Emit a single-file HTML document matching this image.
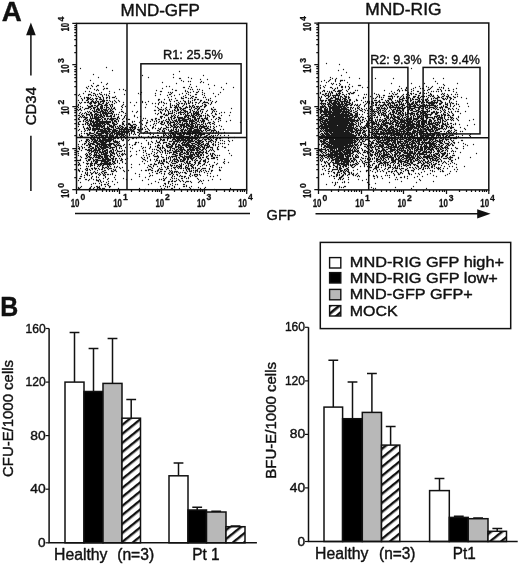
<!DOCTYPE html>
<html><head><meta charset="utf-8"><title>Figure</title>
<style>html,body{margin:0;padding:0;background:#fff}svg{display:block;filter:grayscale(1)}body{font-family:"Liberation Sans",sans-serif}</style></head>
<body>
<svg width="520" height="565" viewBox="0 0 520 565" font-family='"Liberation Sans", sans-serif' fill="#111">
<defs><pattern id="hatch" width="10" height="7" patternUnits="userSpaceOnUse" patternTransform="rotate(-39)"><rect width="10" height="7" fill="#fff"/><rect width="10" height="2.4" fill="#111"/></pattern><pattern id="hatch2" width="10" height="6" patternUnits="userSpaceOnUse" patternTransform="rotate(-40) translate(0 1)"><rect width="10" height="6" fill="#fff"/><rect width="10" height="2.6" fill="#111"/></pattern></defs>
<style>text{stroke:#111;stroke-width:.4px;stroke-linejoin:round}.tk text{stroke-width:.3px}</style>
<rect width="520" height="565" fill="#fff"/>
<text x="1.7" y="20.7" font-size="27.4" text-anchor="start" font-weight="bold" textLength="20" lengthAdjust="spacingAndGlyphs" >A</text>
<text x="0.3" y="315.8" font-size="27.2" text-anchor="start" font-weight="bold" textLength="18" lengthAdjust="spacingAndGlyphs" >B</text>
<text x="120.5" y="16.1" font-size="16" text-anchor="start" textLength="79.3" lengthAdjust="spacingAndGlyphs" stroke-width=".55">MND-GFP</text>
<text x="365.3" y="15.4" font-size="16" text-anchor="start" textLength="76.2" lengthAdjust="spacingAndGlyphs" stroke-width=".55">MND-RIG</text>
<path d="M84.5 109.5h0M109.5 121.5h0M83.5 115.5h0M103.5 99.5h0M84.5 131.5h0M106.5 108.5h0M115.5 101.5h0M97.5 118.5h0M126.5 118.5h0M89.5 129.5h0M99.5 112.5h0M94.5 115.5h0M101.5 105.5h0M110.5 111.5h0M78.5 105.5h0M82.5 116.5h0M81.5 114.5h0M89.5 111.5h0M134.5 115.5h0M107.5 132.5h0M95.5 105.5h0M97.5 109.5h0M99.5 127.5h0M104.5 125.5h0M118.5 121.5h0M105.5 114.5h0M108.5 122.5h0M109.5 116.5h0M112.5 106.5h0M99.5 124.5h0M116.5 119.5h0M104.5 107.5h0M101.5 111.5h0M100.5 122.5h0M87.5 119.5h0M104.5 94.5h0M109.5 100.5h0M106.5 105.5h0M100.5 104.5h0M117.5 118.5h0M90.5 88.5h0M100.5 101.5h0M107.5 129.5h0M125.5 90.5h0M99.5 126.5h0M110.5 105.5h0M98.5 96.5h0M89.5 103.5h0M110.5 118.5h0M78.5 126.5h0M100.5 107.5h0M115.5 127.5h0M98.5 105.5h0M96.5 146.5h0M107.5 83.5h0M109.5 126.5h0M93.5 111.5h0M125.5 106.5h0M99.5 93.5h0M97.5 89.5h0M90.5 120.5h0M106.5 95.5h0M105.5 110.5h0M78.5 124.5h0M91.5 121.5h0M104.5 118.5h0M106.5 113.5h0M94.5 112.5h0M103.5 103.5h0M92.5 117.5h0M83.5 93.5h0M114.5 116.5h0M92.5 130.5h0M100.5 111.5h0M122.5 111.5h0M89.5 147.5h0M113.5 112.5h0M80.5 112.5h0M80.5 68.5h0M110.5 106.5h0M96.5 143.5h0M96.5 135.5h0M104.5 142.5h0M88.5 98.5h0M116.5 130.5h0M81.5 102.5h0M107.5 127.5h0M90.5 123.5h0M85.5 123.5h0M112.5 105.5h0M121.5 115.5h0M96.5 127.5h0M96.5 132.5h0M114.5 103.5h0M113.5 111.5h0M90.5 113.5h0M94.5 129.5h0M79.5 134.5h0M98.5 112.5h0M93.5 95.5h0M100.5 106.5h0M111.5 125.5h0M78.5 104.5h0M90.5 97.5h0M102.5 101.5h0M106.5 142.5h0M106.5 123.5h0M89.5 120.5h0M106.5 102.5h0M109.5 136.5h0M91.5 146.5h0M97.5 106.5h0M89.5 125.5h0M89.5 91.5h0M110.5 116.5h0M100.5 113.5h0M100.5 117.5h0M94.5 131.5h0M91.5 92.5h0M104.5 113.5h0M95.5 113.5h0M102.5 123.5h0M87.5 128.5h0M108.5 145.5h0M95.5 122.5h0M91.5 113.5h0M110.5 113.5h0M96.5 122.5h0M96.5 102.5h0M93.5 129.5h0M84.5 129.5h0M82.5 99.5h0M102.5 117.5h0M114.5 123.5h0M106.5 103.5h0M81.5 135.5h0M88.5 102.5h0M112.5 130.5h0M109.5 119.5h0M93.5 121.5h0M94.5 138.5h0M87.5 130.5h0M103.5 86.5h0M128.5 119.5h0M79.5 119.5h0M87.5 88.5h0M104.5 124.5h0M108.5 107.5h0M80.5 121.5h0M95.5 114.5h0M99.5 119.5h0M88.5 94.5h0M102.5 108.5h0M80.5 116.5h0M107.5 131.5h0M110.5 119.5h0M102.5 116.5h0M100.5 98.5h0M93.5 93.5h0M89.5 126.5h0M106.5 128.5h0M94.5 102.5h0M111.5 138.5h0M103.5 89.5h0M111.5 117.5h0M91.5 118.5h0M85.5 118.5h0M96.5 116.5h0M82.5 100.5h0M86.5 120.5h0M96.5 119.5h0M87.5 117.5h0M122.5 122.5h0M96.5 99.5h0M106.5 104.5h0M107.5 140.5h0M88.5 112.5h0M103.5 97.5h0M103.5 117.5h0M98.5 117.5h0M94.5 125.5h0M88.5 99.5h0M112.5 101.5h0M107.5 103.5h0M86.5 117.5h0M90.5 104.5h0M91.5 115.5h0M102.5 96.5h0M89.5 127.5h0M103.5 122.5h0M97.5 138.5h0M106.5 121.5h0M88.5 86.5h0M106.5 67.5h0M102.5 119.5h0M97.5 108.5h0M103.5 126.5h0M99.5 121.5h0M84.5 102.5h0M105.5 113.5h0M88.5 141.5h0M103.5 115.5h0M79.5 115.5h0M99.5 109.5h0M100.5 112.5h0M85.5 119.5h0M101.5 106.5h0M116.5 148.5h0M123.5 102.5h0M79.5 109.5h0M92.5 101.5h0M86.5 115.5h0M96.5 115.5h0M91.5 138.5h0M103.5 101.5h0M97.5 128.5h0M96.5 114.5h0M113.5 129.5h0M92.5 139.5h0M90.5 124.5h0M87.5 123.5h0M118.5 117.5h0M97.5 85.5h0M97.5 137.5h0M102.5 127.5h0M116.5 131.5h0M91.5 135.5h0M99.5 128.5h0M97.5 119.5h0M91.5 101.5h0M108.5 113.5h0M88.5 128.5h0M101.5 82.5h0M93.5 124.5h0M90.5 129.5h0M114.5 114.5h0M92.5 136.5h0M100.5 114.5h0M84.5 128.5h0M97.5 101.5h0M105.5 111.5h0M94.5 110.5h0M98.5 85.5h0M112.5 118.5h0M114.5 115.5h0M83.5 127.5h0M122.5 105.5h0M104.5 101.5h0M104.5 100.5h0M95.5 117.5h0M83.5 117.5h0M92.5 106.5h0M90.5 128.5h0M94.5 93.5h0M97.5 112.5h0M98.5 110.5h0M108.5 95.5h0M80.5 96.5h0M98.5 118.5h0M124.5 116.5h0M119.5 101.5h0M86.5 108.5h0M106.5 116.5h0M78.5 119.5h0M96.5 129.5h0M93.5 118.5h0M89.5 124.5h0M99.5 110.5h0M92.5 115.5h0M82.5 107.5h0M88.5 121.5h0M100.5 130.5h0M125.5 115.5h0M97.5 124.5h0M115.5 96.5h0M101.5 132.5h0M85.5 124.5h0M98.5 123.5h0M98.5 77.5h0M117.5 128.5h0M102.5 113.5h0M96.5 100.5h0M94.5 118.5h0M112.5 104.5h0M83.5 120.5h0M100.5 102.5h0M97.5 139.5h0M103.5 111.5h0M103.5 131.5h0M99.5 123.5h0M90.5 109.5h0M102.5 126.5h0M79.5 147.5h0M91.5 99.5h0M97.5 144.5h0M88.5 108.5h0M116.5 98.5h0M102.5 111.5h0M94.5 124.5h0M98.5 119.5h0M102.5 95.5h0M95.5 134.5h0M97.5 107.5h0M87.5 97.5h0M94.5 109.5h0M121.5 129.5h0M108.5 121.5h0M101.5 125.5h0M93.5 102.5h0M119.5 125.5h0M98.5 101.5h0M91.5 105.5h0M89.5 106.5h0M103.5 98.5h0M102.5 130.5h0M105.5 129.5h0M106.5 94.5h0M104.5 121.5h0M111.5 112.5h0M84.5 119.5h0M113.5 118.5h0M79.5 121.5h0M96.5 142.5h0M111.5 104.5h0M109.5 97.5h0M93.5 122.5h0M101.5 92.5h0M79.5 117.5h0M90.5 107.5h0M114.5 118.5h0M84.5 113.5h0M95.5 135.5h0M105.5 132.5h0M110.5 133.5h0M109.5 138.5h0M113.5 119.5h0M81.5 117.5h0M92.5 110.5h0M96.5 155.5h0M93.5 108.5h0M101.5 101.5h0M90.5 80.5h0M107.5 110.5h0M110.5 101.5h0M99.5 122.5h0M109.5 108.5h0M79.5 129.5h0M103.5 113.5h0M91.5 119.5h0M101.5 104.5h0M93.5 99.5h0M103.5 128.5h0M96.5 86.5h0M106.5 120.5h0M123.5 104.5h0M101.5 126.5h0M85.5 117.5h0M93.5 74.5h0M84.5 97.5h0M94.5 132.5h0M101.5 108.5h0M94.5 105.5h0M107.5 126.5h0M78.5 146.5h0M96.5 98.5h0M109.5 96.5h0M118.5 114.5h0M109.5 134.5h0M105.5 109.5h0M97.5 120.5h0M85.5 112.5h0M112.5 119.5h0M104.5 123.5h0M101.5 127.5h0M101.5 122.5h0M109.5 93.5h0M94.5 103.5h0M106.5 109.5h0M81.5 110.5h0M87.5 98.5h0M106.5 106.5h0M77.5 106.5h0M106.5 131.5h0M109.5 113.5h0M96.5 124.5h0M87.5 120.5h0M132.5 111.5h0M100.5 123.5h0M95.5 103.5h0M85.5 102.5h0M97.5 105.5h0M97.5 126.5h0M111.5 120.5h0M96.5 126.5h0M100.5 119.5h0M101.5 109.5h0M90.5 133.5h0M103.5 102.5h0M104.5 109.5h0M94.5 111.5h0M82.5 115.5h0M100.5 139.5h0M90.5 106.5h0M96.5 113.5h0M117.5 117.5h0M89.5 98.5h0M78.5 115.5h0M105.5 130.5h0M109.5 124.5h0M90.5 102.5h0M109.5 98.5h0M111.5 115.5h0M93.5 139.5h0M106.5 84.5h0M93.5 120.5h0M83.5 124.5h0M86.5 87.5h0M90.5 103.5h0M119.5 89.5h0M114.5 92.5h0M90.5 118.5h0M127.5 136.5h0M104.5 130.5h0M113.5 97.5h0M92.5 86.5h0M99.5 97.5h0M101.5 121.5h0M94.5 116.5h0M105.5 112.5h0M124.5 117.5h0M89.5 133.5h0M87.5 102.5h0M98.5 116.5h0M102.5 100.5h0M105.5 104.5h0M92.5 118.5h0M89.5 115.5h0M89.5 119.5h0M96.5 117.5h0M95.5 121.5h0M87.5 111.5h0M86.5 128.5h0M99.5 136.5h0M78.5 110.5h0M88.5 106.5h0M84.5 117.5h0M79.5 102.5h0M96.5 110.5h0M94.5 142.5h0M98.5 125.5h0M94.5 117.5h0M87.5 114.5h0M114.5 107.5h0M90.5 116.5h0M98.5 109.5h0M122.5 132.5h0M87.5 137.5h0M80.5 103.5h0M114.5 100.5h0M108.5 102.5h0M98.5 114.5h0M98.5 103.5h0M114.5 129.5h0M89.5 107.5h0M95.5 116.5h0M121.5 109.5h0M126.5 129.5h0M90.5 112.5h0M91.5 85.5h0M104.5 119.5h0M103.5 125.5h0M124.5 144.5h0M106.5 88.5h0M103.5 112.5h0M96.5 125.5h0M96.5 121.5h0M89.5 144.5h0M99.5 103.5h0M96.5 123.5h0M88.5 134.5h0M86.5 100.5h0M112.5 123.5h0M95.5 95.5h0M124.5 94.5h0M85.5 108.5h0M98.5 90.5h0M98.5 124.5h0M95.5 98.5h0M107.5 88.5h0M101.5 114.5h0M80.5 109.5h0M79.5 94.5h0M91.5 114.5h0M83.5 121.5h0M87.5 99.5h0M101.5 130.5h0M92.5 129.5h0M104.5 116.5h0M91.5 120.5h0M80.5 106.5h0M102.5 137.5h0M99.5 99.5h0M100.5 97.5h0M83.5 126.5h0M87.5 108.5h0M96.5 90.5h0M85.5 121.5h0M100.5 124.5h0M104.5 105.5h0M107.5 111.5h0M88.5 125.5h0M96.5 96.5h0M102.5 105.5h0M107.5 97.5h0M107.5 134.5h0M108.5 109.5h0M93.5 107.5h0M101.5 115.5h0M79.5 113.5h0M104.5 115.5h0M80.5 108.5h0M106.5 112.5h0M134.5 105.5h0M99.5 104.5h0M90.5 117.5h0M78.5 107.5h0M113.5 116.5h0M109.5 111.5h0M96.5 118.5h0M88.5 97.5h0M108.5 127.5h0M107.5 124.5h0M81.5 98.5h0M84.5 98.5h0M102.5 106.5h0M101.5 99.5h0M93.5 101.5h0M103.5 121.5h0M95.5 111.5h0M94.5 126.5h0M97.5 111.5h0M78.5 95.5h0M94.5 108.5h0M107.5 119.5h0M100.5 135.5h0M100.5 116.5h0M118.5 100.5h0M89.5 94.5h0M91.5 108.5h0M104.5 112.5h0M92.5 116.5h0M95.5 124.5h0M102.5 107.5h0M95.5 102.5h0M79.5 124.5h0M107.5 116.5h0M86.5 140.5h0M101.5 94.5h0M84.5 143.5h0M95.5 118.5h0M92.5 100.5h0M87.5 105.5h0M106.5 97.5h0M98.5 108.5h0M91.5 102.5h0M106.5 100.5h0M94.5 130.5h0M97.5 117.5h0M110.5 109.5h0M87.5 122.5h0M108.5 112.5h0M109.5 125.5h0M97.5 94.5h0M103.5 100.5h0M81.5 136.5h0M88.5 101.5h0M116.5 122.5h0M87.5 127.5h0M88.5 107.5h0M94.5 89.5h0M94.5 123.5h0M112.5 114.5h0M82.5 113.5h0M78.5 123.5h0M108.5 116.5h0M85.5 91.5h0M91.5 95.5h0M92.5 133.5h0M118.5 120.5h0M106.5 98.5h0M98.5 130.5h0M98.5 104.5h0M95.5 107.5h0M102.5 112.5h0M112.5 102.5h0M107.5 105.5h0M100.5 129.5h0M109.5 91.5h0M97.5 98.5h0M88.5 95.5h0M109.5 135.5h0M107.5 135.5h0M105.5 105.5h0M94.5 122.5h0M78.5 130.5h0M93.5 127.5h0M128.5 130.5h0M114.5 108.5h0M103.5 114.5h0M86.5 118.5h0M91.5 106.5h0M104.5 138.5h0M95.5 101.5h0M93.5 130.5h0M100.5 121.5h0M100.5 108.5h0M105.5 118.5h0M92.5 114.5h0M92.5 122.5h0M100.5 99.5h0M105.5 121.5h0M104.5 110.5h0M77.5 109.5h0M104.5 88.5h0M86.5 113.5h0M111.5 108.5h0M89.5 130.5h0M93.5 83.5h0M121.5 146.5h0M97.5 122.5h0M101.5 110.5h0M86.5 97.5h0M99.5 115.5h0M78.5 118.5h0M103.5 135.5h0M108.5 118.5h0M87.5 134.5h0M87.5 100.5h0M92.5 105.5h0M106.5 107.5h0M97.5 123.5h0M97.5 131.5h0M103.5 109.5h0M91.5 103.5h0M111.5 113.5h0M78.5 122.5h0M90.5 94.5h0M123.5 89.5h0M78.5 100.5h0M95.5 94.5h0M107.5 118.5h0M102.5 103.5h0M91.5 124.5h0M81.5 133.5h0M114.5 97.5h0M93.5 128.5h0M92.5 126.5h0M79.5 170.5h0M113.5 108.5h0M122.5 155.5h0M103.5 130.5h0M96.5 137.5h0M93.5 137.5h0M93.5 143.5h0M119.5 163.5h0M106.5 136.5h0M98.5 148.5h0M115.5 124.5h0M108.5 139.5h0M93.5 142.5h0M119.5 126.5h0M91.5 178.5h0M97.5 140.5h0M105.5 122.5h0M90.5 135.5h0M107.5 168.5h0M114.5 170.5h0M90.5 99.5h0M114.5 137.5h0M93.5 135.5h0M115.5 146.5h0M104.5 151.5h0M109.5 152.5h0M98.5 164.5h0M95.5 139.5h0M107.5 150.5h0M106.5 122.5h0M98.5 150.5h0M102.5 144.5h0M94.5 149.5h0M111.5 129.5h0M113.5 171.5h0M110.5 159.5h0M108.5 183.5h0M102.5 158.5h0M114.5 141.5h0M115.5 150.5h0M121.5 151.5h0M120.5 151.5h0M94.5 128.5h0M99.5 144.5h0M91.5 149.5h0M104.5 155.5h0M106.5 182.5h0M111.5 150.5h0M116.5 149.5h0M97.5 151.5h0M105.5 133.5h0M99.5 156.5h0M87.5 161.5h0M97.5 114.5h0M114.5 130.5h0M107.5 162.5h0M113.5 151.5h0M96.5 111.5h0M105.5 159.5h0M105.5 157.5h0M105.5 154.5h0M92.5 98.5h0M98.5 126.5h0M102.5 132.5h0M91.5 161.5h0M107.5 163.5h0M129.5 139.5h0M111.5 133.5h0M110.5 143.5h0M99.5 131.5h0M114.5 163.5h0M93.5 144.5h0M119.5 147.5h0M88.5 129.5h0M110.5 110.5h0M96.5 128.5h0M104.5 163.5h0M113.5 149.5h0M113.5 128.5h0M106.5 157.5h0M102.5 141.5h0M96.5 148.5h0M104.5 139.5h0M112.5 160.5h0M99.5 139.5h0M99.5 137.5h0M101.5 162.5h0M110.5 115.5h0M86.5 145.5h0M104.5 126.5h0M116.5 146.5h0M89.5 132.5h0M112.5 135.5h0M104.5 157.5h0M125.5 163.5h0M106.5 132.5h0M106.5 115.5h0M116.5 152.5h0M112.5 163.5h0M88.5 123.5h0M99.5 179.5h0M103.5 154.5h0M108.5 144.5h0M104.5 160.5h0M107.5 113.5h0M108.5 124.5h0M107.5 159.5h0M100.5 142.5h0M107.5 153.5h0M108.5 155.5h0M104.5 143.5h0M93.5 126.5h0M103.5 141.5h0M103.5 178.5h0M90.5 158.5h0M112.5 153.5h0M108.5 160.5h0M95.5 151.5h0M101.5 136.5h0M110.5 138.5h0M96.5 149.5h0M116.5 102.5h0M116.5 136.5h0M96.5 156.5h0M118.5 137.5h0M107.5 179.5h0M96.5 145.5h0M101.5 118.5h0M97.5 145.5h0M102.5 145.5h0M94.5 164.5h0M80.5 137.5h0M101.5 140.5h0M94.5 160.5h0M99.5 120.5h0M114.5 154.5h0M106.5 158.5h0M123.5 178.5h0M112.5 174.5h0M116.5 147.5h0M103.5 158.5h0M106.5 161.5h0M85.5 169.5h0M103.5 165.5h0M113.5 122.5h0M112.5 132.5h0M113.5 139.5h0M111.5 135.5h0M110.5 160.5h0M97.5 160.5h0M110.5 135.5h0M96.5 160.5h0M98.5 128.5h0M102.5 147.5h0M117.5 155.5h0M100.5 115.5h0M109.5 162.5h0M113.5 164.5h0M108.5 185.5h0M98.5 155.5h0M103.5 143.5h0M99.5 154.5h0M119.5 118.5h0M106.5 162.5h0M98.5 141.5h0M99.5 141.5h0M113.5 150.5h0M100.5 141.5h0M99.5 151.5h0M120.5 145.5h0M105.5 156.5h0M101.5 147.5h0M109.5 130.5h0M110.5 145.5h0M110.5 147.5h0M113.5 136.5h0M89.5 159.5h0M92.5 163.5h0M86.5 141.5h0M96.5 106.5h0M110.5 162.5h0M115.5 141.5h0M113.5 162.5h0M113.5 125.5h0M99.5 157.5h0M125.5 113.5h0M100.5 137.5h0M100.5 151.5h0M101.5 129.5h0M102.5 139.5h0M101.5 146.5h0M91.5 150.5h0M102.5 154.5h0M101.5 154.5h0M103.5 148.5h0M94.5 150.5h0M103.5 164.5h0M104.5 122.5h0M101.5 134.5h0M109.5 156.5h0M94.5 107.5h0M87.5 124.5h0M104.5 164.5h0M96.5 161.5h0M95.5 137.5h0M101.5 185.5h0M86.5 139.5h0M91.5 165.5h0M101.5 142.5h0M79.5 135.5h0M104.5 145.5h0M115.5 158.5h0M102.5 151.5h0M94.5 140.5h0M121.5 139.5h0M107.5 144.5h0M113.5 140.5h0M95.5 141.5h0M116.5 144.5h0M114.5 144.5h0M121.5 138.5h0M109.5 148.5h0M90.5 138.5h0M109.5 186.5h0M117.5 154.5h0M88.5 150.5h0M88.5 159.5h0M116.5 153.5h0M108.5 166.5h0M95.5 173.5h0M105.5 124.5h0M104.5 148.5h0M105.5 135.5h0M100.5 134.5h0M121.5 106.5h0M120.5 127.5h0M114.5 133.5h0M113.5 123.5h0M100.5 149.5h0M106.5 149.5h0M124.5 134.5h0M105.5 146.5h0M105.5 147.5h0M108.5 129.5h0M111.5 164.5h0M92.5 137.5h0M102.5 142.5h0M106.5 153.5h0M117.5 126.5h0M98.5 135.5h0M110.5 156.5h0M100.5 131.5h0M80.5 165.5h0M106.5 133.5h0M95.5 129.5h0M123.5 139.5h0M103.5 142.5h0M94.5 134.5h0M105.5 131.5h0M116.5 142.5h0M105.5 138.5h0M119.5 167.5h0M103.5 153.5h0M104.5 129.5h0M104.5 131.5h0M105.5 155.5h0M97.5 166.5h0M105.5 150.5h0M111.5 127.5h0M95.5 161.5h0M108.5 158.5h0M96.5 136.5h0M99.5 188.5h0M96.5 152.5h0M111.5 155.5h0M112.5 181.5h0M103.5 159.5h0M102.5 124.5h0M103.5 146.5h0M114.5 156.5h0M108.5 167.5h0M102.5 150.5h0M97.5 129.5h0M122.5 161.5h0M103.5 181.5h0M96.5 162.5h0M119.5 158.5h0M103.5 139.5h0M109.5 128.5h0M100.5 155.5h0M87.5 140.5h0M98.5 138.5h0M123.5 123.5h0M104.5 159.5h0M116.5 171.5h0M90.5 121.5h0M98.5 120.5h0M119.5 133.5h0M97.5 133.5h0M116.5 141.5h0M79.5 149.5h0M100.5 144.5h0M85.5 179.5h0M94.5 156.5h0M95.5 155.5h0M108.5 133.5h0M104.5 140.5h0M97.5 159.5h0M90.5 150.5h0M93.5 148.5h0M115.5 159.5h0M83.5 162.5h0M121.5 131.5h0M99.5 150.5h0M107.5 161.5h0M101.5 144.5h0M114.5 142.5h0M104.5 156.5h0M112.5 121.5h0M99.5 158.5h0M108.5 141.5h0M113.5 135.5h0M102.5 166.5h0M92.5 168.5h0M87.5 133.5h0M99.5 187.5h0M95.5 154.5h0M102.5 143.5h0M112.5 147.5h0M117.5 145.5h0M90.5 148.5h0M93.5 150.5h0M105.5 184.5h0M106.5 139.5h0M101.5 131.5h0M110.5 168.5h0M96.5 163.5h0M110.5 153.5h0M107.5 139.5h0M107.5 151.5h0M98.5 165.5h0M104.5 162.5h0M126.5 133.5h0M108.5 137.5h0M120.5 160.5h0M102.5 171.5h0M114.5 145.5h0M119.5 148.5h0M93.5 155.5h0M110.5 157.5h0M96.5 153.5h0M117.5 161.5h0M106.5 130.5h0M96.5 168.5h0M116.5 114.5h0M101.5 163.5h0M111.5 144.5h0M95.5 150.5h0M81.5 157.5h0M92.5 165.5h0M118.5 188.5h0M97.5 157.5h0M115.5 126.5h0M99.5 186.5h0M120.5 131.5h0M122.5 123.5h0M88.5 160.5h0M110.5 150.5h0M88.5 144.5h0M91.5 143.5h0M117.5 162.5h0M99.5 134.5h0M102.5 140.5h0M95.5 149.5h0M81.5 146.5h0M114.5 162.5h0M114.5 124.5h0M119.5 151.5h0M105.5 158.5h0M97.5 188.5h0M98.5 180.5h0M115.5 131.5h0M106.5 152.5h0M95.5 145.5h0M111.5 147.5h0M102.5 160.5h0M88.5 143.5h0M108.5 138.5h0M105.5 136.5h0M89.5 145.5h0M113.5 144.5h0M104.5 172.5h0M109.5 164.5h0M98.5 131.5h0M115.5 118.5h0M122.5 153.5h0M111.5 171.5h0M110.5 122.5h0M110.5 146.5h0M91.5 141.5h0M111.5 140.5h0M117.5 119.5h0M107.5 114.5h0M123.5 170.5h0M105.5 137.5h0M91.5 151.5h0M112.5 148.5h0M114.5 153.5h0M107.5 133.5h0M95.5 157.5h0M102.5 122.5h0M93.5 161.5h0M93.5 157.5h0M103.5 163.5h0M101.5 135.5h0M85.5 143.5h0M105.5 144.5h0M109.5 122.5h0M90.5 153.5h0M90.5 144.5h0M93.5 160.5h0M84.5 116.5h0M101.5 157.5h0M103.5 140.5h0M103.5 133.5h0M110.5 148.5h0M100.5 180.5h0M95.5 169.5h0M112.5 158.5h0M101.5 164.5h0M104.5 150.5h0M110.5 164.5h0M122.5 150.5h0M101.5 152.5h0M98.5 133.5h0M90.5 143.5h0M104.5 184.5h0M107.5 149.5h0M98.5 158.5h0M94.5 139.5h0M97.5 187.5h0M110.5 121.5h0M96.5 133.5h0M105.5 142.5h0M110.5 129.5h0M97.5 147.5h0M93.5 125.5h0M107.5 158.5h0M110.5 139.5h0M104.5 127.5h0M102.5 148.5h0M107.5 174.5h0M92.5 135.5h0M112.5 171.5h0M100.5 133.5h0M104.5 175.5h0M106.5 163.5h0M93.5 141.5h0M89.5 114.5h0M102.5 133.5h0M108.5 140.5h0M107.5 136.5h0M115.5 138.5h0M108.5 159.5h0M103.5 151.5h0M95.5 159.5h0M112.5 161.5h0M87.5 155.5h0M84.5 137.5h0M111.5 126.5h0M119.5 145.5h0M85.5 158.5h0M112.5 109.5h0M98.5 174.5h0M103.5 167.5h0M84.5 133.5h0M110.5 151.5h0M100.5 152.5h0M98.5 153.5h0M112.5 113.5h0M82.5 144.5h0M98.5 157.5h0M130.5 147.5h0M100.5 146.5h0M97.5 170.5h0M105.5 119.5h0M86.5 156.5h0M107.5 155.5h0M93.5 147.5h0M98.5 134.5h0M80.5 136.5h0M105.5 152.5h0M106.5 146.5h0M91.5 163.5h0M82.5 136.5h0M91.5 174.5h0M98.5 149.5h0M101.5 143.5h0M105.5 140.5h0M102.5 168.5h0M107.5 156.5h0M90.5 127.5h0M95.5 172.5h0M94.5 163.5h0M81.5 150.5h0M118.5 156.5h0M115.5 163.5h0M102.5 135.5h0M105.5 163.5h0M94.5 114.5h0M112.5 173.5h0M102.5 173.5h0M115.5 160.5h0M103.5 149.5h0M110.5 166.5h0M105.5 167.5h0M117.5 143.5h0M100.5 125.5h0M115.5 140.5h0M104.5 154.5h0M95.5 119.5h0M97.5 155.5h0M122.5 137.5h0M115.5 109.5h0M99.5 155.5h0M112.5 111.5h0M97.5 143.5h0M114.5 147.5h0M88.5 152.5h0M111.5 152.5h0M89.5 151.5h0M104.5 135.5h0M106.5 134.5h0M94.5 153.5h0M96.5 150.5h0M107.5 121.5h0M96.5 140.5h0M91.5 112.5h0M86.5 163.5h0M110.5 155.5h0M109.5 159.5h0M112.5 152.5h0M110.5 126.5h0M90.5 157.5h0M111.5 143.5h0M111.5 119.5h0M112.5 131.5h0M99.5 149.5h0M113.5 138.5h0M118.5 138.5h0M121.5 154.5h0M111.5 139.5h0M106.5 144.5h0M91.5 148.5h0M91.5 125.5h0M105.5 170.5h0M122.5 167.5h0M118.5 128.5h0M114.5 125.5h0M109.5 137.5h0M105.5 151.5h0M102.5 110.5h0M89.5 142.5h0M90.5 172.5h0M105.5 148.5h0M98.5 160.5h0M101.5 169.5h0M87.5 135.5h0M101.5 160.5h0M100.5 140.5h0M95.5 126.5h0M90.5 122.5h0M113.5 131.5h0M106.5 141.5h0M91.5 152.5h0M102.5 156.5h0M104.5 147.5h0M107.5 165.5h0M100.5 94.5h0M117.5 133.5h0M86.5 133.5h0M122.5 127.5h0M97.5 132.5h0M109.5 142.5h0M107.5 147.5h0M95.5 152.5h0M105.5 128.5h0M104.5 153.5h0M109.5 129.5h0M112.5 134.5h0M95.5 140.5h0M107.5 115.5h0M117.5 141.5h0M99.5 138.5h0M110.5 140.5h0M88.5 149.5h0M112.5 155.5h0M84.5 177.5h0M89.5 134.5h0M91.5 133.5h0M121.5 130.5h0M95.5 130.5h0M112.5 122.5h0M99.5 140.5h0M117.5 150.5h0M104.5 161.5h0M109.5 160.5h0M110.5 144.5h0M96.5 159.5h0M103.5 144.5h0M106.5 147.5h0M104.5 146.5h0M103.5 132.5h0M97.5 162.5h0M92.5 158.5h0M86.5 122.5h0M94.5 152.5h0M94.5 165.5h0M100.5 174.5h0M91.5 173.5h0M92.5 125.5h0M106.5 172.5h0M118.5 132.5h0M113.5 126.5h0M115.5 170.5h0M103.5 147.5h0M85.5 141.5h0M96.5 120.5h0M99.5 125.5h0M106.5 114.5h0M116.5 132.5h0M108.5 164.5h0M94.5 141.5h0M106.5 155.5h0M98.5 129.5h0M102.5 136.5h0M103.5 136.5h0M84.5 144.5h0M107.5 100.5h0M98.5 147.5h0M88.5 156.5h0M102.5 167.5h0M122.5 140.5h0M109.5 104.5h0M97.5 115.5h0M95.5 125.5h0M89.5 149.5h0M108.5 178.5h0M95.5 147.5h0M94.5 137.5h0M93.5 138.5h0M107.5 141.5h0M109.5 165.5h0M105.5 164.5h0M94.5 155.5h0M100.5 158.5h0M85.5 154.5h0M92.5 128.5h0M82.5 124.5h0M103.5 161.5h0M94.5 144.5h0M104.5 132.5h0M92.5 121.5h0M103.5 174.5h0M125.5 154.5h0M107.5 146.5h0M111.5 170.5h0M124.5 136.5h0M113.5 143.5h0M121.5 148.5h0M113.5 156.5h0M102.5 149.5h0M109.5 132.5h0M89.5 150.5h0M104.5 144.5h0M86.5 114.5h0M102.5 131.5h0M113.5 159.5h0M120.5 156.5h0M102.5 121.5h0M109.5 144.5h0M109.5 151.5h0M88.5 114.5h0M120.5 125.5h0M100.5 181.5h0M100.5 147.5h0M99.5 148.5h0M89.5 157.5h0M116.5 158.5h0M98.5 156.5h0M121.5 160.5h0M78.5 148.5h0M105.5 161.5h0M109.5 141.5h0M105.5 160.5h0M103.5 171.5h0M119.5 155.5h0M118.5 151.5h0M105.5 139.5h0M87.5 145.5h0M117.5 130.5h0M106.5 110.5h0M108.5 147.5h0M106.5 150.5h0M109.5 146.5h0M119.5 143.5h0M112.5 143.5h0M102.5 163.5h0M99.5 152.5h0M82.5 147.5h0M113.5 147.5h0M114.5 121.5h0M117.5 123.5h0M88.5 180.5h0M119.5 130.5h0M115.5 133.5h0M111.5 158.5h0M97.5 125.5h0M111.5 137.5h0M109.5 131.5h0M111.5 110.5h0M106.5 156.5h0M88.5 139.5h0M97.5 146.5h0M105.5 141.5h0M89.5 146.5h0M115.5 120.5h0M112.5 126.5h0M107.5 128.5h0M90.5 132.5h0M95.5 148.5h0M92.5 151.5h0M94.5 136.5h0M93.5 133.5h0M105.5 172.5h0M99.5 143.5h0M106.5 159.5h0M106.5 137.5h0M118.5 145.5h0M121.5 158.5h0M86.5 166.5h0M105.5 153.5h0M115.5 145.5h0M81.5 174.5h0M90.5 159.5h0M111.5 154.5h0M100.5 164.5h0M97.5 127.5h0M104.5 173.5h0M100.5 160.5h0M114.5 161.5h0M106.5 145.5h0M102.5 157.5h0M96.5 154.5h0M98.5 168.5h0M117.5 182.5h0M95.5 142.5h0M123.5 124.5h0M102.5 120.5h0M91.5 139.5h0M91.5 157.5h0M94.5 154.5h0M101.5 133.5h0M112.5 149.5h0M99.5 146.5h0M98.5 189.5h0M112.5 97.5h0M104.5 128.5h0M110.5 174.5h0M91.5 162.5h0M123.5 154.5h0M99.5 175.5h0M107.5 157.5h0M103.5 137.5h0M106.5 154.5h0M87.5 139.5h0M127.5 158.5h0M117.5 166.5h0M121.5 159.5h0M99.5 117.5h0M98.5 102.5h0M117.5 138.5h0M103.5 138.5h0M112.5 120.5h0M111.5 151.5h0M98.5 137.5h0M109.5 168.5h0M116.5 167.5h0M95.5 128.5h0M103.5 123.5h0M109.5 140.5h0M109.5 139.5h0M114.5 120.5h0M107.5 152.5h0M99.5 129.5h0M113.5 152.5h0M124.5 171.5h0M106.5 164.5h0M86.5 149.5h0M102.5 165.5h0M113.5 124.5h0M103.5 152.5h0M103.5 145.5h0M97.5 150.5h0M109.5 143.5h0M110.5 125.5h0M107.5 107.5h0M101.5 116.5h0M118.5 142.5h0M96.5 173.5h0M102.5 159.5h0M96.5 141.5h0M106.5 135.5h0M113.5 158.5h0M85.5 130.5h0M92.5 143.5h0M96.5 157.5h0M97.5 142.5h0M110.5 154.5h0M85.5 149.5h0M92.5 140.5h0M87.5 150.5h0M79.5 160.5h0M97.5 135.5h0M95.5 162.5h0M99.5 145.5h0M101.5 107.5h0M89.5 140.5h0M96.5 109.5h0M88.5 135.5h0M108.5 174.5h0M116.5 135.5h0M108.5 123.5h0M107.5 166.5h0M96.5 177.5h0M91.5 136.5h0M114.5 177.5h0M90.5 145.5h0M100.5 126.5h0M99.5 135.5h0M90.5 155.5h0M101.5 161.5h0M112.5 136.5h0M104.5 170.5h0M101.5 172.5h0M122.5 162.5h0M117.5 142.5h0M125.5 147.5h0M98.5 144.5h0M110.5 134.5h0M111.5 118.5h0M112.5 159.5h0M114.5 184.5h0M93.5 123.5h0M101.5 153.5h0M109.5 145.5h0M99.5 160.5h0M108.5 130.5h0M113.5 141.5h0M115.5 179.5h0M124.5 150.5h0M115.5 169.5h0M99.5 133.5h0M107.5 123.5h0M105.5 143.5h0M98.5 121.5h0M93.5 159.5h0M106.5 167.5h0M112.5 70.5h0M87.5 169.5h0M114.5 167.5h0M113.5 157.5h0M92.5 147.5h0M112.5 137.5h0M108.5 128.5h0M99.5 164.5h0M108.5 163.5h0M114.5 138.5h0M113.5 161.5h0M108.5 131.5h0M105.5 145.5h0M98.5 187.5h0M107.5 164.5h0M80.5 156.5h0M101.5 156.5h0M104.5 168.5h0M95.5 146.5h0M86.5 158.5h0M102.5 138.5h0M123.5 135.5h0M113.5 153.5h0M92.5 144.5h0M125.5 159.5h0M107.5 122.5h0M91.5 123.5h0M113.5 130.5h0M117.5 160.5h0M88.5 147.5h0M102.5 129.5h0M115.5 142.5h0M111.5 107.5h0M101.5 145.5h0M90.5 189.5h0M102.5 161.5h0M105.5 162.5h0M91.5 177.5h0M92.5 148.5h0M97.5 121.5h0M105.5 174.5h0M87.5 168.5h0M98.5 143.5h0M97.5 152.5h0M99.5 166.5h0M78.5 165.5h0M87.5 170.5h0M105.5 176.5h0M114.5 166.5h0M93.5 172.5h0M95.5 183.5h0M82.5 148.5h0M98.5 181.5h0M90.5 165.5h0M99.5 183.5h0M93.5 188.5h0M82.5 171.5h0M108.5 169.5h0M78.5 188.5h0M86.5 137.5h0M89.5 175.5h0M99.5 173.5h0M87.5 164.5h0M96.5 176.5h0M81.5 140.5h0M80.5 182.5h0M89.5 169.5h0M93.5 151.5h0M90.5 164.5h0M78.5 160.5h0M90.5 187.5h0M96.5 180.5h0M108.5 161.5h0M90.5 163.5h0M78.5 162.5h0M81.5 176.5h0M88.5 163.5h0M96.5 179.5h0M90.5 166.5h0M85.5 137.5h0M109.5 163.5h0M108.5 181.5h0M85.5 172.5h0M97.5 172.5h0M80.5 187.5h0M77.5 151.5h0M115.5 175.5h0M86.5 170.5h0M92.5 173.5h0M91.5 154.5h0M89.5 179.5h0M86.5 168.5h0M87.5 157.5h0M80.5 160.5h0M87.5 172.5h0M94.5 187.5h0M100.5 163.5h0M86.5 160.5h0M98.5 177.5h0M86.5 142.5h0M84.5 175.5h0M107.5 184.5h0M79.5 178.5h0M88.5 166.5h0M92.5 176.5h0M100.5 156.5h0M93.5 179.5h0M79.5 188.5h0M91.5 184.5h0M80.5 168.5h0M80.5 159.5h0M78.5 144.5h0M80.5 176.5h0M78.5 180.5h0M81.5 186.5h0M87.5 154.5h0M105.5 177.5h0M109.5 187.5h0M103.5 175.5h0M93.5 183.5h0M79.5 148.5h0M101.5 184.5h0M101.5 182.5h0M91.5 164.5h0M78.5 164.5h0M77.5 160.5h0M89.5 153.5h0M89.5 188.5h0M79.5 171.5h0M91.5 186.5h0M79.5 141.5h0M97.5 161.5h0M87.5 163.5h0M78.5 153.5h0M90.5 188.5h0M95.5 163.5h0M80.5 178.5h0M90.5 146.5h0M89.5 160.5h0M78.5 170.5h0M86.5 155.5h0M97.5 180.5h0M97.5 164.5h0M96.5 186.5h0M78.5 151.5h0M104.5 188.5h0M110.5 186.5h0M81.5 131.5h0M78.5 155.5h0M111.5 168.5h0M99.5 169.5h0M85.5 173.5h0M87.5 174.5h0M90.5 170.5h0M105.5 186.5h0M86.5 153.5h0M86.5 174.5h0M79.5 164.5h0M99.5 189.5h0M103.5 188.5h0M100.5 188.5h0M94.5 167.5h0M86.5 179.5h0M94.5 171.5h0M103.5 160.5h0M94.5 168.5h0M102.5 188.5h0M79.5 163.5h0M110.5 163.5h0M102.5 152.5h0M100.5 165.5h0M101.5 141.5h0M91.5 168.5h0M87.5 175.5h0M84.5 147.5h0M96.5 189.5h0M128.5 170.5h0M89.5 156.5h0M122.5 159.5h0M78.5 169.5h0M89.5 154.5h0M78.5 187.5h0M107.5 160.5h0M102.5 169.5h0M95.5 168.5h0M87.5 173.5h0M92.5 169.5h0M113.5 169.5h0M97.5 186.5h0M153.5 124.5h0M168.5 166.5h0M194.5 116.5h0M184.5 113.5h0M190.5 188.5h0M213.5 157.5h0M213.5 141.5h0M188.5 144.5h0M174.5 123.5h0M214.5 109.5h0M181.5 125.5h0M205.5 123.5h0M170.5 94.5h0M178.5 151.5h0M191.5 130.5h0M181.5 161.5h0M171.5 135.5h0M161.5 113.5h0M199.5 131.5h0M192.5 152.5h0M181.5 117.5h0M182.5 103.5h0M204.5 121.5h0M186.5 154.5h0M187.5 154.5h0M184.5 142.5h0M181.5 112.5h0M176.5 150.5h0M207.5 130.5h0M197.5 148.5h0M194.5 109.5h0M190.5 126.5h0M207.5 123.5h0M208.5 159.5h0M163.5 157.5h0M196.5 149.5h0M159.5 99.5h0M209.5 146.5h0M179.5 149.5h0M200.5 126.5h0M191.5 108.5h0M177.5 159.5h0M189.5 136.5h0M191.5 127.5h0M166.5 103.5h0M163.5 128.5h0M195.5 119.5h0M193.5 152.5h0M186.5 162.5h0M187.5 140.5h0M161.5 91.5h0M180.5 124.5h0M209.5 136.5h0M183.5 157.5h0M178.5 150.5h0M187.5 119.5h0M192.5 105.5h0M195.5 130.5h0M144.5 138.5h0M193.5 165.5h0M188.5 149.5h0M186.5 136.5h0M185.5 136.5h0M194.5 129.5h0M179.5 117.5h0M190.5 128.5h0M215.5 102.5h0M222.5 140.5h0M195.5 126.5h0M191.5 138.5h0M202.5 112.5h0M222.5 146.5h0M196.5 150.5h0M185.5 182.5h0M221.5 167.5h0M191.5 171.5h0M184.5 156.5h0M158.5 156.5h0M186.5 138.5h0M160.5 123.5h0M184.5 158.5h0M212.5 149.5h0M193.5 105.5h0M190.5 137.5h0M203.5 144.5h0M190.5 138.5h0M183.5 120.5h0M193.5 107.5h0M195.5 163.5h0M195.5 141.5h0M185.5 116.5h0M195.5 167.5h0M219.5 138.5h0M165.5 142.5h0M196.5 158.5h0M176.5 171.5h0M193.5 146.5h0M212.5 130.5h0M193.5 147.5h0M204.5 163.5h0M193.5 126.5h0M206.5 99.5h0M195.5 99.5h0M196.5 139.5h0M183.5 160.5h0M203.5 147.5h0M180.5 128.5h0M192.5 138.5h0M183.5 184.5h0M180.5 112.5h0M184.5 132.5h0M198.5 155.5h0M190.5 141.5h0M194.5 123.5h0M190.5 140.5h0M203.5 133.5h0M167.5 110.5h0M196.5 147.5h0M188.5 154.5h0M191.5 165.5h0M204.5 126.5h0M174.5 125.5h0M167.5 146.5h0M174.5 122.5h0M199.5 162.5h0M192.5 125.5h0M184.5 87.5h0M166.5 109.5h0M211.5 142.5h0M172.5 111.5h0M152.5 136.5h0M168.5 136.5h0M180.5 161.5h0M197.5 112.5h0M169.5 123.5h0M190.5 149.5h0M181.5 124.5h0M206.5 141.5h0M152.5 120.5h0M195.5 174.5h0M181.5 136.5h0M185.5 130.5h0M176.5 123.5h0M148.5 129.5h0M180.5 138.5h0M199.5 108.5h0M174.5 138.5h0M174.5 135.5h0M180.5 160.5h0M205.5 129.5h0M189.5 109.5h0M164.5 128.5h0M213.5 143.5h0M176.5 152.5h0M207.5 115.5h0M194.5 117.5h0M179.5 144.5h0M201.5 155.5h0M192.5 136.5h0M176.5 132.5h0M170.5 149.5h0M159.5 161.5h0M175.5 129.5h0M189.5 161.5h0M185.5 91.5h0M157.5 146.5h0M206.5 165.5h0M175.5 151.5h0M187.5 124.5h0M162.5 122.5h0M149.5 154.5h0M195.5 159.5h0M176.5 147.5h0M212.5 156.5h0M203.5 97.5h0M183.5 153.5h0M188.5 157.5h0M183.5 158.5h0M166.5 169.5h0M202.5 150.5h0M171.5 115.5h0M186.5 143.5h0M177.5 137.5h0M183.5 145.5h0M185.5 121.5h0M185.5 110.5h0M203.5 157.5h0M174.5 163.5h0M177.5 122.5h0M183.5 147.5h0M190.5 181.5h0M193.5 141.5h0M198.5 143.5h0M203.5 115.5h0M183.5 125.5h0M174.5 151.5h0M171.5 141.5h0M170.5 159.5h0M185.5 166.5h0M197.5 156.5h0M184.5 143.5h0M203.5 125.5h0M184.5 149.5h0M201.5 140.5h0M172.5 134.5h0M197.5 138.5h0M189.5 107.5h0M180.5 122.5h0M211.5 103.5h0M171.5 126.5h0M190.5 89.5h0M207.5 117.5h0M206.5 126.5h0M172.5 92.5h0M162.5 121.5h0M200.5 133.5h0M203.5 137.5h0M200.5 132.5h0M177.5 117.5h0M179.5 124.5h0M172.5 132.5h0M196.5 114.5h0M172.5 148.5h0M188.5 158.5h0M197.5 89.5h0M198.5 124.5h0M176.5 125.5h0M196.5 97.5h0M183.5 112.5h0M183.5 142.5h0M182.5 131.5h0M166.5 144.5h0M210.5 173.5h0M201.5 121.5h0M182.5 152.5h0M205.5 144.5h0M171.5 116.5h0M198.5 156.5h0M205.5 162.5h0M169.5 119.5h0M182.5 137.5h0M212.5 158.5h0M197.5 145.5h0M176.5 136.5h0M174.5 136.5h0M174.5 142.5h0M190.5 165.5h0M187.5 123.5h0M190.5 118.5h0M173.5 125.5h0M193.5 189.5h0M188.5 119.5h0M187.5 136.5h0M186.5 140.5h0M172.5 150.5h0M155.5 95.5h0M188.5 132.5h0M197.5 126.5h0M187.5 168.5h0M170.5 103.5h0M172.5 146.5h0M206.5 152.5h0M182.5 160.5h0M193.5 111.5h0M191.5 137.5h0M183.5 121.5h0M188.5 101.5h0M184.5 144.5h0M180.5 175.5h0M192.5 134.5h0M164.5 160.5h0M172.5 143.5h0M173.5 121.5h0M206.5 150.5h0M208.5 158.5h0M176.5 137.5h0M176.5 83.5h0M185.5 142.5h0M173.5 138.5h0M179.5 145.5h0M203.5 149.5h0M194.5 149.5h0M203.5 152.5h0M207.5 145.5h0M175.5 140.5h0M177.5 131.5h0M178.5 130.5h0M201.5 127.5h0M211.5 131.5h0M216.5 111.5h0M184.5 121.5h0M177.5 141.5h0M187.5 152.5h0M193.5 138.5h0M218.5 121.5h0M184.5 150.5h0M180.5 150.5h0M177.5 136.5h0M168.5 143.5h0M195.5 148.5h0M171.5 147.5h0M201.5 152.5h0M211.5 170.5h0M208.5 141.5h0M163.5 142.5h0M175.5 150.5h0M182.5 149.5h0M187.5 134.5h0M184.5 172.5h0M185.5 189.5h0M189.5 145.5h0M174.5 95.5h0M213.5 110.5h0M191.5 146.5h0M195.5 104.5h0M179.5 138.5h0M200.5 155.5h0M204.5 134.5h0M221.5 133.5h0M207.5 156.5h0M224.5 135.5h0M187.5 107.5h0M190.5 161.5h0M188.5 146.5h0M164.5 103.5h0M182.5 129.5h0M181.5 151.5h0M192.5 154.5h0M202.5 168.5h0M197.5 113.5h0M182.5 132.5h0M200.5 145.5h0M185.5 140.5h0M229.5 153.5h0M186.5 145.5h0M180.5 155.5h0M179.5 133.5h0M205.5 104.5h0M169.5 156.5h0M188.5 156.5h0M180.5 153.5h0M191.5 152.5h0M184.5 130.5h0M199.5 132.5h0M204.5 133.5h0M166.5 107.5h0M230.5 120.5h0M212.5 115.5h0M182.5 124.5h0M178.5 148.5h0M197.5 135.5h0M179.5 164.5h0M200.5 136.5h0M190.5 154.5h0M161.5 112.5h0M189.5 115.5h0M203.5 148.5h0M175.5 110.5h0M180.5 152.5h0M195.5 136.5h0M203.5 161.5h0M185.5 158.5h0M189.5 142.5h0M174.5 171.5h0M168.5 118.5h0M191.5 158.5h0M202.5 119.5h0M189.5 148.5h0M161.5 127.5h0M218.5 132.5h0M180.5 120.5h0M161.5 116.5h0M213.5 137.5h0M181.5 164.5h0M196.5 142.5h0M206.5 105.5h0M207.5 133.5h0M162.5 110.5h0M181.5 146.5h0M204.5 127.5h0M173.5 143.5h0M184.5 139.5h0M171.5 107.5h0M204.5 93.5h0M199.5 151.5h0M182.5 119.5h0M213.5 165.5h0M217.5 147.5h0M197.5 140.5h0M210.5 129.5h0M188.5 94.5h0M198.5 109.5h0M185.5 133.5h0M186.5 119.5h0M193.5 170.5h0M192.5 117.5h0M185.5 123.5h0M189.5 138.5h0M181.5 138.5h0M184.5 120.5h0M155.5 125.5h0M187.5 157.5h0M200.5 137.5h0M197.5 109.5h0M192.5 167.5h0M165.5 137.5h0M171.5 93.5h0M187.5 171.5h0M157.5 147.5h0M153.5 126.5h0M155.5 119.5h0M181.5 114.5h0M171.5 145.5h0M205.5 168.5h0M199.5 107.5h0M174.5 139.5h0M213.5 107.5h0M213.5 138.5h0M183.5 139.5h0M201.5 126.5h0M179.5 120.5h0M196.5 131.5h0M207.5 143.5h0M191.5 114.5h0M178.5 118.5h0M200.5 106.5h0M208.5 147.5h0M215.5 145.5h0M184.5 153.5h0M203.5 126.5h0M198.5 163.5h0M216.5 126.5h0M206.5 129.5h0M194.5 121.5h0M181.5 176.5h0M184.5 136.5h0M195.5 134.5h0M195.5 127.5h0M186.5 125.5h0M197.5 151.5h0M163.5 131.5h0M205.5 130.5h0M206.5 147.5h0M182.5 109.5h0M171.5 136.5h0M173.5 159.5h0M220.5 170.5h0M215.5 144.5h0M178.5 168.5h0M192.5 123.5h0M198.5 153.5h0M213.5 131.5h0M197.5 124.5h0M197.5 142.5h0M194.5 150.5h0M193.5 154.5h0M168.5 147.5h0M187.5 149.5h0M185.5 146.5h0M190.5 101.5h0M198.5 119.5h0M204.5 118.5h0M205.5 139.5h0M188.5 126.5h0M183.5 144.5h0M192.5 126.5h0M188.5 165.5h0M185.5 119.5h0M186.5 111.5h0M182.5 140.5h0M201.5 113.5h0M185.5 107.5h0M192.5 128.5h0M215.5 119.5h0M186.5 137.5h0M176.5 113.5h0M194.5 99.5h0M207.5 135.5h0M180.5 141.5h0M207.5 138.5h0M206.5 111.5h0M211.5 130.5h0M200.5 160.5h0M194.5 135.5h0M203.5 170.5h0M185.5 90.5h0M192.5 144.5h0M184.5 123.5h0M193.5 113.5h0M226.5 121.5h0M194.5 106.5h0M169.5 100.5h0M173.5 144.5h0M180.5 132.5h0M195.5 162.5h0M146.5 122.5h0M165.5 128.5h0M196.5 120.5h0M181.5 147.5h0M234.5 137.5h0M174.5 161.5h0M185.5 102.5h0M199.5 153.5h0M169.5 147.5h0M189.5 130.5h0M196.5 113.5h0M170.5 165.5h0M188.5 124.5h0M181.5 130.5h0M188.5 113.5h0M186.5 144.5h0M197.5 116.5h0M180.5 137.5h0M179.5 157.5h0M225.5 147.5h0M177.5 138.5h0M188.5 128.5h0M181.5 163.5h0M187.5 121.5h0M208.5 137.5h0M185.5 150.5h0M211.5 147.5h0M182.5 136.5h0M186.5 134.5h0M195.5 102.5h0M197.5 127.5h0M168.5 92.5h0M197.5 118.5h0M184.5 137.5h0M205.5 136.5h0M186.5 124.5h0M180.5 108.5h0M214.5 127.5h0M212.5 179.5h0M183.5 138.5h0M202.5 165.5h0M201.5 134.5h0M197.5 155.5h0M208.5 84.5h0M191.5 123.5h0M174.5 187.5h0M188.5 140.5h0M199.5 134.5h0M170.5 179.5h0M205.5 116.5h0M199.5 146.5h0M170.5 111.5h0M169.5 143.5h0M208.5 126.5h0M205.5 106.5h0M192.5 164.5h0M164.5 179.5h0M200.5 163.5h0M187.5 133.5h0M194.5 136.5h0M208.5 128.5h0M205.5 137.5h0M190.5 132.5h0M182.5 123.5h0M230.5 188.5h0M199.5 137.5h0M186.5 147.5h0M172.5 130.5h0M178.5 104.5h0M194.5 100.5h0M191.5 164.5h0M202.5 183.5h0M190.5 106.5h0M190.5 176.5h0M195.5 125.5h0M210.5 124.5h0M174.5 112.5h0M200.5 111.5h0M187.5 114.5h0M158.5 162.5h0M198.5 103.5h0M198.5 132.5h0M187.5 144.5h0M206.5 171.5h0M164.5 180.5h0M175.5 135.5h0M197.5 147.5h0M201.5 145.5h0M165.5 115.5h0M165.5 186.5h0M176.5 162.5h0M178.5 123.5h0M198.5 111.5h0M176.5 105.5h0M213.5 126.5h0M205.5 102.5h0M195.5 152.5h0M197.5 128.5h0M200.5 82.5h0M208.5 134.5h0M171.5 129.5h0M204.5 168.5h0M215.5 96.5h0M173.5 130.5h0M195.5 124.5h0M178.5 140.5h0M219.5 117.5h0M174.5 127.5h0M218.5 94.5h0M215.5 133.5h0M201.5 131.5h0M183.5 161.5h0M187.5 143.5h0M186.5 120.5h0M173.5 133.5h0M195.5 129.5h0M193.5 133.5h0M166.5 177.5h0M181.5 143.5h0M183.5 100.5h0M204.5 146.5h0M187.5 159.5h0M187.5 117.5h0M183.5 129.5h0M171.5 132.5h0M214.5 157.5h0M202.5 149.5h0M181.5 98.5h0M199.5 122.5h0M214.5 122.5h0M188.5 181.5h0M200.5 101.5h0M183.5 159.5h0M164.5 123.5h0M153.5 127.5h0M202.5 144.5h0M174.5 141.5h0M213.5 158.5h0M177.5 124.5h0M180.5 109.5h0M178.5 160.5h0M167.5 140.5h0M206.5 135.5h0M180.5 166.5h0M193.5 149.5h0M224.5 159.5h0M169.5 161.5h0M193.5 112.5h0M200.5 147.5h0M214.5 151.5h0M206.5 136.5h0M194.5 175.5h0M212.5 170.5h0M171.5 118.5h0M224.5 132.5h0M157.5 171.5h0M197.5 114.5h0M201.5 154.5h0M179.5 139.5h0M183.5 114.5h0M200.5 141.5h0M192.5 103.5h0M199.5 141.5h0M184.5 116.5h0M195.5 132.5h0M192.5 100.5h0M170.5 133.5h0M175.5 163.5h0M224.5 161.5h0M207.5 114.5h0M196.5 134.5h0M189.5 125.5h0M199.5 168.5h0M170.5 136.5h0M189.5 162.5h0M194.5 114.5h0M199.5 138.5h0M182.5 150.5h0M175.5 121.5h0M202.5 146.5h0M187.5 139.5h0M180.5 114.5h0M208.5 138.5h0M179.5 158.5h0M188.5 77.5h0M186.5 133.5h0M175.5 126.5h0M193.5 115.5h0M221.5 115.5h0M170.5 144.5h0M168.5 112.5h0M156.5 123.5h0M191.5 166.5h0M201.5 109.5h0M216.5 140.5h0M211.5 135.5h0M206.5 156.5h0M186.5 161.5h0M191.5 147.5h0M168.5 130.5h0M206.5 125.5h0M194.5 140.5h0M186.5 167.5h0M219.5 169.5h0M176.5 156.5h0M173.5 132.5h0M178.5 146.5h0M194.5 160.5h0M172.5 126.5h0M182.5 172.5h0M198.5 164.5h0M189.5 135.5h0M193.5 130.5h0M183.5 136.5h0M164.5 130.5h0M161.5 121.5h0M188.5 125.5h0M196.5 122.5h0M183.5 186.5h0M191.5 121.5h0M205.5 187.5h0M183.5 148.5h0M220.5 140.5h0M228.5 135.5h0M182.5 147.5h0M176.5 133.5h0M191.5 156.5h0M216.5 114.5h0M184.5 125.5h0M186.5 146.5h0M176.5 149.5h0M216.5 101.5h0M187.5 142.5h0M206.5 153.5h0M200.5 166.5h0M195.5 120.5h0M202.5 103.5h0M207.5 144.5h0M168.5 183.5h0M180.5 78.5h0M196.5 127.5h0M191.5 139.5h0M195.5 112.5h0M190.5 116.5h0M200.5 128.5h0M208.5 130.5h0M171.5 99.5h0M193.5 120.5h0M192.5 141.5h0M201.5 135.5h0M185.5 156.5h0M173.5 152.5h0M180.5 181.5h0M198.5 157.5h0M213.5 128.5h0M153.5 136.5h0M174.5 124.5h0M216.5 164.5h0M191.5 157.5h0M167.5 122.5h0M179.5 140.5h0M191.5 122.5h0M186.5 127.5h0M177.5 165.5h0M174.5 160.5h0M197.5 174.5h0M196.5 119.5h0M229.5 141.5h0M201.5 171.5h0M206.5 102.5h0M193.5 148.5h0M212.5 155.5h0M216.5 157.5h0M196.5 129.5h0M192.5 147.5h0M174.5 107.5h0M196.5 153.5h0M169.5 120.5h0M210.5 136.5h0M183.5 124.5h0M197.5 110.5h0M187.5 150.5h0M188.5 163.5h0M219.5 170.5h0M184.5 145.5h0M199.5 152.5h0M224.5 147.5h0M193.5 132.5h0M210.5 127.5h0M168.5 134.5h0M188.5 150.5h0M205.5 117.5h0M224.5 141.5h0M206.5 157.5h0M173.5 148.5h0M191.5 140.5h0M185.5 141.5h0M189.5 144.5h0M163.5 133.5h0M215.5 139.5h0M177.5 155.5h0M169.5 135.5h0M222.5 143.5h0M191.5 145.5h0M197.5 178.5h0M190.5 133.5h0M217.5 175.5h0M178.5 113.5h0M174.5 159.5h0M173.5 135.5h0M223.5 162.5h0M214.5 129.5h0M202.5 121.5h0M169.5 150.5h0M178.5 115.5h0M188.5 88.5h0M199.5 171.5h0M189.5 156.5h0M176.5 140.5h0M220.5 118.5h0M197.5 149.5h0M198.5 118.5h0M171.5 162.5h0M211.5 158.5h0M207.5 79.5h0M187.5 132.5h0M203.5 75.5h0M202.5 139.5h0M213.5 136.5h0M209.5 130.5h0M192.5 120.5h0M188.5 134.5h0M194.5 130.5h0M184.5 131.5h0M199.5 142.5h0M202.5 127.5h0M217.5 159.5h0M170.5 130.5h0M218.5 117.5h0M189.5 151.5h0M194.5 146.5h0M177.5 134.5h0M179.5 142.5h0M196.5 135.5h0M193.5 157.5h0M167.5 138.5h0M189.5 123.5h0M168.5 117.5h0M187.5 158.5h0M180.5 145.5h0M209.5 145.5h0M194.5 154.5h0M168.5 151.5h0M164.5 142.5h0M185.5 101.5h0M198.5 120.5h0M192.5 139.5h0M176.5 161.5h0M180.5 165.5h0M182.5 143.5h0M177.5 140.5h0M190.5 163.5h0M210.5 138.5h0M179.5 94.5h0M172.5 176.5h0M200.5 157.5h0M171.5 131.5h0M177.5 100.5h0M220.5 92.5h0M180.5 117.5h0M179.5 147.5h0M194.5 143.5h0M209.5 164.5h0M195.5 168.5h0M196.5 112.5h0M212.5 123.5h0M191.5 149.5h0M183.5 133.5h0M177.5 162.5h0M196.5 144.5h0M199.5 144.5h0M195.5 135.5h0M189.5 149.5h0M213.5 117.5h0M185.5 126.5h0M184.5 140.5h0M220.5 135.5h0M168.5 121.5h0M205.5 152.5h0M228.5 140.5h0M185.5 117.5h0M179.5 71.5h0M176.5 121.5h0M214.5 116.5h0M213.5 116.5h0M190.5 121.5h0M202.5 131.5h0M202.5 141.5h0M177.5 107.5h0M192.5 102.5h0M218.5 144.5h0M195.5 170.5h0M183.5 140.5h0M180.5 159.5h0M164.5 133.5h0M195.5 118.5h0M167.5 167.5h0M220.5 138.5h0M188.5 115.5h0M172.5 139.5h0M212.5 165.5h0M156.5 140.5h0M191.5 136.5h0M184.5 118.5h0M207.5 102.5h0M170.5 146.5h0M163.5 160.5h0M170.5 138.5h0M176.5 130.5h0M210.5 141.5h0M182.5 135.5h0M181.5 127.5h0M191.5 115.5h0M197.5 125.5h0M188.5 145.5h0M179.5 122.5h0M198.5 136.5h0M205.5 145.5h0M171.5 125.5h0M196.5 130.5h0M202.5 157.5h0M176.5 100.5h0M185.5 115.5h0M181.5 80.5h0M173.5 141.5h0M191.5 151.5h0M168.5 124.5h0M198.5 145.5h0M179.5 118.5h0M187.5 112.5h0M204.5 172.5h0M175.5 134.5h0M203.5 119.5h0M197.5 152.5h0M188.5 98.5h0M199.5 114.5h0M191.5 159.5h0M183.5 110.5h0M177.5 110.5h0M196.5 170.5h0M190.5 146.5h0M186.5 106.5h0M168.5 168.5h0M184.5 133.5h0M221.5 126.5h0M201.5 128.5h0M192.5 166.5h0M196.5 86.5h0M163.5 124.5h0M170.5 122.5h0M194.5 138.5h0M209.5 141.5h0M180.5 140.5h0M167.5 95.5h0M193.5 123.5h0M180.5 156.5h0M190.5 156.5h0M222.5 137.5h0M194.5 118.5h0M170.5 152.5h0M196.5 154.5h0M192.5 119.5h0M181.5 139.5h0M186.5 130.5h0M187.5 125.5h0M172.5 116.5h0M176.5 141.5h0M190.5 148.5h0M217.5 138.5h0M189.5 134.5h0M191.5 141.5h0M172.5 122.5h0M213.5 132.5h0M183.5 98.5h0M204.5 188.5h0M190.5 134.5h0M199.5 124.5h0M213.5 144.5h0M195.5 117.5h0M198.5 131.5h0M188.5 130.5h0M228.5 144.5h0M162.5 148.5h0M160.5 112.5h0M200.5 140.5h0M156.5 159.5h0M173.5 77.5h0M167.5 136.5h0M201.5 124.5h0M204.5 139.5h0M165.5 150.5h0M180.5 107.5h0M186.5 170.5h0M183.5 119.5h0M175.5 146.5h0M170.5 131.5h0M189.5 147.5h0M191.5 126.5h0M179.5 137.5h0M198.5 141.5h0M165.5 125.5h0M168.5 97.5h0M187.5 127.5h0M164.5 137.5h0M160.5 94.5h0M203.5 123.5h0M163.5 143.5h0M192.5 133.5h0M201.5 146.5h0M184.5 176.5h0M188.5 136.5h0M217.5 155.5h0M184.5 119.5h0M182.5 120.5h0M161.5 102.5h0M203.5 134.5h0M169.5 144.5h0M177.5 108.5h0M181.5 131.5h0M197.5 143.5h0M179.5 180.5h0M201.5 106.5h0M191.5 154.5h0M196.5 141.5h0M148.5 142.5h0M159.5 142.5h0M171.5 119.5h0M165.5 133.5h0M187.5 167.5h0M174.5 165.5h0M182.5 112.5h0M196.5 174.5h0M211.5 139.5h0M191.5 131.5h0M182.5 145.5h0M177.5 104.5h0M193.5 167.5h0M174.5 109.5h0M191.5 124.5h0M180.5 134.5h0M190.5 127.5h0M177.5 126.5h0M181.5 134.5h0M172.5 185.5h0M192.5 124.5h0M191.5 170.5h0M197.5 154.5h0M179.5 154.5h0M200.5 158.5h0M187.5 115.5h0M193.5 91.5h0M203.5 130.5h0M170.5 124.5h0M207.5 118.5h0M187.5 128.5h0M207.5 153.5h0M207.5 147.5h0M173.5 142.5h0M198.5 112.5h0M200.5 188.5h0M206.5 151.5h0M194.5 111.5h0M204.5 102.5h0M189.5 155.5h0M175.5 98.5h0M181.5 154.5h0M211.5 109.5h0M178.5 138.5h0M163.5 120.5h0M219.5 155.5h0M215.5 130.5h0M186.5 165.5h0M198.5 91.5h0M192.5 150.5h0M174.5 154.5h0M186.5 126.5h0M212.5 154.5h0M199.5 117.5h0M190.5 129.5h0M199.5 116.5h0M208.5 103.5h0M188.5 133.5h0M175.5 159.5h0M208.5 151.5h0M213.5 150.5h0M186.5 115.5h0M195.5 108.5h0M183.5 126.5h0M169.5 153.5h0M184.5 127.5h0M173.5 154.5h0M162.5 147.5h0M212.5 148.5h0M160.5 163.5h0M172.5 145.5h0M204.5 120.5h0M164.5 122.5h0M183.5 181.5h0M170.5 174.5h0M198.5 134.5h0M218.5 149.5h0M212.5 111.5h0M165.5 171.5h0M203.5 127.5h0M183.5 170.5h0M180.5 147.5h0M199.5 133.5h0M159.5 151.5h0M170.5 113.5h0M205.5 140.5h0M188.5 92.5h0M206.5 148.5h0M172.5 112.5h0M202.5 142.5h0M184.5 108.5h0M210.5 149.5h0M210.5 132.5h0M189.5 105.5h0M195.5 171.5h0M204.5 104.5h0M166.5 145.5h0M213.5 145.5h0M170.5 135.5h0M192.5 122.5h0M210.5 126.5h0M193.5 150.5h0M184.5 103.5h0M189.5 120.5h0M164.5 113.5h0M187.5 145.5h0M192.5 131.5h0M178.5 161.5h0M195.5 122.5h0M186.5 173.5h0M181.5 150.5h0M187.5 181.5h0M169.5 146.5h0M161.5 163.5h0M211.5 140.5h0M181.5 135.5h0M173.5 134.5h0M181.5 156.5h0M189.5 122.5h0M183.5 87.5h0M203.5 121.5h0M215.5 113.5h0M212.5 112.5h0M183.5 118.5h0M206.5 119.5h0M209.5 123.5h0M177.5 139.5h0M175.5 161.5h0M219.5 118.5h0M208.5 161.5h0M201.5 144.5h0M200.5 120.5h0M208.5 115.5h0M195.5 156.5h0M171.5 168.5h0M166.5 119.5h0M165.5 151.5h0M194.5 145.5h0M196.5 111.5h0M182.5 122.5h0M204.5 136.5h0M198.5 114.5h0M210.5 153.5h0M176.5 157.5h0M168.5 125.5h0M221.5 112.5h0M201.5 181.5h0M178.5 120.5h0M196.5 126.5h0M218.5 119.5h0M203.5 168.5h0M176.5 128.5h0M188.5 166.5h0M228.5 138.5h0M163.5 163.5h0M211.5 155.5h0M206.5 118.5h0M173.5 163.5h0M201.5 115.5h0M201.5 122.5h0M180.5 121.5h0M203.5 120.5h0M209.5 122.5h0M206.5 131.5h0M215.5 135.5h0M212.5 147.5h0M175.5 147.5h0M202.5 118.5h0M192.5 110.5h0M179.5 107.5h0M188.5 137.5h0M176.5 107.5h0M176.5 106.5h0M189.5 157.5h0M183.5 135.5h0M186.5 121.5h0M197.5 169.5h0M172.5 160.5h0M157.5 135.5h0M180.5 126.5h0M175.5 90.5h0M192.5 156.5h0M190.5 112.5h0M179.5 112.5h0M185.5 108.5h0M190.5 152.5h0M161.5 154.5h0M163.5 134.5h0M176.5 166.5h0M186.5 141.5h0M179.5 166.5h0M196.5 106.5h0M197.5 132.5h0M198.5 142.5h0M168.5 173.5h0M175.5 127.5h0M204.5 107.5h0M164.5 140.5h0M178.5 134.5h0M185.5 159.5h0M158.5 100.5h0M191.5 120.5h0M189.5 112.5h0M196.5 152.5h0M208.5 144.5h0M192.5 145.5h0M182.5 98.5h0M217.5 149.5h0M191.5 125.5h0M201.5 142.5h0M187.5 129.5h0M170.5 134.5h0M205.5 113.5h0M161.5 139.5h0M215.5 155.5h0M176.5 129.5h0M179.5 151.5h0M178.5 131.5h0M193.5 128.5h0M167.5 168.5h0M191.5 128.5h0M211.5 113.5h0M181.5 120.5h0M197.5 106.5h0M202.5 90.5h0M223.5 129.5h0M175.5 124.5h0M178.5 136.5h0M204.5 148.5h0M160.5 147.5h0M174.5 168.5h0M186.5 93.5h0M193.5 116.5h0M178.5 126.5h0M193.5 153.5h0M160.5 109.5h0M160.5 148.5h0M193.5 96.5h0M180.5 101.5h0M163.5 102.5h0M199.5 149.5h0M209.5 133.5h0M177.5 142.5h0M187.5 160.5h0M210.5 98.5h0M186.5 156.5h0M194.5 155.5h0M166.5 146.5h0M195.5 144.5h0M204.5 106.5h0M199.5 127.5h0M167.5 137.5h0M216.5 131.5h0M194.5 133.5h0M192.5 140.5h0M180.5 154.5h0M173.5 129.5h0M187.5 113.5h0M171.5 122.5h0M158.5 103.5h0M196.5 92.5h0M216.5 132.5h0M199.5 126.5h0M160.5 116.5h0M201.5 118.5h0M193.5 158.5h0M179.5 188.5h0M180.5 113.5h0M189.5 187.5h0M204.5 164.5h0M171.5 156.5h0M207.5 162.5h0M157.5 107.5h0M178.5 102.5h0M182.5 106.5h0M220.5 179.5h0M203.5 102.5h0M200.5 154.5h0M209.5 150.5h0M171.5 133.5h0M191.5 133.5h0M177.5 146.5h0M203.5 164.5h0M190.5 109.5h0M183.5 149.5h0M183.5 134.5h0M192.5 149.5h0M209.5 134.5h0M195.5 138.5h0M195.5 161.5h0M188.5 139.5h0M185.5 132.5h0M231.5 155.5h0M184.5 162.5h0M203.5 138.5h0M219.5 113.5h0M195.5 113.5h0M185.5 168.5h0M194.5 147.5h0M174.5 118.5h0M170.5 104.5h0M180.5 146.5h0M200.5 149.5h0M207.5 110.5h0M201.5 100.5h0M192.5 175.5h0M170.5 148.5h0M201.5 133.5h0M193.5 131.5h0M180.5 135.5h0M199.5 102.5h0M182.5 144.5h0M161.5 117.5h0M189.5 121.5h0M203.5 109.5h0M166.5 86.5h0M172.5 110.5h0M229.5 115.5h0M189.5 103.5h0M206.5 128.5h0M170.5 150.5h0M188.5 142.5h0M211.5 156.5h0M186.5 123.5h0M198.5 146.5h0M182.5 125.5h0M185.5 172.5h0M189.5 129.5h0M210.5 176.5h0M174.5 149.5h0M199.5 118.5h0M201.5 130.5h0M160.5 138.5h0M151.5 167.5h0M198.5 187.5h0M199.5 148.5h0M198.5 162.5h0M189.5 137.5h0M205.5 170.5h0M192.5 98.5h0M186.5 97.5h0M161.5 101.5h0M202.5 105.5h0M187.5 137.5h0M198.5 139.5h0M215.5 114.5h0M157.5 158.5h0M221.5 137.5h0M207.5 175.5h0M170.5 117.5h0M166.5 158.5h0M214.5 158.5h0M194.5 119.5h0M183.5 96.5h0M206.5 139.5h0M155.5 146.5h0M181.5 108.5h0M167.5 123.5h0M189.5 128.5h0M190.5 98.5h0M202.5 120.5h0M198.5 150.5h0M176.5 103.5h0M203.5 160.5h0M171.5 96.5h0M230.5 112.5h0M188.5 143.5h0M195.5 139.5h0M167.5 162.5h0M172.5 175.5h0M190.5 95.5h0M203.5 141.5h0M209.5 139.5h0M192.5 158.5h0M185.5 138.5h0M178.5 119.5h0M190.5 130.5h0M178.5 129.5h0M190.5 84.5h0M206.5 143.5h0M191.5 113.5h0M200.5 143.5h0M202.5 126.5h0M190.5 155.5h0M200.5 180.5h0M174.5 172.5h0M200.5 175.5h0M166.5 129.5h0M207.5 128.5h0M171.5 173.5h0M198.5 130.5h0M151.5 119.5h0M216.5 118.5h0M190.5 153.5h0M188.5 100.5h0M212.5 153.5h0M202.5 124.5h0M185.5 112.5h0M205.5 160.5h0M190.5 142.5h0M184.5 177.5h0M218.5 134.5h0M187.5 131.5h0M175.5 152.5h0M163.5 129.5h0M203.5 151.5h0M186.5 157.5h0M182.5 142.5h0M182.5 117.5h0M196.5 123.5h0M158.5 122.5h0M168.5 113.5h0M212.5 136.5h0M187.5 151.5h0M202.5 134.5h0M178.5 110.5h0M197.5 130.5h0M188.5 141.5h0M181.5 118.5h0M175.5 106.5h0M205.5 149.5h0M177.5 171.5h0M213.5 130.5h0M195.5 142.5h0M170.5 123.5h0M164.5 161.5h0M205.5 124.5h0M175.5 131.5h0M195.5 115.5h0M205.5 115.5h0M181.5 97.5h0M198.5 106.5h0M168.5 138.5h0M177.5 116.5h0M212.5 109.5h0M203.5 82.5h0M198.5 129.5h0M175.5 156.5h0M180.5 149.5h0M172.5 189.5h0M168.5 137.5h0M197.5 165.5h0M161.5 124.5h0M202.5 153.5h0M172.5 140.5h0M189.5 140.5h0M184.5 159.5h0M162.5 151.5h0M199.5 140.5h0M194.5 127.5h0M180.5 118.5h0M199.5 181.5h0M154.5 123.5h0M164.5 117.5h0M194.5 107.5h0M179.5 135.5h0M180.5 125.5h0M183.5 108.5h0M197.5 160.5h0M184.5 111.5h0M192.5 132.5h0M154.5 121.5h0M210.5 147.5h0M189.5 141.5h0M170.5 160.5h0M182.5 157.5h0M209.5 116.5h0M169.5 172.5h0M170.5 125.5h0M161.5 118.5h0M183.5 132.5h0M180.5 133.5h0M231.5 108.5h0M166.5 126.5h0M219.5 125.5h0M194.5 137.5h0M172.5 89.5h0M184.5 104.5h0M192.5 143.5h0M228.5 162.5h0M199.5 163.5h0M175.5 117.5h0M167.5 121.5h0M210.5 140.5h0M200.5 115.5h0M158.5 144.5h0M182.5 118.5h0M182.5 161.5h0M187.5 156.5h0M170.5 92.5h0M197.5 150.5h0M214.5 124.5h0M155.5 143.5h0M191.5 107.5h0M192.5 106.5h0M212.5 133.5h0M193.5 117.5h0M196.5 137.5h0M224.5 112.5h0M196.5 160.5h0M173.5 139.5h0M172.5 165.5h0M198.5 121.5h0M180.5 136.5h0M205.5 118.5h0M216.5 139.5h0M216.5 138.5h0M174.5 114.5h0M200.5 110.5h0M174.5 120.5h0M198.5 140.5h0M173.5 136.5h0M179.5 155.5h0M194.5 131.5h0M209.5 169.5h0M212.5 144.5h0M176.5 138.5h0M200.5 152.5h0M198.5 154.5h0M198.5 144.5h0M188.5 152.5h0M208.5 146.5h0M187.5 161.5h0M173.5 115.5h0M200.5 130.5h0M189.5 131.5h0M174.5 143.5h0M186.5 186.5h0M171.5 152.5h0M219.5 167.5h0M161.5 122.5h0M174.5 126.5h0M188.5 103.5h0M189.5 118.5h0M210.5 104.5h0M192.5 115.5h0M215.5 141.5h0M175.5 107.5h0M192.5 127.5h0M191.5 129.5h0M191.5 155.5h0M211.5 108.5h0M188.5 118.5h0M213.5 121.5h0M161.5 123.5h0M149.5 137.5h0M207.5 158.5h0M156.5 141.5h0M189.5 86.5h0M162.5 82.5h0M200.5 135.5h0M176.5 165.5h0M183.5 81.5h0M208.5 122.5h0M202.5 94.5h0M162.5 131.5h0M179.5 103.5h0M181.5 129.5h0M148.5 144.5h0M172.5 157.5h0M185.5 139.5h0M189.5 132.5h0M188.5 159.5h0M176.5 146.5h0M214.5 162.5h0M176.5 120.5h0M174.5 117.5h0M163.5 109.5h0M186.5 185.5h0M158.5 163.5h0M178.5 141.5h0M188.5 117.5h0M192.5 121.5h0M162.5 124.5h0M166.5 162.5h0M160.5 137.5h0M194.5 113.5h0M153.5 134.5h0M173.5 74.5h0M178.5 166.5h0M172.5 133.5h0M174.5 116.5h0M175.5 132.5h0M240.5 122.5h0M196.5 132.5h0M141.5 92.5h0M158.5 130.5h0M201.5 159.5h0M215.5 109.5h0M189.5 139.5h0M198.5 182.5h0M203.5 180.5h0M174.5 101.5h0M188.5 178.5h0M154.5 163.5h0M173.5 153.5h0M212.5 101.5h0M204.5 161.5h0M176.5 153.5h0M165.5 134.5h0M187.5 153.5h0M155.5 118.5h0M205.5 105.5h0M158.5 145.5h0M177.5 149.5h0M183.5 127.5h0M190.5 124.5h0M168.5 145.5h0M233.5 87.5h0M178.5 139.5h0M187.5 111.5h0M175.5 115.5h0M203.5 155.5h0M170.5 106.5h0M189.5 133.5h0M169.5 174.5h0M174.5 137.5h0M197.5 133.5h0M198.5 113.5h0M210.5 166.5h0M160.5 149.5h0M173.5 156.5h0M213.5 135.5h0M195.5 153.5h0M152.5 149.5h0M186.5 181.5h0M190.5 131.5h0M160.5 128.5h0M198.5 135.5h0M190.5 119.5h0M184.5 124.5h0M171.5 188.5h0M184.5 134.5h0M166.5 135.5h0M202.5 137.5h0M157.5 114.5h0M179.5 176.5h0M185.5 153.5h0M183.5 105.5h0M181.5 152.5h0M184.5 110.5h0M186.5 122.5h0M202.5 92.5h0M167.5 127.5h0M198.5 115.5h0M212.5 167.5h0M176.5 144.5h0M159.5 141.5h0M203.5 143.5h0M182.5 156.5h0M174.5 105.5h0M214.5 130.5h0M164.5 174.5h0M170.5 164.5h0M180.5 111.5h0M193.5 143.5h0M140.5 116.5h0M217.5 157.5h0M199.5 89.5h0M197.5 107.5h0M192.5 148.5h0M185.5 167.5h0M179.5 119.5h0M232.5 140.5h0M169.5 113.5h0M196.5 102.5h0M190.5 157.5h0M214.5 189.5h0M180.5 130.5h0M200.5 161.5h0M148.5 77.5h0M147.5 157.5h0M168.5 122.5h0M170.5 121.5h0M158.5 150.5h0M172.5 144.5h0M204.5 101.5h0M214.5 85.5h0M170.5 101.5h0M164.5 139.5h0M157.5 142.5h0M184.5 157.5h0M163.5 135.5h0M171.5 130.5h0M155.5 93.5h0M178.5 112.5h0M193.5 114.5h0M186.5 178.5h0M191.5 97.5h0M193.5 168.5h0M147.5 131.5h0M178.5 144.5h0M188.5 116.5h0M181.5 103.5h0M170.5 107.5h0M169.5 99.5h0M199.5 156.5h0M164.5 135.5h0M200.5 125.5h0M202.5 109.5h0M166.5 142.5h0M145.5 170.5h0M184.5 101.5h0M220.5 129.5h0M168.5 111.5h0M151.5 141.5h0M208.5 100.5h0M162.5 152.5h0M169.5 109.5h0M163.5 161.5h0M184.5 117.5h0M174.5 156.5h0M224.5 143.5h0M228.5 150.5h0M205.5 161.5h0M211.5 119.5h0M210.5 100.5h0M184.5 126.5h0M150.5 121.5h0M211.5 150.5h0M204.5 128.5h0M185.5 120.5h0M207.5 173.5h0M197.5 131.5h0M198.5 147.5h0M174.5 131.5h0M218.5 142.5h0M163.5 114.5h0M150.5 125.5h0M201.5 116.5h0M156.5 160.5h0M175.5 136.5h0M185.5 144.5h0M202.5 111.5h0M155.5 106.5h0M176.5 155.5h0M186.5 103.5h0M218.5 131.5h0M192.5 155.5h0M173.5 128.5h0M196.5 108.5h0M169.5 141.5h0M191.5 87.5h0M177.5 133.5h0M169.5 86.5h0M166.5 115.5h0M208.5 171.5h0M134.5 116.5h0M190.5 135.5h0M167.5 150.5h0M216.5 137.5h0M155.5 110.5h0M195.5 176.5h0M162.5 88.5h0M175.5 120.5h0M186.5 104.5h0M198.5 99.5h0M226.5 83.5h0M195.5 146.5h0M153.5 166.5h0M181.5 149.5h0M170.5 127.5h0M186.5 107.5h0M142.5 101.5h0M207.5 119.5h0M160.5 139.5h0M196.5 138.5h0M190.5 111.5h0M217.5 148.5h0M156.5 149.5h0M175.5 108.5h0M188.5 102.5h0M187.5 163.5h0M190.5 147.5h0M189.5 170.5h0M196.5 156.5h0M176.5 111.5h0M179.5 153.5h0M208.5 139.5h0M200.5 134.5h0M211.5 171.5h0M171.5 117.5h0M192.5 89.5h0M220.5 120.5h0M195.5 131.5h0M168.5 114.5h0M210.5 137.5h0M179.5 167.5h0M220.5 143.5h0M214.5 111.5h0M178.5 117.5h0M173.5 122.5h0M169.5 131.5h0M135.5 144.5h0M122.5 119.5h0M195.5 94.5h0M188.5 153.5h0M196.5 148.5h0M158.5 157.5h0M183.5 164.5h0M177.5 121.5h0M145.5 102.5h0M217.5 135.5h0M133.5 127.5h0M158.5 135.5h0M165.5 153.5h0M146.5 104.5h0M165.5 110.5h0M178.5 133.5h0M200.5 151.5h0M155.5 181.5h0M177.5 109.5h0M218.5 146.5h0M186.5 152.5h0M205.5 97.5h0M197.5 92.5h0M172.5 120.5h0M205.5 128.5h0M154.5 110.5h0M194.5 157.5h0M150.5 169.5h0M156.5 90.5h0M195.5 97.5h0M200.5 100.5h0M165.5 111.5h0M167.5 145.5h0M147.5 161.5h0M193.5 145.5h0M174.5 110.5h0M208.5 155.5h0M164.5 131.5h0M182.5 176.5h0M168.5 127.5h0M147.5 122.5h0M200.5 79.5h0M161.5 109.5h0M169.5 170.5h0M182.5 151.5h0M162.5 116.5h0M176.5 131.5h0M185.5 129.5h0M171.5 146.5h0M167.5 139.5h0M187.5 91.5h0M159.5 131.5h0M188.5 138.5h0M181.5 126.5h0M190.5 145.5h0M203.5 122.5h0M166.5 127.5h0M189.5 175.5h0M185.5 176.5h0M209.5 129.5h0M191.5 150.5h0M213.5 123.5h0M177.5 160.5h0M201.5 169.5h0M190.5 102.5h0M212.5 166.5h0M190.5 158.5h0M197.5 137.5h0M179.5 78.5h0M224.5 163.5h0M207.5 127.5h0M158.5 110.5h0M177.5 167.5h0M158.5 113.5h0M208.5 142.5h0M186.5 116.5h0M191.5 168.5h0M178.5 105.5h0M174.5 167.5h0M204.5 147.5h0M142.5 161.5h0M165.5 149.5h0M188.5 131.5h0M198.5 152.5h0M158.5 128.5h0M190.5 120.5h0M177.5 127.5h0M154.5 156.5h0M188.5 81.5h0M155.5 156.5h0M162.5 140.5h0M199.5 158.5h0M205.5 126.5h0M187.5 138.5h0M172.5 161.5h0M195.5 133.5h0M196.5 115.5h0M171.5 177.5h0M199.5 130.5h0M163.5 105.5h0M184.5 152.5h0M158.5 108.5h0M179.5 134.5h0M196.5 94.5h0M197.5 129.5h0M152.5 103.5h0M170.5 105.5h0M187.5 147.5h0M173.5 118.5h0M175.5 144.5h0M179.5 121.5h0M170.5 141.5h0M175.5 155.5h0M189.5 146.5h0M175.5 169.5h0M187.5 162.5h0M153.5 165.5h0M178.5 109.5h0M156.5 120.5h0M179.5 136.5h0M159.5 102.5h0M182.5 93.5h0M210.5 122.5h0M178.5 106.5h0M197.5 171.5h0M204.5 95.5h0M168.5 119.5h0M198.5 168.5h0M156.5 118.5h0M186.5 151.5h0M189.5 106.5h0M208.5 120.5h0M172.5 113.5h0M208.5 99.5h0M160.5 91.5h0M183.5 141.5h0M214.5 154.5h0M166.5 155.5h0M190.5 110.5h0M221.5 87.5h0M163.5 136.5h0M158.5 99.5h0M173.5 127.5h0M176.5 127.5h0M182.5 138.5h0M169.5 94.5h0M150.5 175.5h0M155.5 103.5h0M217.5 163.5h0M149.5 166.5h0M197.5 136.5h0M183.5 128.5h0M178.5 145.5h0M215.5 142.5h0M182.5 130.5h0M171.5 113.5h0M178.5 157.5h0M197.5 121.5h0M172.5 163.5h0M200.5 129.5h0M180.5 148.5h0M164.5 99.5h0M190.5 150.5h0M193.5 125.5h0M185.5 173.5h0M192.5 116.5h0M165.5 120.5h0M179.5 127.5h0M166.5 114.5h0M190.5 92.5h0M194.5 132.5h0M182.5 139.5h0M174.5 134.5h0M189.5 126.5h0M142.5 75.5h0M183.5 109.5h0M192.5 96.5h0M159.5 129.5h0M167.5 115.5h0M199.5 128.5h0M185.5 97.5h0M199.5 143.5h0M167.5 147.5h0M152.5 151.5h0M178.5 147.5h0M176.5 90.5h0M181.5 148.5h0M165.5 152.5h0M213.5 153.5h0M201.5 81.5h0M193.5 121.5h0M197.5 175.5h0M157.5 132.5h0M185.5 114.5h0M159.5 109.5h0M193.5 137.5h0M206.5 145.5h0M191.5 143.5h0M162.5 130.5h0M185.5 95.5h0M166.5 121.5h0M201.5 150.5h0M163.5 140.5h0M181.5 110.5h0M172.5 105.5h0M159.5 145.5h0M158.5 104.5h0M157.5 130.5h0M181.5 140.5h0M165.5 108.5h0M185.5 145.5h0M173.5 151.5h0M212.5 140.5h0M223.5 89.5h0M194.5 164.5h0M209.5 88.5h0M158.5 137.5h0M190.5 81.5h0M145.5 107.5h0M162.5 145.5h0M159.5 119.5h0M198.5 148.5h0M154.5 152.5h0M184.5 155.5h0M191.5 78.5h0M197.5 99.5h0M169.5 137.5h0M164.5 148.5h0M200.5 116.5h0M213.5 93.5h0M172.5 154.5h0M198.5 108.5h0M208.5 143.5h0M204.5 145.5h0M184.5 184.5h0M199.5 161.5h0M148.5 101.5h0M164.5 150.5h0M190.5 173.5h0M211.5 102.5h0M185.5 111.5h0M130.5 102.5h0M207.5 146.5h0M184.5 160.5h0M198.5 179.5h0M147.5 167.5h0M170.5 171.5h0M179.5 173.5h0M178.5 179.5h0M163.5 176.5h0M145.5 177.5h0M189.5 169.5h0M185.5 163.5h0M161.5 179.5h0M163.5 164.5h0M156.5 173.5h0M150.5 147.5h0M143.5 159.5h0M148.5 169.5h0M199.5 174.5h0M176.5 178.5h0M194.5 174.5h0M142.5 180.5h0M143.5 150.5h0M173.5 167.5h0M154.5 159.5h0M164.5 171.5h0M172.5 178.5h0M143.5 152.5h0M198.5 189.5h0M177.5 184.5h0M158.5 170.5h0M184.5 186.5h0M196.5 176.5h0M131.5 155.5h0M150.5 134.5h0M174.5 152.5h0M150.5 166.5h0M172.5 188.5h0M144.5 163.5h0M202.5 147.5h0M135.5 173.5h0M148.5 179.5h0M160.5 189.5h0M191.5 186.5h0M160.5 143.5h0M170.5 157.5h0M182.5 178.5h0M139.5 164.5h0M151.5 153.5h0M150.5 159.5h0M146.5 140.5h0M172.5 180.5h0M168.5 163.5h0M126.5 179.5h0M174.5 176.5h0M189.5 163.5h0M175.5 145.5h0M175.5 184.5h0M172.5 181.5h0M154.5 164.5h0M167.5 166.5h0M181.5 168.5h0M172.5 156.5h0M159.5 168.5h0M163.5 180.5h0M170.5 184.5h0M170.5 158.5h0M165.5 178.5h0M166.5 159.5h0M172.5 173.5h0M161.5 169.5h0M130.5 156.5h0M160.5 140.5h0M164.5 166.5h0M143.5 147.5h0M160.5 152.5h0M175.5 141.5h0M171.5 165.5h0M160.5 186.5h0M176.5 174.5h0M175.5 154.5h0M156.5 156.5h0M167.5 187.5h0M148.5 165.5h0M152.5 175.5h0M160.5 171.5h0M145.5 160.5h0M152.5 172.5h0M157.5 155.5h0M171.5 172.5h0M174.5 178.5h0M169.5 181.5h0M174.5 158.5h0M175.5 171.5h0M139.5 176.5h0M157.5 173.5h0M166.5 161.5h0M163.5 178.5h0M163.5 159.5h0M151.5 183.5h0M160.5 169.5h0M158.5 169.5h0M157.5 156.5h0M205.5 159.5h0M213.5 176.5h0M161.5 188.5h0M181.5 178.5h0M149.5 169.5h0M145.5 189.5h0M161.5 160.5h0M164.5 159.5h0M159.5 179.5h0M155.5 171.5h0M165.5 183.5h0M147.5 158.5h0M174.5 148.5h0M161.5 165.5h0M190.5 171.5h0M149.5 156.5h0M163.5 185.5h0M190.5 174.5h0M181.5 166.5h0M155.5 164.5h0M145.5 151.5h0M151.5 164.5h0M209.5 168.5h0M168.5 182.5h0M194.5 162.5h0M172.5 183.5h0M161.5 167.5h0M161.5 173.5h0M131.5 179.5h0M204.5 160.5h0M182.5 180.5h0M189.5 171.5h0M162.5 163.5h0M166.5 157.5h0M150.5 164.5h0M148.5 136.5h0M142.5 148.5h0M189.5 168.5h0M165.5 167.5h0M176.5 158.5h0M178.5 172.5h0M150.5 160.5h0M164.5 188.5h0M181.5 165.5h0M175.5 181.5h0M164.5 173.5h0M167.5 151.5h0M152.5 170.5h0M161.5 161.5h0M141.5 157.5h0M158.5 147.5h0M188.5 169.5h0M157.5 170.5h0M156.5 153.5h0M146.5 155.5h0M162.5 157.5h0M164.5 183.5h0M183.5 168.5h0M158.5 182.5h0M161.5 150.5h0M172.5 172.5h0M162.5 162.5h0M152.5 168.5h0M149.5 173.5h0M159.5 160.5h0M177.5 174.5h0M170.5 147.5h0M131.5 167.5h0M176.5 159.5h0M174.5 186.5h0M188.5 168.5h0M165.5 184.5h0M169.5 186.5h0M141.5 136.5h0M134.5 144.5h0M203.5 154.5h0M167.5 186.5h0M171.5 166.5h0M159.5 148.5h0M139.5 174.5h0M177.5 153.5h0M148.5 154.5h0M148.5 184.5h0M161.5 156.5h0M192.5 159.5h0M171.5 170.5h0M191.5 182.5h0M177.5 151.5h0M151.5 170.5h0M181.5 159.5h0M167.5 153.5h0M197.5 170.5h0M173.5 174.5h0M176.5 172.5h0M180.5 168.5h0M162.5 169.5h0M182.5 154.5h0M131.5 164.5h0M188.5 177.5h0M177.5 175.5h0M141.5 143.5h0M157.5 166.5h0M159.5 172.5h0M161.5 171.5h0M149.5 176.5h0M145.5 150.5h0M153.5 155.5h0M192.5 160.5h0M199.5 172.5h0M210.5 154.5h0M144.5 157.5h0M162.5 146.5h0M146.5 153.5h0M142.5 158.5h0M139.5 188.5h0M176.5 180.5h0M188.5 164.5h0M157.5 152.5h0M200.5 170.5h0M156.5 164.5h0M148.5 170.5h0M150.5 146.5h0M149.5 148.5h0M186.5 169.5h0M195.5 172.5h0M172.5 171.5h0M168.5 157.5h0M176.5 151.5h0M168.5 158.5h0M141.5 170.5h0M136.5 154.5h0M168.5 181.5h0M157.5 160.5h0M193.5 172.5h0M174.5 181.5h0M208.5 180.5h0M181.5 167.5h0M154.5 149.5h0M202.5 152.5h0M169.5 152.5h0M123.5 145.5h0M171.5 181.5h0M146.5 170.5h0M157.5 189.5h0M180.5 172.5h0M175.5 167.5h0M159.5 162.5h0M132.5 145.5h0M123.5 132.5h0M164.5 114.5h0M138.5 130.5h0M142.5 120.5h0M158.5 119.5h0M137.5 117.5h0M101.5 148.5h0M147.5 120.5h0M123.5 118.5h0M133.5 134.5h0M136.5 138.5h0M158.5 138.5h0M124.5 121.5h0M122.5 134.5h0M141.5 146.5h0M121.5 111.5h0M152.5 142.5h0M152.5 127.5h0M124.5 151.5h0M123.5 140.5h0M144.5 159.5h0M175.5 139.5h0M118.5 144.5h0M118.5 116.5h0M120.5 168.5h0M122.5 124.5h0M115.5 121.5h0M138.5 137.5h0M176.5 143.5h0M151.5 138.5h0M124.5 153.5h0M147.5 128.5h0M163.5 139.5h0M155.5 136.5h0M161.5 107.5h0M168.5 129.5h0M122.5 107.5h0M116.5 124.5h0M173.5 124.5h0M120.5 129.5h0M131.5 125.5h0M143.5 137.5h0M119.5 112.5h0M132.5 138.5h0M159.5 121.5h0M158.5 142.5h0M132.5 122.5h0M119.5 141.5h0M110.5 141.5h0M117.5 135.5h0M129.5 144.5h0M116.5 133.5h0M150.5 132.5h0M111.5 116.5h0M139.5 134.5h0M136.5 102.5h0M161.5 136.5h0M120.5 146.5h0M135.5 142.5h0M150.5 144.5h0M157.5 150.5h0M119.5 129.5h0M149.5 130.5h0M138.5 132.5h0M164.5 132.5h0M156.5 121.5h0M126.5 124.5h0M155.5 161.5h0M133.5 138.5h0M136.5 142.5h0M133.5 130.5h0M137.5 111.5h0M144.5 127.5h0M123.5 112.5h0M160.5 129.5h0M135.5 126.5h0M160.5 117.5h0M126.5 119.5h0M138.5 142.5h0M132.5 121.5h0M173.5 137.5h0M130.5 151.5h0M132.5 131.5h0M134.5 121.5h0M117.5 151.5h0M143.5 133.5h0M116.5 121.5h0M143.5 155.5h0M142.5 124.5h0M134.5 133.5h0M148.5 143.5h0M136.5 137.5h0M135.5 143.5h0M145.5 118.5h0M145.5 131.5h0M145.5 147.5h0M155.5 128.5h0M163.5 147.5h0M142.5 102.5h0M139.5 136.5h0M176.5 119.5h0M136.5 151.5h0M129.5 119.5h0M152.5 119.5h0M101.5 123.5h0M122.5 154.5h0M123.5 127.5h0M138.5 93.5h0M160.5 111.5h0M152.5 128.5h0M140.5 94.5h0M132.5 148.5h0M147.5 132.5h0M139.5 150.5h0M123.5 134.5h0M131.5 127.5h0M147.5 137.5h0M112.5 127.5h0M123.5 121.5h0M149.5 133.5h0M154.5 154.5h0M136.5 112.5h0M132.5 128.5h0M119.5 153.5h0M157.5 145.5h0M128.5 131.5h0M130.5 124.5h0M121.5 126.5h0M122.5 135.5h0M133.5 131.5h0M130.5 127.5h0M119.5 135.5h0M124.5 131.5h0M119.5 132.5h0M124.5 132.5h0M134.5 127.5h0M122.5 129.5h0M139.5 130.5h0M134.5 126.5h0M155.5 113.5h0M113.5 127.5h0M133.5 129.5h0M134.5 124.5h0M127.5 129.5h0M112.5 133.5h0M140.5 128.5h0M129.5 131.5h0M125.5 131.5h0M146.5 131.5h0M120.5 137.5h0M129.5 123.5h0M131.5 130.5h0M125.5 132.5h0M122.5 131.5h0M120.5 133.5h0M132.5 127.5h0M135.5 124.5h0M128.5 124.5h0M130.5 129.5h0M130.5 130.5h0M111.5 136.5h0M116.5 134.5h0M145.5 129.5h0M131.5 132.5h0M122.5 128.5h0M115.5 129.5h0M129.5 127.5h0M125.5 127.5h0M113.5 132.5h0M120.5 134.5h0M138.5 127.5h0M131.5 131.5h0M121.5 128.5h0M119.5 134.5h0M141.5 129.5h0M111.5 132.5h0M121.5 134.5h0M145.5 125.5h0M121.5 132.5h0M144.5 132.5h0M125.5 129.5h0M135.5 128.5h0M123.5 131.5h0M127.5 126.5h0M127.5 128.5h0M121.5 136.5h0M114.5 131.5h0M132.5 126.5h0M134.5 128.5h0M121.5 135.5h0M126.5 131.5h0M115.5 136.5h0M112.5 139.5h0M115.5 130.5h0M142.5 128.5h0M128.5 123.5h0M124.5 133.5h0M113.5 137.5h0M125.5 137.5h0M135.5 134.5h0M121.5 133.5h0M122.5 126.5h0M116.5 128.5h0M124.5 130.5h0M125.5 135.5h0M129.5 129.5h0M134.5 131.5h0M129.5 124.5h0M140.5 126.5h0M124.5 129.5h0M131.5 126.5h0M134.5 129.5h0M122.5 133.5h0M119.5 131.5h0M126.5 127.5h0M143.5 118.5h0M118.5 134.5h0M129.5 135.5h0M119.5 128.5h0M114.5 132.5h0M128.5 140.5h0M117.5 132.5h0M118.5 133.5h0M132.5 125.5h0M110.5 131.5h0M142.5 129.5h0M125.5 128.5h0M126.5 128.5h0M129.5 133.5h0M127.5 132.5h0M127.5 133.5h0M135.5 127.5h0M123.5 136.5h0M131.5 129.5h0M141.5 123.5h0M130.5 128.5h0M127.5 131.5h0M114.5 134.5h0M139.5 122.5h0M117.5 134.5h0M126.5 130.5h0M130.5 125.5h0M146.5 126.5h0M136.5 125.5h0M139.5 129.5h0M132.5 130.5h0M133.5 124.5h0M123.5 130.5h0M128.5 129.5h0M110.5 136.5h0M138.5 129.5h0M123.5 129.5h0M118.5 131.5h0M137.5 132.5h0M139.5 133.5h0M128.5 137.5h0M146.5 123.5h0M125.5 138.5h0M106.5 140.5h0M120.5 136.5h0M138.5 135.5h0M131.5 133.5h0M124.5 128.5h0M139.5 131.5h0M118.5 127.5h0M137.5 129.5h0M126.5 132.5h0M124.5 125.5h0M128.5 132.5h0M129.5 134.5h0M117.5 136.5h0M140.5 121.5h0M134.5 132.5h0" stroke="#1a1a1a" stroke-width="1.3" stroke-linecap="round" fill="none"/>
<rect x="76.5" y="23.4" width="170.2" height="166.29999999999998" fill="none" stroke="#111" stroke-width="1.5"/>
<path d="M76.5 189.7v4.2M76.5 189.5h-4.2M89.5 189.7v2.2M76.5 177.5h-2.2M96.5 189.7v2.2M76.5 169.5h-2.2M102.5 189.7v2.2M76.5 164.5h-2.2M106.5 189.7v2.2M76.5 160.5h-2.2M109.5 189.7v2.2M76.5 157.5h-2.2M112.5 189.7v2.2M76.5 154.5h-2.2M114.5 189.7v2.2M76.5 152.5h-2.2M117.5 189.7v2.2M76.5 150.5h-2.2M119.5 189.7v4.2M76.5 148.5h-4.2M131.5 189.7v2.2M76.5 135.5h-2.2M139.5 189.7v2.2M76.5 128.5h-2.2M144.5 189.7v2.2M76.5 123.5h-2.2M148.5 189.7v2.2M76.5 119.5h-2.2M152.5 189.7v2.2M76.5 115.5h-2.2M155.5 189.7v2.2M76.5 112.5h-2.2M157.5 189.7v2.2M76.5 110.5h-2.2M159.5 189.7v2.2M76.5 108.5h-2.2M161.5 189.7v4.2M76.5 106.5h-4.2M174.5 189.7v2.2M76.5 94.5h-2.2M181.5 189.7v2.2M76.5 86.5h-2.2M187.5 189.7v2.2M76.5 81.5h-2.2M191.5 189.7v2.2M76.5 77.5h-2.2M194.5 189.7v2.2M76.5 74.5h-2.2M197.5 189.7v2.2M76.5 71.5h-2.2M200.5 189.7v2.2M76.5 69.5h-2.2M202.5 189.7v2.2M76.5 66.5h-2.2M204.5 189.7v4.2M76.5 64.5h-4.2M216.5 189.7v2.2M76.5 52.5h-2.2M224.5 189.7v2.2M76.5 45.5h-2.2M229.5 189.7v2.2M76.5 39.5h-2.2M233.5 189.7v2.2M76.5 35.5h-2.2M237.5 189.7v2.2M76.5 32.5h-2.2M240.5 189.7v2.2M76.5 29.5h-2.2M242.5 189.7v2.2M76.5 27.5h-2.2M244.5 189.7v2.2M76.5 25.5h-2.2M246.7 189.7v4.2M76.5 23.4h-4.2" stroke="#111" stroke-width="1.25" fill="none"/>
<line x1="127.0" y1="23.4" x2="127.0" y2="189.7" stroke="#111" stroke-width="1.5"/>
<line x1="76.5" y1="137.5" x2="246.7" y2="137.5" stroke="#111" stroke-width="1.5"/>
<rect x="140.9" y="63.8" width="100.19999999999999" height="69.3" fill="none" stroke="#111" stroke-width="1.5"/>
<text x="163" y="59" font-size="13.2" text-anchor="start" textLength="59.8" lengthAdjust="spacingAndGlyphs" >R1: 25.5%</text>
<g class="tk">
<text x="70.7" y="206.7" font-size="11.4" font-weight="bold" textLength="8.8" lengthAdjust="spacingAndGlyphs">10</text>
<text x="80.4" y="200.3" font-size="9.4" font-weight="bold" textLength="4.8" lengthAdjust="spacingAndGlyphs">0</text>
<g transform="translate(68.9 197.9) rotate(-90)"><text x="0" y="0" font-size="10.5" font-weight="bold" textLength="8.8" lengthAdjust="spacingAndGlyphs">10</text><text x="10.2" y="-5.4" font-size="8.6" font-weight="bold" textLength="4.8" lengthAdjust="spacingAndGlyphs">0</text></g>
<text x="113.2" y="206.7" font-size="11.4" font-weight="bold" textLength="8.8" lengthAdjust="spacingAndGlyphs">10</text>
<text x="123.0" y="200.3" font-size="9.4" font-weight="bold" textLength="4.8" lengthAdjust="spacingAndGlyphs">1</text>
<g transform="translate(68.9 156.3) rotate(-90)"><text x="0" y="0" font-size="10.5" font-weight="bold" textLength="8.8" lengthAdjust="spacingAndGlyphs">10</text><text x="10.2" y="-5.4" font-size="8.6" font-weight="bold" textLength="4.8" lengthAdjust="spacingAndGlyphs">1</text></g>
<text x="155.4" y="206.7" font-size="11.4" font-weight="bold" textLength="8.8" lengthAdjust="spacingAndGlyphs">10</text>
<text x="165.1" y="200.3" font-size="9.4" font-weight="bold" textLength="4.8" lengthAdjust="spacingAndGlyphs">2</text>
<g transform="translate(68.9 114.8) rotate(-90)"><text x="0" y="0" font-size="10.5" font-weight="bold" textLength="8.8" lengthAdjust="spacingAndGlyphs">10</text><text x="10.2" y="-5.4" font-size="8.6" font-weight="bold" textLength="4.8" lengthAdjust="spacingAndGlyphs">2</text></g>
<text x="196.9" y="206.7" font-size="11.4" font-weight="bold" textLength="8.8" lengthAdjust="spacingAndGlyphs">10</text>
<text x="206.6" y="200.3" font-size="9.4" font-weight="bold" textLength="4.8" lengthAdjust="spacingAndGlyphs">3</text>
<g transform="translate(68.9 73.2) rotate(-90)"><text x="0" y="0" font-size="10.5" font-weight="bold" textLength="8.8" lengthAdjust="spacingAndGlyphs">10</text><text x="10.2" y="-5.4" font-size="8.6" font-weight="bold" textLength="4.8" lengthAdjust="spacingAndGlyphs">3</text></g>
<text x="238.2" y="206.7" font-size="11.4" font-weight="bold" textLength="8.8" lengthAdjust="spacingAndGlyphs">10</text>
<text x="247.9" y="200.3" font-size="9.4" font-weight="bold" textLength="4.8" lengthAdjust="spacingAndGlyphs">4</text>
<g transform="translate(68.9 31.6) rotate(-90)"><text x="0" y="0" font-size="10.5" font-weight="bold" textLength="8.8" lengthAdjust="spacingAndGlyphs">10</text><text x="10.2" y="-5.4" font-size="8.6" font-weight="bold" textLength="4.8" lengthAdjust="spacingAndGlyphs">4</text></g>
</g>
<path d="M357.5 146.5h0M340.5 132.5h0M329.5 137.5h0M333.5 129.5h0M341.5 110.5h0M339.5 109.5h0M341.5 126.5h0M335.5 144.5h0M323.5 129.5h0M335.5 123.5h0M340.5 149.5h0M330.5 147.5h0M346.5 130.5h0M338.5 143.5h0M325.5 138.5h0M336.5 121.5h0M323.5 123.5h0M334.5 136.5h0M341.5 114.5h0M340.5 137.5h0M340.5 122.5h0M344.5 124.5h0M322.5 141.5h0M333.5 113.5h0M335.5 113.5h0M339.5 148.5h0M337.5 119.5h0M340.5 153.5h0M340.5 138.5h0M321.5 138.5h0M321.5 149.5h0M349.5 88.5h0M346.5 121.5h0M353.5 123.5h0M328.5 169.5h0M345.5 166.5h0M319.5 139.5h0M337.5 143.5h0M338.5 121.5h0M331.5 125.5h0M357.5 144.5h0M338.5 120.5h0M332.5 129.5h0M321.5 136.5h0M337.5 110.5h0M345.5 138.5h0M327.5 98.5h0M345.5 160.5h0M334.5 143.5h0M331.5 157.5h0M333.5 137.5h0M335.5 111.5h0M321.5 137.5h0M347.5 112.5h0M332.5 109.5h0M341.5 138.5h0M341.5 129.5h0M327.5 135.5h0M338.5 106.5h0M328.5 124.5h0M337.5 129.5h0M326.5 107.5h0M349.5 101.5h0M341.5 103.5h0M342.5 111.5h0M334.5 124.5h0M334.5 145.5h0M333.5 147.5h0M327.5 134.5h0M332.5 93.5h0M353.5 110.5h0M344.5 142.5h0M339.5 152.5h0M331.5 136.5h0M334.5 113.5h0M330.5 87.5h0M332.5 113.5h0M323.5 112.5h0M326.5 124.5h0M337.5 114.5h0M343.5 121.5h0M336.5 95.5h0M333.5 127.5h0M333.5 125.5h0M328.5 135.5h0M342.5 137.5h0M341.5 137.5h0M350.5 130.5h0M353.5 119.5h0M336.5 112.5h0M348.5 102.5h0M350.5 113.5h0M327.5 112.5h0M348.5 140.5h0M349.5 87.5h0M342.5 133.5h0M349.5 125.5h0M347.5 107.5h0M323.5 122.5h0M323.5 139.5h0M343.5 148.5h0M331.5 135.5h0M341.5 136.5h0M330.5 121.5h0M329.5 141.5h0M343.5 141.5h0M329.5 109.5h0M337.5 165.5h0M330.5 95.5h0M362.5 133.5h0M343.5 115.5h0M340.5 158.5h0M346.5 123.5h0M335.5 155.5h0M331.5 130.5h0M335.5 124.5h0M333.5 111.5h0M343.5 147.5h0M331.5 121.5h0M332.5 104.5h0M332.5 124.5h0M342.5 147.5h0M348.5 132.5h0M330.5 140.5h0M322.5 151.5h0M334.5 125.5h0M342.5 141.5h0M346.5 124.5h0M352.5 132.5h0M334.5 151.5h0M336.5 117.5h0M335.5 131.5h0M328.5 138.5h0M333.5 130.5h0M346.5 120.5h0M345.5 108.5h0M333.5 106.5h0M337.5 150.5h0M331.5 129.5h0M323.5 90.5h0M336.5 114.5h0M326.5 126.5h0M339.5 141.5h0M339.5 128.5h0M340.5 148.5h0M341.5 133.5h0M329.5 165.5h0M335.5 134.5h0M358.5 148.5h0M350.5 107.5h0M340.5 124.5h0M341.5 153.5h0M349.5 134.5h0M330.5 128.5h0M321.5 150.5h0M326.5 154.5h0M342.5 102.5h0M337.5 134.5h0M338.5 122.5h0M335.5 135.5h0M337.5 127.5h0M343.5 154.5h0M327.5 136.5h0M341.5 150.5h0M347.5 104.5h0M330.5 110.5h0M320.5 130.5h0M322.5 111.5h0M344.5 120.5h0M331.5 147.5h0M343.5 155.5h0M340.5 120.5h0M319.5 150.5h0M330.5 139.5h0M321.5 129.5h0M326.5 130.5h0M320.5 149.5h0M343.5 158.5h0M336.5 105.5h0M344.5 151.5h0M356.5 138.5h0M345.5 113.5h0M333.5 118.5h0M320.5 128.5h0M338.5 135.5h0M337.5 111.5h0M345.5 140.5h0M343.5 110.5h0M337.5 123.5h0M321.5 155.5h0M340.5 154.5h0M344.5 110.5h0M327.5 149.5h0M344.5 133.5h0M337.5 146.5h0M339.5 142.5h0M345.5 118.5h0M321.5 124.5h0M326.5 113.5h0M327.5 108.5h0M346.5 97.5h0M339.5 129.5h0M347.5 150.5h0M336.5 135.5h0M336.5 156.5h0M321.5 158.5h0M349.5 135.5h0M342.5 132.5h0M334.5 108.5h0M321.5 133.5h0M329.5 145.5h0M322.5 155.5h0M325.5 111.5h0M330.5 137.5h0M334.5 119.5h0M345.5 126.5h0M329.5 126.5h0M351.5 140.5h0M328.5 155.5h0M332.5 135.5h0M347.5 129.5h0M342.5 136.5h0M348.5 114.5h0M335.5 139.5h0M359.5 147.5h0M328.5 171.5h0M342.5 128.5h0M336.5 142.5h0M326.5 133.5h0M339.5 132.5h0M332.5 117.5h0M341.5 124.5h0M344.5 115.5h0M343.5 139.5h0M348.5 113.5h0M331.5 108.5h0M336.5 150.5h0M346.5 150.5h0M349.5 143.5h0M335.5 108.5h0M339.5 156.5h0M335.5 159.5h0M342.5 146.5h0M336.5 131.5h0M323.5 124.5h0M352.5 144.5h0M331.5 123.5h0M347.5 143.5h0M338.5 123.5h0M346.5 142.5h0M358.5 95.5h0M324.5 142.5h0M340.5 139.5h0M340.5 111.5h0M346.5 127.5h0M355.5 135.5h0M344.5 99.5h0M338.5 115.5h0M332.5 138.5h0M340.5 118.5h0M339.5 130.5h0M346.5 125.5h0M333.5 110.5h0M335.5 132.5h0M338.5 136.5h0M342.5 121.5h0M344.5 144.5h0M327.5 127.5h0M338.5 132.5h0M350.5 120.5h0M348.5 126.5h0M325.5 150.5h0M333.5 107.5h0M352.5 122.5h0M348.5 133.5h0M329.5 155.5h0M346.5 153.5h0M342.5 158.5h0M335.5 141.5h0M350.5 131.5h0M331.5 100.5h0M340.5 130.5h0M343.5 140.5h0M342.5 134.5h0M346.5 116.5h0M339.5 110.5h0M340.5 123.5h0M335.5 130.5h0M336.5 111.5h0M351.5 110.5h0M339.5 137.5h0M337.5 133.5h0M337.5 166.5h0M337.5 117.5h0M328.5 99.5h0M338.5 137.5h0M360.5 139.5h0M345.5 105.5h0M343.5 126.5h0M339.5 112.5h0M320.5 118.5h0M327.5 138.5h0M336.5 138.5h0M342.5 154.5h0M341.5 144.5h0M334.5 129.5h0M325.5 121.5h0M355.5 138.5h0M329.5 104.5h0M351.5 161.5h0M334.5 141.5h0M338.5 129.5h0M346.5 143.5h0M339.5 118.5h0M352.5 121.5h0M339.5 143.5h0M339.5 106.5h0M341.5 108.5h0M333.5 115.5h0M342.5 131.5h0M335.5 115.5h0M335.5 145.5h0M328.5 136.5h0M333.5 134.5h0M320.5 100.5h0M338.5 125.5h0M347.5 109.5h0M349.5 112.5h0M336.5 130.5h0M321.5 101.5h0M336.5 144.5h0M347.5 139.5h0M340.5 142.5h0M327.5 110.5h0M338.5 153.5h0M343.5 113.5h0M335.5 116.5h0M348.5 109.5h0M342.5 115.5h0M351.5 124.5h0M365.5 144.5h0M337.5 158.5h0M337.5 131.5h0M336.5 115.5h0M350.5 124.5h0M330.5 136.5h0M337.5 140.5h0M336.5 119.5h0M339.5 95.5h0M323.5 126.5h0M346.5 146.5h0M322.5 94.5h0M345.5 119.5h0M347.5 144.5h0M327.5 102.5h0M338.5 154.5h0M336.5 102.5h0M328.5 154.5h0M336.5 139.5h0M332.5 133.5h0M331.5 137.5h0M345.5 128.5h0M341.5 158.5h0M329.5 111.5h0M338.5 111.5h0M324.5 118.5h0M332.5 128.5h0M331.5 144.5h0M328.5 130.5h0M346.5 145.5h0M332.5 144.5h0M330.5 117.5h0M333.5 143.5h0M343.5 122.5h0M340.5 126.5h0M332.5 115.5h0M331.5 124.5h0M338.5 109.5h0M322.5 126.5h0M339.5 126.5h0M320.5 116.5h0M331.5 139.5h0M351.5 132.5h0M345.5 156.5h0M343.5 125.5h0M340.5 131.5h0M349.5 136.5h0M323.5 111.5h0M328.5 131.5h0M344.5 101.5h0M342.5 116.5h0M336.5 123.5h0M329.5 124.5h0M347.5 125.5h0M336.5 116.5h0M329.5 131.5h0M357.5 114.5h0M344.5 129.5h0M331.5 146.5h0M337.5 107.5h0M335.5 126.5h0M340.5 80.5h0M338.5 142.5h0M342.5 139.5h0M345.5 139.5h0M341.5 134.5h0M331.5 118.5h0M341.5 160.5h0M343.5 114.5h0M339.5 122.5h0M334.5 111.5h0M348.5 141.5h0M333.5 112.5h0M337.5 124.5h0M334.5 89.5h0M347.5 121.5h0M339.5 99.5h0M348.5 123.5h0M336.5 146.5h0M349.5 100.5h0M358.5 123.5h0M345.5 159.5h0M330.5 141.5h0M334.5 130.5h0M355.5 115.5h0M351.5 130.5h0M325.5 125.5h0M324.5 135.5h0M337.5 138.5h0M339.5 146.5h0M354.5 129.5h0M346.5 139.5h0M331.5 140.5h0M336.5 148.5h0M322.5 91.5h0M335.5 127.5h0M339.5 134.5h0M335.5 109.5h0M340.5 110.5h0M327.5 120.5h0M329.5 148.5h0M343.5 123.5h0M343.5 117.5h0M320.5 119.5h0M353.5 125.5h0M352.5 167.5h0M335.5 110.5h0M326.5 166.5h0M346.5 110.5h0M340.5 106.5h0M326.5 129.5h0M326.5 98.5h0M335.5 112.5h0M341.5 116.5h0M344.5 126.5h0M342.5 150.5h0M326.5 147.5h0M334.5 114.5h0M337.5 115.5h0M339.5 121.5h0M344.5 108.5h0M341.5 146.5h0M331.5 141.5h0M350.5 115.5h0M336.5 137.5h0M331.5 117.5h0M342.5 114.5h0M334.5 126.5h0M320.5 113.5h0M328.5 127.5h0M333.5 116.5h0M327.5 145.5h0M338.5 126.5h0M333.5 121.5h0M333.5 133.5h0M327.5 128.5h0M345.5 130.5h0M337.5 112.5h0M334.5 138.5h0M338.5 101.5h0M334.5 128.5h0M340.5 134.5h0M334.5 107.5h0M323.5 120.5h0M339.5 120.5h0M332.5 155.5h0M339.5 125.5h0M341.5 107.5h0M359.5 119.5h0M352.5 124.5h0M340.5 143.5h0M339.5 149.5h0M347.5 151.5h0M344.5 103.5h0M327.5 129.5h0M348.5 137.5h0M328.5 137.5h0M322.5 135.5h0M347.5 102.5h0M344.5 111.5h0M337.5 126.5h0M344.5 152.5h0M349.5 144.5h0M321.5 107.5h0M338.5 114.5h0M324.5 122.5h0M354.5 136.5h0M326.5 123.5h0M335.5 140.5h0M364.5 121.5h0M342.5 120.5h0M353.5 134.5h0M348.5 131.5h0M333.5 109.5h0M343.5 108.5h0M347.5 119.5h0M339.5 124.5h0M338.5 147.5h0M342.5 113.5h0M344.5 138.5h0M336.5 108.5h0M347.5 141.5h0M325.5 123.5h0M325.5 96.5h0M321.5 125.5h0M353.5 127.5h0M341.5 132.5h0M339.5 116.5h0M341.5 120.5h0M323.5 128.5h0M331.5 156.5h0M334.5 127.5h0M351.5 134.5h0M343.5 116.5h0M326.5 116.5h0M334.5 144.5h0M346.5 138.5h0M338.5 149.5h0M334.5 155.5h0M330.5 116.5h0M327.5 126.5h0M340.5 125.5h0M321.5 96.5h0M321.5 106.5h0M329.5 163.5h0M324.5 161.5h0M338.5 134.5h0M360.5 127.5h0M330.5 107.5h0M362.5 141.5h0M329.5 130.5h0M326.5 141.5h0M351.5 111.5h0M348.5 156.5h0M349.5 153.5h0M328.5 122.5h0M327.5 125.5h0M336.5 127.5h0M339.5 177.5h0M339.5 158.5h0M327.5 119.5h0M324.5 140.5h0M338.5 130.5h0M332.5 152.5h0M353.5 152.5h0M338.5 116.5h0M348.5 146.5h0M341.5 140.5h0M337.5 130.5h0M329.5 127.5h0M329.5 80.5h0M359.5 126.5h0M323.5 173.5h0M326.5 134.5h0M332.5 137.5h0M351.5 122.5h0M357.5 121.5h0M340.5 91.5h0M332.5 103.5h0M330.5 105.5h0M340.5 116.5h0M335.5 80.5h0M344.5 137.5h0M357.5 138.5h0M345.5 109.5h0M335.5 119.5h0M336.5 99.5h0M332.5 84.5h0M334.5 112.5h0M337.5 152.5h0M338.5 93.5h0M330.5 111.5h0M328.5 106.5h0M345.5 135.5h0M363.5 132.5h0M333.5 144.5h0M345.5 100.5h0M324.5 130.5h0M324.5 147.5h0M333.5 95.5h0M322.5 128.5h0M336.5 157.5h0M330.5 119.5h0M331.5 91.5h0M329.5 129.5h0M334.5 121.5h0M328.5 129.5h0M340.5 147.5h0M324.5 91.5h0M341.5 119.5h0M346.5 126.5h0M329.5 164.5h0M343.5 130.5h0M343.5 111.5h0M348.5 120.5h0M347.5 157.5h0M346.5 113.5h0M342.5 106.5h0M345.5 107.5h0M338.5 127.5h0M328.5 116.5h0M348.5 169.5h0M335.5 114.5h0M335.5 103.5h0M326.5 131.5h0M332.5 136.5h0M328.5 144.5h0M325.5 129.5h0M334.5 118.5h0M352.5 153.5h0M347.5 122.5h0M332.5 120.5h0M329.5 154.5h0M320.5 93.5h0M327.5 116.5h0M324.5 105.5h0M340.5 109.5h0M325.5 103.5h0M338.5 112.5h0M327.5 143.5h0M329.5 140.5h0M332.5 95.5h0M321.5 117.5h0M328.5 126.5h0M329.5 125.5h0M331.5 148.5h0M348.5 127.5h0M328.5 95.5h0M332.5 126.5h0M339.5 113.5h0M347.5 116.5h0M343.5 143.5h0M333.5 148.5h0M355.5 157.5h0M325.5 142.5h0M333.5 157.5h0M326.5 114.5h0M322.5 110.5h0M341.5 141.5h0M320.5 140.5h0M337.5 139.5h0M335.5 97.5h0M343.5 107.5h0M339.5 169.5h0M338.5 160.5h0M336.5 141.5h0M347.5 171.5h0M331.5 107.5h0M352.5 136.5h0M328.5 93.5h0M349.5 127.5h0M349.5 149.5h0M331.5 128.5h0M344.5 132.5h0M352.5 138.5h0M329.5 136.5h0M337.5 128.5h0M345.5 99.5h0M347.5 137.5h0M332.5 142.5h0M341.5 163.5h0M337.5 109.5h0M323.5 117.5h0M354.5 160.5h0M335.5 129.5h0M330.5 146.5h0M324.5 80.5h0M337.5 106.5h0M329.5 108.5h0M344.5 107.5h0M348.5 121.5h0M348.5 110.5h0M338.5 156.5h0M329.5 103.5h0M353.5 137.5h0M351.5 126.5h0M325.5 124.5h0M342.5 126.5h0M338.5 140.5h0M333.5 141.5h0M350.5 125.5h0M334.5 147.5h0M346.5 159.5h0M342.5 130.5h0M331.5 145.5h0M338.5 113.5h0M350.5 105.5h0M329.5 151.5h0M338.5 119.5h0M350.5 133.5h0M329.5 144.5h0M350.5 121.5h0M347.5 134.5h0M330.5 148.5h0M339.5 123.5h0M349.5 142.5h0M345.5 169.5h0M325.5 116.5h0M351.5 113.5h0M357.5 112.5h0M327.5 162.5h0M340.5 117.5h0M331.5 105.5h0M331.5 120.5h0M344.5 100.5h0M324.5 120.5h0M362.5 119.5h0M342.5 108.5h0M339.5 147.5h0M351.5 153.5h0M328.5 94.5h0M335.5 102.5h0M325.5 151.5h0M334.5 100.5h0M332.5 112.5h0M332.5 141.5h0M344.5 139.5h0M346.5 122.5h0M331.5 149.5h0M328.5 121.5h0M353.5 147.5h0M341.5 127.5h0M332.5 114.5h0M336.5 136.5h0M321.5 118.5h0M342.5 119.5h0M343.5 131.5h0M326.5 121.5h0M346.5 161.5h0M326.5 118.5h0M341.5 130.5h0M351.5 133.5h0M346.5 108.5h0M333.5 140.5h0M334.5 132.5h0M348.5 150.5h0M339.5 85.5h0M348.5 143.5h0M352.5 114.5h0M333.5 132.5h0M341.5 148.5h0M345.5 152.5h0M331.5 127.5h0M326.5 150.5h0M341.5 154.5h0M341.5 115.5h0M329.5 142.5h0M343.5 101.5h0M342.5 117.5h0M333.5 128.5h0M343.5 104.5h0M344.5 102.5h0M345.5 125.5h0M322.5 125.5h0M321.5 114.5h0M348.5 119.5h0M345.5 122.5h0M343.5 134.5h0M361.5 110.5h0M344.5 109.5h0M339.5 135.5h0M349.5 139.5h0M325.5 109.5h0M341.5 135.5h0M346.5 144.5h0M335.5 106.5h0M323.5 134.5h0M335.5 101.5h0M344.5 141.5h0M349.5 110.5h0M324.5 155.5h0M331.5 87.5h0M338.5 138.5h0M344.5 98.5h0M351.5 125.5h0M335.5 137.5h0M344.5 136.5h0M328.5 150.5h0M348.5 115.5h0M340.5 128.5h0M349.5 84.5h0M332.5 107.5h0M324.5 137.5h0M348.5 130.5h0M322.5 127.5h0M350.5 129.5h0M342.5 125.5h0M359.5 118.5h0M325.5 112.5h0M337.5 116.5h0M341.5 128.5h0M328.5 125.5h0M326.5 136.5h0M350.5 103.5h0M339.5 115.5h0M343.5 124.5h0M353.5 136.5h0M341.5 87.5h0M332.5 182.5h0M328.5 151.5h0M351.5 128.5h0M336.5 134.5h0M327.5 115.5h0M343.5 138.5h0M349.5 113.5h0M335.5 142.5h0M335.5 120.5h0M350.5 109.5h0M327.5 133.5h0M338.5 118.5h0M352.5 130.5h0M326.5 93.5h0M349.5 132.5h0M326.5 125.5h0M349.5 138.5h0M327.5 121.5h0M336.5 152.5h0M334.5 120.5h0M338.5 124.5h0M334.5 159.5h0M347.5 114.5h0M348.5 153.5h0M328.5 104.5h0M347.5 131.5h0M340.5 104.5h0M345.5 141.5h0M323.5 143.5h0M333.5 131.5h0M350.5 92.5h0M338.5 107.5h0M336.5 110.5h0M338.5 90.5h0M332.5 92.5h0M327.5 158.5h0M338.5 108.5h0M334.5 137.5h0M325.5 113.5h0M348.5 111.5h0M328.5 81.5h0M343.5 161.5h0M341.5 113.5h0M344.5 125.5h0M336.5 140.5h0M350.5 142.5h0M356.5 100.5h0M326.5 115.5h0M356.5 135.5h0M330.5 113.5h0M337.5 142.5h0M332.5 119.5h0M350.5 118.5h0M331.5 133.5h0M328.5 146.5h0M323.5 136.5h0M336.5 118.5h0M351.5 147.5h0M351.5 135.5h0M339.5 94.5h0M324.5 165.5h0M339.5 90.5h0M341.5 101.5h0M322.5 115.5h0M339.5 138.5h0M336.5 151.5h0M337.5 161.5h0M338.5 157.5h0M336.5 128.5h0M333.5 123.5h0M330.5 104.5h0M355.5 120.5h0M344.5 119.5h0M319.5 144.5h0M335.5 104.5h0M330.5 152.5h0M320.5 108.5h0M320.5 123.5h0M325.5 133.5h0M345.5 120.5h0M346.5 101.5h0M336.5 103.5h0M342.5 103.5h0M348.5 149.5h0M345.5 111.5h0M336.5 120.5h0M336.5 158.5h0M326.5 119.5h0M350.5 114.5h0M330.5 79.5h0M339.5 108.5h0M356.5 111.5h0M338.5 148.5h0M344.5 106.5h0M345.5 114.5h0M328.5 111.5h0M335.5 133.5h0M325.5 130.5h0M325.5 101.5h0M344.5 122.5h0M325.5 140.5h0M341.5 123.5h0M336.5 145.5h0M351.5 138.5h0M370.5 141.5h0M345.5 146.5h0M351.5 141.5h0M334.5 123.5h0M344.5 114.5h0M336.5 84.5h0M343.5 167.5h0M339.5 133.5h0M349.5 141.5h0M340.5 127.5h0M342.5 138.5h0M359.5 114.5h0M349.5 93.5h0M346.5 141.5h0M342.5 140.5h0M352.5 123.5h0M333.5 145.5h0M343.5 156.5h0M322.5 122.5h0M324.5 145.5h0M375.5 135.5h0M357.5 100.5h0M349.5 120.5h0M322.5 118.5h0M356.5 144.5h0M357.5 133.5h0M324.5 124.5h0M347.5 152.5h0M349.5 116.5h0M343.5 127.5h0M325.5 93.5h0M358.5 117.5h0M330.5 138.5h0M336.5 161.5h0M343.5 144.5h0M330.5 99.5h0M332.5 131.5h0M333.5 103.5h0M326.5 135.5h0M352.5 120.5h0M348.5 122.5h0M343.5 120.5h0M321.5 109.5h0M333.5 96.5h0M321.5 115.5h0M345.5 149.5h0M320.5 117.5h0M362.5 129.5h0M334.5 110.5h0M366.5 130.5h0M337.5 137.5h0M359.5 109.5h0M340.5 135.5h0M344.5 95.5h0M333.5 119.5h0M336.5 122.5h0M330.5 150.5h0M345.5 155.5h0M351.5 119.5h0M350.5 159.5h0M329.5 112.5h0M344.5 150.5h0M344.5 128.5h0M340.5 81.5h0M335.5 162.5h0M336.5 107.5h0M320.5 98.5h0M327.5 109.5h0M357.5 110.5h0M325.5 114.5h0M333.5 120.5h0M337.5 135.5h0M350.5 140.5h0M326.5 157.5h0M338.5 133.5h0M324.5 132.5h0M351.5 139.5h0M332.5 125.5h0M340.5 107.5h0M350.5 148.5h0M355.5 141.5h0M352.5 149.5h0M335.5 98.5h0M337.5 118.5h0M345.5 165.5h0M344.5 118.5h0M339.5 139.5h0M341.5 80.5h0M348.5 112.5h0M332.5 139.5h0M340.5 129.5h0M321.5 127.5h0M352.5 145.5h0M331.5 150.5h0M340.5 133.5h0M328.5 123.5h0M357.5 151.5h0M335.5 148.5h0M333.5 155.5h0M343.5 152.5h0M338.5 70.5h0M342.5 112.5h0M354.5 142.5h0M346.5 99.5h0M351.5 158.5h0M347.5 111.5h0M339.5 91.5h0M335.5 99.5h0M353.5 124.5h0M348.5 138.5h0M325.5 136.5h0M334.5 152.5h0M326.5 111.5h0M339.5 127.5h0M336.5 106.5h0M348.5 118.5h0M332.5 147.5h0M336.5 129.5h0M353.5 142.5h0M354.5 117.5h0M352.5 161.5h0M322.5 157.5h0M332.5 140.5h0M344.5 135.5h0M329.5 118.5h0M354.5 118.5h0M321.5 145.5h0M329.5 123.5h0M325.5 155.5h0M321.5 108.5h0M343.5 128.5h0M334.5 146.5h0M349.5 124.5h0M343.5 98.5h0M330.5 149.5h0M329.5 128.5h0M343.5 157.5h0M338.5 128.5h0M330.5 101.5h0M333.5 154.5h0M357.5 107.5h0M336.5 153.5h0M328.5 105.5h0M320.5 109.5h0M340.5 93.5h0M329.5 146.5h0M357.5 131.5h0M346.5 94.5h0M350.5 141.5h0M335.5 146.5h0M337.5 103.5h0M328.5 133.5h0M342.5 142.5h0M320.5 157.5h0M353.5 116.5h0M327.5 132.5h0M333.5 135.5h0M343.5 112.5h0M336.5 125.5h0M341.5 155.5h0M336.5 147.5h0M329.5 115.5h0M332.5 149.5h0M323.5 103.5h0M319.5 132.5h0M332.5 106.5h0M322.5 133.5h0M331.5 171.5h0M331.5 114.5h0M323.5 137.5h0M343.5 145.5h0M331.5 126.5h0M345.5 134.5h0M324.5 95.5h0M348.5 135.5h0M336.5 93.5h0M358.5 137.5h0M321.5 140.5h0M356.5 157.5h0M341.5 111.5h0M340.5 99.5h0M336.5 113.5h0M321.5 142.5h0M325.5 108.5h0M331.5 138.5h0M351.5 117.5h0M340.5 151.5h0M323.5 106.5h0M356.5 131.5h0M339.5 140.5h0M328.5 100.5h0M327.5 114.5h0M341.5 117.5h0M332.5 130.5h0M353.5 135.5h0M355.5 122.5h0M328.5 145.5h0M332.5 148.5h0M327.5 122.5h0M354.5 121.5h0M343.5 137.5h0M347.5 115.5h0M344.5 123.5h0M331.5 152.5h0M351.5 114.5h0M325.5 115.5h0M345.5 121.5h0M332.5 110.5h0M328.5 160.5h0M345.5 117.5h0M345.5 116.5h0M347.5 127.5h0M353.5 131.5h0M322.5 107.5h0M321.5 111.5h0M333.5 83.5h0M334.5 134.5h0M333.5 146.5h0M334.5 131.5h0M333.5 117.5h0M331.5 111.5h0M327.5 146.5h0M347.5 124.5h0M344.5 112.5h0M351.5 93.5h0M355.5 90.5h0M341.5 145.5h0M334.5 117.5h0M358.5 157.5h0M335.5 107.5h0M346.5 131.5h0M339.5 155.5h0M320.5 160.5h0M348.5 139.5h0M325.5 146.5h0M355.5 108.5h0M332.5 123.5h0M335.5 138.5h0M349.5 130.5h0M350.5 136.5h0M341.5 142.5h0M353.5 140.5h0M349.5 104.5h0M329.5 132.5h0M334.5 122.5h0M338.5 162.5h0M357.5 108.5h0M330.5 124.5h0M336.5 133.5h0M344.5 145.5h0M322.5 130.5h0M350.5 128.5h0M347.5 149.5h0M352.5 140.5h0M321.5 151.5h0M347.5 138.5h0M326.5 139.5h0M355.5 140.5h0M325.5 119.5h0M340.5 136.5h0M333.5 142.5h0M341.5 104.5h0M324.5 121.5h0M338.5 139.5h0M352.5 142.5h0M330.5 132.5h0M335.5 166.5h0M341.5 106.5h0M348.5 97.5h0M329.5 121.5h0M321.5 135.5h0M349.5 117.5h0M329.5 114.5h0M332.5 98.5h0M339.5 100.5h0M336.5 143.5h0M330.5 151.5h0M342.5 163.5h0M345.5 132.5h0M329.5 100.5h0M320.5 131.5h0M325.5 122.5h0M320.5 103.5h0M326.5 95.5h0M337.5 88.5h0M341.5 96.5h0M343.5 135.5h0M342.5 80.5h0M330.5 115.5h0M347.5 135.5h0M321.5 110.5h0M320.5 136.5h0M329.5 143.5h0M331.5 122.5h0M323.5 154.5h0M346.5 117.5h0M325.5 106.5h0M333.5 150.5h0M347.5 145.5h0M324.5 87.5h0M349.5 140.5h0M322.5 103.5h0M346.5 133.5h0M349.5 122.5h0M325.5 107.5h0M322.5 106.5h0M320.5 134.5h0M324.5 114.5h0M335.5 151.5h0M346.5 103.5h0M338.5 159.5h0M326.5 146.5h0M337.5 104.5h0M337.5 141.5h0M330.5 143.5h0M337.5 136.5h0M350.5 117.5h0M324.5 110.5h0M328.5 134.5h0M335.5 100.5h0M368.5 111.5h0M345.5 150.5h0M323.5 140.5h0M328.5 119.5h0M335.5 122.5h0M328.5 153.5h0M343.5 129.5h0M337.5 174.5h0M343.5 132.5h0M325.5 157.5h0M348.5 152.5h0M344.5 121.5h0M351.5 115.5h0M334.5 163.5h0M344.5 130.5h0M321.5 146.5h0M339.5 104.5h0M329.5 117.5h0M337.5 121.5h0M339.5 153.5h0M325.5 127.5h0M324.5 141.5h0M330.5 77.5h0M330.5 122.5h0M329.5 110.5h0M349.5 102.5h0M335.5 136.5h0M352.5 104.5h0M322.5 100.5h0M343.5 106.5h0M325.5 162.5h0M323.5 155.5h0M349.5 151.5h0M351.5 129.5h0M322.5 119.5h0M342.5 105.5h0M329.5 120.5h0M359.5 133.5h0M325.5 134.5h0M327.5 131.5h0M336.5 166.5h0M329.5 138.5h0M339.5 103.5h0M336.5 132.5h0M342.5 123.5h0M335.5 160.5h0M321.5 164.5h0M349.5 118.5h0M348.5 145.5h0M337.5 113.5h0M334.5 172.5h0M336.5 126.5h0M331.5 131.5h0M324.5 127.5h0M340.5 114.5h0M321.5 121.5h0M336.5 109.5h0M334.5 105.5h0M325.5 131.5h0M335.5 79.5h0M330.5 106.5h0M339.5 105.5h0M344.5 105.5h0M350.5 152.5h0M332.5 121.5h0M335.5 128.5h0M341.5 109.5h0M340.5 146.5h0M333.5 122.5h0M343.5 164.5h0M342.5 170.5h0M329.5 119.5h0M343.5 118.5h0M337.5 100.5h0M354.5 141.5h0M323.5 141.5h0M325.5 110.5h0M350.5 100.5h0M352.5 143.5h0M345.5 115.5h0M331.5 103.5h0M343.5 174.5h0M354.5 144.5h0M355.5 124.5h0M319.5 120.5h0M338.5 146.5h0M339.5 114.5h0M323.5 118.5h0M341.5 102.5h0M352.5 115.5h0M342.5 99.5h0M320.5 121.5h0M339.5 150.5h0M330.5 131.5h0M348.5 116.5h0M327.5 144.5h0M337.5 157.5h0M342.5 118.5h0M346.5 114.5h0M324.5 126.5h0M341.5 125.5h0M337.5 132.5h0M348.5 98.5h0M322.5 124.5h0M350.5 108.5h0M355.5 142.5h0M342.5 124.5h0M341.5 147.5h0M335.5 143.5h0M338.5 145.5h0M335.5 81.5h0M327.5 137.5h0M341.5 131.5h0M339.5 154.5h0M319.5 119.5h0M357.5 143.5h0M329.5 102.5h0M346.5 96.5h0M335.5 117.5h0M319.5 149.5h0M356.5 105.5h0M345.5 98.5h0M333.5 151.5h0M332.5 116.5h0M329.5 176.5h0M335.5 121.5h0M328.5 164.5h0M334.5 106.5h0M322.5 153.5h0M325.5 149.5h0M340.5 155.5h0M323.5 144.5h0M326.5 132.5h0M351.5 131.5h0M346.5 109.5h0M324.5 125.5h0M328.5 113.5h0M342.5 89.5h0M342.5 148.5h0M331.5 97.5h0M323.5 114.5h0M340.5 140.5h0M340.5 121.5h0M330.5 94.5h0M354.5 120.5h0M347.5 118.5h0M342.5 157.5h0M321.5 126.5h0M325.5 128.5h0M354.5 143.5h0M338.5 141.5h0M356.5 163.5h0M347.5 133.5h0M320.5 151.5h0M354.5 147.5h0M340.5 100.5h0M325.5 104.5h0M346.5 104.5h0M320.5 150.5h0M325.5 153.5h0M337.5 151.5h0M355.5 113.5h0M341.5 176.5h0M323.5 147.5h0M355.5 114.5h0M333.5 136.5h0M330.5 112.5h0M329.5 106.5h0M326.5 100.5h0M328.5 96.5h0M338.5 99.5h0M349.5 123.5h0M319.5 97.5h0M331.5 154.5h0M323.5 104.5h0M326.5 143.5h0M333.5 108.5h0M332.5 156.5h0M320.5 87.5h0M328.5 147.5h0M333.5 152.5h0M335.5 88.5h0M342.5 92.5h0M345.5 123.5h0M352.5 141.5h0M346.5 119.5h0M332.5 122.5h0M322.5 114.5h0M340.5 84.5h0M348.5 86.5h0M328.5 149.5h0M330.5 118.5h0M362.5 137.5h0M319.5 127.5h0M321.5 81.5h0M342.5 87.5h0M325.5 145.5h0M327.5 91.5h0M338.5 97.5h0M350.5 145.5h0M348.5 107.5h0M341.5 122.5h0M319.5 117.5h0M320.5 137.5h0M348.5 128.5h0M338.5 96.5h0M345.5 124.5h0M331.5 153.5h0M334.5 102.5h0M329.5 135.5h0M341.5 118.5h0M348.5 93.5h0M333.5 126.5h0M331.5 101.5h0M326.5 63.5h0M337.5 120.5h0M332.5 143.5h0M330.5 108.5h0M347.5 105.5h0M333.5 105.5h0M342.5 155.5h0M339.5 93.5h0M351.5 127.5h0M327.5 156.5h0M334.5 178.5h0M341.5 139.5h0M337.5 147.5h0M333.5 90.5h0M343.5 146.5h0M320.5 88.5h0M349.5 103.5h0M350.5 156.5h0M324.5 133.5h0M346.5 140.5h0M322.5 143.5h0M351.5 136.5h0M351.5 172.5h0M347.5 82.5h0M327.5 139.5h0M320.5 107.5h0M352.5 131.5h0M357.5 148.5h0M348.5 147.5h0M334.5 90.5h0M366.5 103.5h0M332.5 100.5h0M324.5 143.5h0M338.5 105.5h0M345.5 101.5h0M321.5 100.5h0M350.5 146.5h0M342.5 145.5h0M322.5 166.5h0M339.5 64.5h0M331.5 134.5h0M337.5 95.5h0M355.5 159.5h0M355.5 116.5h0M350.5 144.5h0M333.5 138.5h0M345.5 136.5h0M324.5 116.5h0M320.5 120.5h0M342.5 101.5h0M352.5 102.5h0M329.5 147.5h0M354.5 138.5h0M339.5 107.5h0M329.5 107.5h0M356.5 115.5h0M342.5 129.5h0M345.5 142.5h0M329.5 116.5h0M340.5 150.5h0M341.5 86.5h0M359.5 140.5h0M365.5 110.5h0M346.5 128.5h0M346.5 137.5h0M352.5 155.5h0M347.5 91.5h0M337.5 87.5h0M350.5 139.5h0M351.5 145.5h0M343.5 133.5h0M323.5 116.5h0M346.5 154.5h0M346.5 106.5h0M341.5 157.5h0M334.5 115.5h0M352.5 93.5h0M342.5 109.5h0M352.5 117.5h0M322.5 101.5h0M345.5 127.5h0M352.5 108.5h0M339.5 102.5h0M338.5 164.5h0M356.5 126.5h0M330.5 129.5h0M333.5 164.5h0M320.5 126.5h0M346.5 134.5h0M352.5 119.5h0M353.5 162.5h0M356.5 113.5h0M322.5 134.5h0M352.5 156.5h0M354.5 119.5h0M334.5 149.5h0M346.5 132.5h0M347.5 101.5h0M350.5 143.5h0M335.5 152.5h0M336.5 101.5h0M344.5 159.5h0M334.5 95.5h0M339.5 131.5h0M357.5 130.5h0M330.5 133.5h0M348.5 170.5h0M353.5 120.5h0M348.5 142.5h0M326.5 128.5h0M319.5 136.5h0M335.5 125.5h0M352.5 127.5h0M331.5 160.5h0M329.5 168.5h0M351.5 123.5h0M329.5 134.5h0M335.5 118.5h0M348.5 171.5h0M323.5 135.5h0M331.5 143.5h0M324.5 152.5h0M340.5 115.5h0M320.5 154.5h0M349.5 119.5h0M344.5 163.5h0M338.5 110.5h0M332.5 108.5h0M328.5 103.5h0M345.5 164.5h0M333.5 124.5h0M339.5 136.5h0M338.5 104.5h0M360.5 85.5h0M342.5 122.5h0M344.5 80.5h0M342.5 104.5h0M330.5 120.5h0M347.5 128.5h0M333.5 139.5h0M333.5 104.5h0M347.5 132.5h0M347.5 154.5h0M322.5 144.5h0M344.5 147.5h0M320.5 112.5h0M322.5 105.5h0M345.5 129.5h0M331.5 119.5h0M326.5 110.5h0M330.5 127.5h0M362.5 120.5h0M349.5 145.5h0M357.5 147.5h0M331.5 98.5h0M321.5 152.5h0M342.5 156.5h0M346.5 151.5h0M331.5 112.5h0M357.5 116.5h0M344.5 127.5h0M340.5 145.5h0M352.5 116.5h0M355.5 129.5h0M330.5 123.5h0M321.5 104.5h0M327.5 141.5h0M341.5 143.5h0M345.5 112.5h0M345.5 131.5h0M338.5 103.5h0M348.5 151.5h0M323.5 127.5h0M353.5 128.5h0M351.5 118.5h0M348.5 89.5h0M321.5 156.5h0M332.5 88.5h0M353.5 107.5h0M336.5 94.5h0M353.5 157.5h0M349.5 133.5h0M340.5 178.5h0M351.5 104.5h0M326.5 144.5h0M349.5 126.5h0M322.5 117.5h0M320.5 155.5h0M337.5 154.5h0M330.5 130.5h0M326.5 161.5h0M325.5 139.5h0M330.5 145.5h0M320.5 111.5h0M337.5 91.5h0M324.5 109.5h0M345.5 96.5h0M339.5 83.5h0M322.5 120.5h0M348.5 96.5h0M320.5 122.5h0M327.5 95.5h0M320.5 125.5h0M353.5 126.5h0M341.5 90.5h0M326.5 120.5h0M322.5 121.5h0M356.5 141.5h0M353.5 138.5h0M351.5 165.5h0M346.5 105.5h0M347.5 158.5h0M349.5 137.5h0M352.5 152.5h0M334.5 156.5h0M330.5 135.5h0M358.5 124.5h0M335.5 153.5h0M352.5 125.5h0M348.5 148.5h0M338.5 98.5h0M338.5 161.5h0M340.5 119.5h0M321.5 97.5h0M354.5 131.5h0M357.5 140.5h0M339.5 117.5h0M330.5 155.5h0M350.5 138.5h0M355.5 109.5h0M329.5 96.5h0M334.5 135.5h0M346.5 148.5h0M346.5 157.5h0M328.5 112.5h0M350.5 149.5h0M348.5 125.5h0M327.5 111.5h0M321.5 141.5h0M330.5 125.5h0M364.5 134.5h0M335.5 105.5h0M342.5 127.5h0M323.5 152.5h0M321.5 144.5h0M349.5 129.5h0M342.5 153.5h0M346.5 136.5h0M343.5 149.5h0M331.5 132.5h0M332.5 154.5h0M329.5 158.5h0M338.5 95.5h0M322.5 156.5h0M321.5 128.5h0M344.5 158.5h0M363.5 102.5h0M343.5 69.5h0M329.5 92.5h0M330.5 114.5h0M347.5 153.5h0M331.5 83.5h0M349.5 115.5h0M354.5 124.5h0M347.5 117.5h0M338.5 131.5h0M334.5 142.5h0M354.5 105.5h0M353.5 161.5h0M323.5 94.5h0M334.5 103.5h0M342.5 97.5h0M353.5 92.5h0M349.5 152.5h0M326.5 127.5h0M326.5 152.5h0M336.5 124.5h0M330.5 100.5h0M321.5 131.5h0M354.5 101.5h0M354.5 140.5h0M342.5 86.5h0M343.5 163.5h0M345.5 86.5h0M350.5 99.5h0M345.5 133.5h0M355.5 137.5h0M334.5 154.5h0M329.5 122.5h0M332.5 127.5h0M340.5 144.5h0M322.5 160.5h0M342.5 179.5h0M330.5 157.5h0M343.5 136.5h0M320.5 99.5h0M357.5 132.5h0M356.5 120.5h0M347.5 140.5h0M324.5 168.5h0M337.5 98.5h0M356.5 116.5h0M357.5 115.5h0M347.5 155.5h0M357.5 104.5h0M336.5 163.5h0M329.5 99.5h0M334.5 109.5h0M346.5 111.5h0M327.5 147.5h0M336.5 149.5h0M341.5 164.5h0M332.5 146.5h0M324.5 123.5h0M320.5 159.5h0M324.5 106.5h0M325.5 100.5h0M325.5 85.5h0M330.5 142.5h0M339.5 157.5h0M349.5 161.5h0M325.5 126.5h0M353.5 93.5h0M330.5 162.5h0M326.5 82.5h0M345.5 104.5h0M347.5 100.5h0M328.5 117.5h0M343.5 119.5h0M345.5 148.5h0M348.5 129.5h0M336.5 98.5h0M337.5 167.5h0M334.5 173.5h0M355.5 147.5h0M325.5 143.5h0M326.5 109.5h0M351.5 142.5h0M324.5 149.5h0M332.5 78.5h0M336.5 154.5h0M330.5 98.5h0M361.5 139.5h0M344.5 140.5h0M345.5 137.5h0M324.5 113.5h0M334.5 101.5h0M332.5 162.5h0M320.5 106.5h0M321.5 123.5h0M324.5 90.5h0M343.5 162.5h0M364.5 94.5h0M324.5 139.5h0M359.5 141.5h0M339.5 92.5h0M319.5 126.5h0M327.5 130.5h0M334.5 104.5h0M351.5 120.5h0M344.5 143.5h0M320.5 85.5h0M360.5 123.5h0M325.5 148.5h0M350.5 127.5h0M355.5 117.5h0M351.5 143.5h0M330.5 93.5h0M330.5 126.5h0M346.5 115.5h0M326.5 138.5h0M321.5 119.5h0M344.5 96.5h0M340.5 96.5h0M358.5 139.5h0M339.5 111.5h0M337.5 122.5h0M351.5 107.5h0M324.5 128.5h0M340.5 112.5h0M346.5 162.5h0M323.5 149.5h0M339.5 145.5h0M359.5 130.5h0M337.5 108.5h0M341.5 75.5h0M331.5 116.5h0M321.5 103.5h0M331.5 115.5h0M334.5 133.5h0M324.5 162.5h0M356.5 132.5h0M346.5 90.5h0M328.5 97.5h0M324.5 156.5h0M360.5 117.5h0M346.5 112.5h0M340.5 97.5h0M354.5 159.5h0M354.5 92.5h0M338.5 102.5h0M342.5 144.5h0M337.5 101.5h0M342.5 151.5h0M331.5 92.5h0M329.5 139.5h0M332.5 150.5h0M338.5 117.5h0M356.5 114.5h0M342.5 135.5h0M348.5 104.5h0M345.5 145.5h0M342.5 94.5h0M322.5 137.5h0M320.5 92.5h0M329.5 113.5h0M356.5 128.5h0M332.5 118.5h0M330.5 166.5h0M352.5 139.5h0M350.5 119.5h0M329.5 101.5h0M324.5 146.5h0M332.5 134.5h0M327.5 123.5h0M324.5 111.5h0M332.5 153.5h0M343.5 109.5h0M320.5 138.5h0M340.5 101.5h0M344.5 153.5h0M340.5 98.5h0M320.5 141.5h0M349.5 128.5h0M350.5 134.5h0M354.5 112.5h0M331.5 102.5h0M354.5 128.5h0M346.5 102.5h0M330.5 109.5h0M332.5 158.5h0M345.5 97.5h0M350.5 126.5h0M337.5 160.5h0M324.5 108.5h0M332.5 157.5h0M319.5 155.5h0M356.5 145.5h0M365.5 118.5h0M339.5 119.5h0M321.5 148.5h0M333.5 102.5h0M347.5 147.5h0M346.5 152.5h0M357.5 105.5h0M323.5 100.5h0M321.5 174.5h0M333.5 172.5h0M323.5 107.5h0M323.5 86.5h0M343.5 142.5h0M355.5 132.5h0M324.5 136.5h0M330.5 153.5h0M351.5 146.5h0M333.5 114.5h0M337.5 145.5h0M322.5 149.5h0M344.5 148.5h0M325.5 94.5h0M319.5 109.5h0M324.5 103.5h0M338.5 91.5h0M327.5 104.5h0M347.5 146.5h0M345.5 144.5h0M337.5 164.5h0M336.5 78.5h0M321.5 102.5h0M341.5 121.5h0M323.5 131.5h0M344.5 173.5h0M347.5 136.5h0M351.5 121.5h0M353.5 151.5h0M358.5 151.5h0M322.5 136.5h0M320.5 110.5h0M333.5 159.5h0M335.5 95.5h0M347.5 120.5h0M340.5 141.5h0M349.5 77.5h0M334.5 150.5h0M325.5 120.5h0M345.5 87.5h0M341.5 152.5h0M330.5 156.5h0M340.5 105.5h0M354.5 164.5h0M331.5 142.5h0M343.5 94.5h0M341.5 156.5h0M357.5 113.5h0M345.5 147.5h0M335.5 91.5h0M347.5 142.5h0M330.5 102.5h0M344.5 134.5h0M335.5 96.5h0M348.5 162.5h0M333.5 97.5h0M340.5 90.5h0M324.5 112.5h0M328.5 142.5h0M346.5 135.5h0M358.5 142.5h0M356.5 125.5h0M321.5 116.5h0M322.5 159.5h0M329.5 91.5h0M340.5 165.5h0M335.5 147.5h0M338.5 144.5h0M346.5 118.5h0M328.5 114.5h0M326.5 112.5h0M321.5 112.5h0M334.5 97.5h0M333.5 100.5h0M337.5 99.5h0M337.5 94.5h0M348.5 134.5h0M364.5 105.5h0M350.5 111.5h0M350.5 123.5h0M346.5 156.5h0M328.5 118.5h0M323.5 142.5h0M347.5 162.5h0M344.5 161.5h0M352.5 129.5h0M334.5 153.5h0M339.5 174.5h0M337.5 175.5h0M340.5 166.5h0M344.5 169.5h0M347.5 163.5h0M352.5 174.5h0M334.5 140.5h0M348.5 182.5h0M348.5 155.5h0M347.5 168.5h0M329.5 166.5h0M346.5 149.5h0M348.5 167.5h0M332.5 169.5h0M354.5 149.5h0M339.5 168.5h0M355.5 156.5h0M344.5 164.5h0M334.5 157.5h0M344.5 165.5h0M347.5 164.5h0M335.5 156.5h0M348.5 163.5h0M338.5 170.5h0M334.5 165.5h0M348.5 177.5h0M329.5 156.5h0M335.5 182.5h0M336.5 160.5h0M339.5 161.5h0M337.5 153.5h0M337.5 168.5h0M330.5 154.5h0M351.5 160.5h0M337.5 182.5h0M335.5 154.5h0M340.5 159.5h0M343.5 171.5h0M357.5 173.5h0M345.5 158.5h0M341.5 170.5h0M333.5 160.5h0M337.5 172.5h0M333.5 163.5h0M348.5 165.5h0M346.5 164.5h0M321.5 161.5h0M351.5 166.5h0M355.5 133.5h0M341.5 177.5h0M347.5 161.5h0M322.5 169.5h0M335.5 158.5h0M346.5 170.5h0M354.5 151.5h0M348.5 161.5h0M339.5 151.5h0M348.5 136.5h0M334.5 169.5h0M343.5 166.5h0M347.5 123.5h0M347.5 175.5h0M340.5 167.5h0M353.5 158.5h0M342.5 175.5h0M339.5 175.5h0M342.5 149.5h0M347.5 169.5h0M342.5 182.5h0M356.5 160.5h0M336.5 162.5h0M340.5 168.5h0M350.5 162.5h0M357.5 169.5h0M345.5 171.5h0M338.5 163.5h0M340.5 179.5h0M343.5 159.5h0M348.5 174.5h0M345.5 174.5h0M338.5 151.5h0M322.5 138.5h0M338.5 189.5h0M337.5 156.5h0M351.5 150.5h0M335.5 163.5h0M347.5 160.5h0M349.5 155.5h0M352.5 165.5h0M339.5 163.5h0M353.5 145.5h0M348.5 159.5h0M336.5 169.5h0M348.5 172.5h0M337.5 162.5h0M349.5 156.5h0M339.5 186.5h0M348.5 160.5h0M336.5 155.5h0M350.5 165.5h0M338.5 171.5h0M335.5 161.5h0M333.5 176.5h0M339.5 178.5h0M337.5 163.5h0M340.5 163.5h0M352.5 146.5h0M332.5 151.5h0M337.5 169.5h0M345.5 173.5h0M343.5 178.5h0M339.5 164.5h0M344.5 186.5h0M336.5 174.5h0M338.5 158.5h0M348.5 164.5h0M353.5 164.5h0M343.5 187.5h0M348.5 157.5h0M356.5 156.5h0M334.5 148.5h0M334.5 176.5h0M340.5 156.5h0M345.5 143.5h0M326.5 184.5h0M356.5 164.5h0M335.5 169.5h0M345.5 161.5h0M325.5 163.5h0M323.5 158.5h0M340.5 171.5h0M344.5 170.5h0M341.5 161.5h0M339.5 165.5h0M349.5 150.5h0M339.5 187.5h0M344.5 154.5h0M357.5 150.5h0M335.5 184.5h0M339.5 167.5h0M353.5 175.5h0M357.5 137.5h0M356.5 154.5h0M334.5 185.5h0M344.5 160.5h0M340.5 170.5h0M350.5 150.5h0M343.5 151.5h0M333.5 162.5h0M345.5 186.5h0M348.5 158.5h0M350.5 151.5h0M357.5 152.5h0M339.5 160.5h0M345.5 153.5h0M341.5 159.5h0M341.5 173.5h0M323.5 174.5h0M331.5 155.5h0M340.5 157.5h0M335.5 183.5h0M328.5 173.5h0M352.5 151.5h0M359.5 176.5h0M326.5 155.5h0M349.5 146.5h0M343.5 175.5h0M340.5 160.5h0M332.5 159.5h0M333.5 165.5h0M341.5 171.5h0M340.5 169.5h0M361.5 126.5h0M350.5 154.5h0M346.5 163.5h0M333.5 167.5h0M360.5 153.5h0M360.5 166.5h0M342.5 176.5h0M346.5 147.5h0M340.5 177.5h0M337.5 173.5h0M331.5 158.5h0M346.5 166.5h0M355.5 163.5h0M353.5 167.5h0M345.5 154.5h0M348.5 179.5h0M325.5 170.5h0M340.5 152.5h0M328.5 156.5h0M358.5 163.5h0M337.5 144.5h0M329.5 159.5h0M339.5 172.5h0M353.5 154.5h0M338.5 172.5h0M339.5 144.5h0M332.5 170.5h0M353.5 159.5h0M346.5 158.5h0M342.5 161.5h0M342.5 160.5h0M349.5 174.5h0M357.5 155.5h0M336.5 159.5h0M354.5 158.5h0M355.5 175.5h0M326.5 165.5h0M342.5 159.5h0M344.5 162.5h0M328.5 157.5h0M346.5 168.5h0M356.5 149.5h0M337.5 159.5h0M346.5 165.5h0M357.5 176.5h0M336.5 175.5h0M341.5 168.5h0M349.5 172.5h0M333.5 169.5h0M358.5 145.5h0M355.5 150.5h0M341.5 162.5h0M342.5 166.5h0M351.5 173.5h0M349.5 154.5h0M332.5 160.5h0M350.5 164.5h0M337.5 155.5h0M336.5 167.5h0M343.5 172.5h0M328.5 163.5h0M354.5 166.5h0M329.5 171.5h0M358.5 175.5h0M338.5 150.5h0M356.5 174.5h0M343.5 165.5h0M331.5 161.5h0M352.5 164.5h0M353.5 170.5h0M347.5 156.5h0M344.5 181.5h0M336.5 176.5h0M346.5 160.5h0M356.5 161.5h0M350.5 158.5h0M359.5 161.5h0M350.5 155.5h0M342.5 143.5h0M341.5 187.5h0M338.5 179.5h0M331.5 175.5h0M345.5 162.5h0M323.5 166.5h0M355.5 165.5h0M349.5 173.5h0M355.5 148.5h0M341.5 149.5h0M342.5 164.5h0M404.5 120.5h0M392.5 131.5h0M413.5 124.5h0M378.5 108.5h0M398.5 141.5h0M412.5 158.5h0M428.5 142.5h0M430.5 121.5h0M422.5 108.5h0M392.5 139.5h0M383.5 151.5h0M431.5 94.5h0M377.5 152.5h0M383.5 133.5h0M439.5 129.5h0M398.5 157.5h0M382.5 129.5h0M402.5 101.5h0M396.5 150.5h0M392.5 151.5h0M394.5 139.5h0M371.5 119.5h0M403.5 113.5h0M429.5 156.5h0M411.5 109.5h0M375.5 148.5h0M442.5 135.5h0M457.5 169.5h0M395.5 168.5h0M429.5 158.5h0M414.5 121.5h0M417.5 157.5h0M429.5 138.5h0M446.5 120.5h0M410.5 165.5h0M434.5 126.5h0M435.5 98.5h0M376.5 126.5h0M399.5 86.5h0M382.5 170.5h0M373.5 142.5h0M410.5 144.5h0M436.5 176.5h0M429.5 102.5h0M393.5 131.5h0M395.5 153.5h0M394.5 150.5h0M445.5 103.5h0M432.5 137.5h0M367.5 127.5h0M408.5 160.5h0M424.5 141.5h0M429.5 103.5h0M368.5 143.5h0M375.5 115.5h0M452.5 134.5h0M430.5 135.5h0M371.5 136.5h0M439.5 150.5h0M371.5 143.5h0M440.5 169.5h0M399.5 152.5h0M366.5 151.5h0M391.5 148.5h0M385.5 124.5h0M415.5 164.5h0M420.5 136.5h0M425.5 112.5h0M381.5 159.5h0M439.5 168.5h0M389.5 124.5h0M412.5 126.5h0M442.5 143.5h0M432.5 143.5h0M406.5 169.5h0M393.5 102.5h0M441.5 128.5h0M376.5 158.5h0M418.5 156.5h0M449.5 132.5h0M369.5 101.5h0M442.5 118.5h0M460.5 113.5h0M429.5 131.5h0M408.5 163.5h0M409.5 144.5h0M433.5 130.5h0M389.5 123.5h0M428.5 137.5h0M408.5 150.5h0M447.5 168.5h0M455.5 159.5h0M439.5 155.5h0M443.5 134.5h0M436.5 144.5h0M420.5 161.5h0M375.5 168.5h0M447.5 150.5h0M451.5 120.5h0M420.5 116.5h0M398.5 142.5h0M377.5 155.5h0M424.5 154.5h0M374.5 133.5h0M379.5 154.5h0M438.5 148.5h0M370.5 151.5h0M378.5 111.5h0M400.5 112.5h0M449.5 97.5h0M385.5 144.5h0M414.5 150.5h0M372.5 122.5h0M418.5 112.5h0M405.5 113.5h0M407.5 99.5h0M435.5 105.5h0M358.5 122.5h0M393.5 158.5h0M370.5 132.5h0M371.5 132.5h0M430.5 127.5h0M407.5 160.5h0M440.5 110.5h0M384.5 95.5h0M393.5 145.5h0M438.5 168.5h0M445.5 156.5h0M419.5 168.5h0M420.5 140.5h0M421.5 129.5h0M454.5 155.5h0M385.5 143.5h0M406.5 133.5h0M386.5 105.5h0M408.5 134.5h0M399.5 105.5h0M387.5 108.5h0M410.5 127.5h0M396.5 130.5h0M389.5 151.5h0M393.5 137.5h0M439.5 161.5h0M389.5 182.5h0M420.5 154.5h0M407.5 113.5h0M417.5 110.5h0M395.5 102.5h0M398.5 113.5h0M369.5 149.5h0M410.5 167.5h0M384.5 115.5h0M431.5 141.5h0M368.5 81.5h0M443.5 148.5h0M422.5 161.5h0M425.5 165.5h0M389.5 157.5h0M378.5 159.5h0M384.5 123.5h0M386.5 149.5h0M386.5 127.5h0M427.5 162.5h0M414.5 119.5h0M436.5 108.5h0M385.5 163.5h0M415.5 101.5h0M388.5 159.5h0M378.5 122.5h0M385.5 165.5h0M394.5 109.5h0M427.5 143.5h0M419.5 102.5h0M389.5 110.5h0M399.5 108.5h0M439.5 154.5h0M403.5 164.5h0M439.5 164.5h0M401.5 164.5h0M415.5 135.5h0M410.5 107.5h0M374.5 138.5h0M442.5 147.5h0M428.5 97.5h0M376.5 132.5h0M426.5 117.5h0M392.5 169.5h0M395.5 109.5h0M423.5 97.5h0M425.5 149.5h0M386.5 130.5h0M434.5 144.5h0M392.5 149.5h0M409.5 159.5h0M405.5 155.5h0M425.5 99.5h0M403.5 96.5h0M375.5 183.5h0M427.5 98.5h0M407.5 178.5h0M427.5 174.5h0M405.5 150.5h0M430.5 119.5h0M416.5 111.5h0M403.5 98.5h0M419.5 158.5h0M409.5 128.5h0M442.5 107.5h0M400.5 141.5h0M419.5 133.5h0M439.5 100.5h0M407.5 110.5h0M395.5 166.5h0M428.5 100.5h0M413.5 142.5h0M391.5 158.5h0M383.5 140.5h0M443.5 105.5h0M418.5 161.5h0M420.5 162.5h0M411.5 139.5h0M429.5 165.5h0M432.5 165.5h0M369.5 135.5h0M384.5 140.5h0M439.5 116.5h0M434.5 155.5h0M406.5 94.5h0M367.5 145.5h0M443.5 110.5h0M418.5 162.5h0M417.5 147.5h0M433.5 181.5h0M420.5 133.5h0M446.5 136.5h0M394.5 136.5h0M404.5 152.5h0M428.5 143.5h0M414.5 146.5h0M430.5 107.5h0M406.5 152.5h0M427.5 126.5h0M374.5 146.5h0M380.5 102.5h0M376.5 135.5h0M418.5 144.5h0M429.5 105.5h0M412.5 132.5h0M426.5 158.5h0M445.5 104.5h0M387.5 123.5h0M367.5 121.5h0M356.5 137.5h0M458.5 111.5h0M409.5 146.5h0M448.5 114.5h0M421.5 172.5h0M421.5 126.5h0M374.5 124.5h0M393.5 110.5h0M409.5 125.5h0M370.5 161.5h0M393.5 168.5h0M452.5 166.5h0M376.5 165.5h0M401.5 128.5h0M441.5 160.5h0M417.5 104.5h0M402.5 110.5h0M386.5 109.5h0M431.5 152.5h0M453.5 106.5h0M386.5 131.5h0M380.5 125.5h0M450.5 104.5h0M363.5 97.5h0M359.5 107.5h0M434.5 121.5h0M436.5 148.5h0M399.5 99.5h0M392.5 145.5h0M374.5 122.5h0M396.5 120.5h0M415.5 105.5h0M421.5 121.5h0M408.5 157.5h0M429.5 89.5h0M422.5 176.5h0M448.5 124.5h0M385.5 142.5h0M420.5 113.5h0M443.5 138.5h0M405.5 126.5h0M442.5 140.5h0M391.5 125.5h0M384.5 156.5h0M434.5 123.5h0M386.5 152.5h0M427.5 166.5h0M420.5 151.5h0M401.5 149.5h0M392.5 130.5h0M391.5 145.5h0M412.5 122.5h0M381.5 137.5h0M400.5 159.5h0M391.5 147.5h0M409.5 164.5h0M393.5 142.5h0M401.5 127.5h0M375.5 149.5h0M432.5 148.5h0M435.5 159.5h0M372.5 126.5h0M403.5 165.5h0M413.5 154.5h0M413.5 99.5h0M423.5 162.5h0M387.5 132.5h0M448.5 143.5h0M379.5 121.5h0M374.5 140.5h0M454.5 131.5h0M432.5 136.5h0M434.5 97.5h0M383.5 152.5h0M425.5 120.5h0M384.5 129.5h0M390.5 126.5h0M406.5 124.5h0M399.5 109.5h0M451.5 157.5h0M394.5 148.5h0M436.5 102.5h0M400.5 142.5h0M392.5 102.5h0M370.5 106.5h0M388.5 100.5h0M417.5 107.5h0M403.5 148.5h0M456.5 136.5h0M392.5 154.5h0M399.5 123.5h0M403.5 132.5h0M428.5 141.5h0M407.5 176.5h0M384.5 120.5h0M428.5 155.5h0M391.5 107.5h0M398.5 138.5h0M368.5 140.5h0M401.5 166.5h0M365.5 150.5h0M373.5 122.5h0M410.5 115.5h0M409.5 108.5h0M453.5 99.5h0M400.5 131.5h0M429.5 125.5h0M404.5 155.5h0M436.5 130.5h0M448.5 115.5h0M412.5 152.5h0M378.5 125.5h0M370.5 120.5h0M388.5 115.5h0M423.5 151.5h0M393.5 164.5h0M404.5 158.5h0M393.5 113.5h0M417.5 126.5h0M394.5 138.5h0M388.5 156.5h0M449.5 136.5h0M423.5 100.5h0M412.5 104.5h0M363.5 98.5h0M413.5 113.5h0M423.5 134.5h0M380.5 146.5h0M380.5 171.5h0M438.5 157.5h0M421.5 105.5h0M432.5 103.5h0M416.5 120.5h0M415.5 119.5h0M407.5 128.5h0M407.5 103.5h0M424.5 155.5h0M368.5 159.5h0M442.5 127.5h0M399.5 141.5h0M409.5 151.5h0M444.5 118.5h0M435.5 132.5h0M438.5 132.5h0M443.5 168.5h0M395.5 145.5h0M444.5 109.5h0M405.5 160.5h0M415.5 111.5h0M394.5 116.5h0M424.5 122.5h0M380.5 121.5h0M451.5 151.5h0M445.5 158.5h0M420.5 114.5h0M383.5 144.5h0M395.5 167.5h0M405.5 170.5h0M419.5 160.5h0M440.5 119.5h0M445.5 147.5h0M407.5 158.5h0M400.5 130.5h0M387.5 169.5h0M376.5 100.5h0M426.5 131.5h0M402.5 112.5h0M440.5 146.5h0M393.5 124.5h0M428.5 124.5h0M458.5 116.5h0M412.5 134.5h0M449.5 153.5h0M369.5 159.5h0M416.5 165.5h0M411.5 156.5h0M377.5 159.5h0M403.5 168.5h0M402.5 115.5h0M400.5 114.5h0M427.5 158.5h0M441.5 145.5h0M365.5 104.5h0M440.5 143.5h0M425.5 114.5h0M419.5 154.5h0M382.5 145.5h0M399.5 135.5h0M371.5 122.5h0M427.5 129.5h0M402.5 124.5h0M380.5 141.5h0M408.5 121.5h0M435.5 130.5h0M446.5 137.5h0M399.5 156.5h0M426.5 151.5h0M421.5 130.5h0M386.5 116.5h0M376.5 105.5h0M433.5 107.5h0M376.5 130.5h0M446.5 96.5h0M407.5 146.5h0M408.5 116.5h0M450.5 157.5h0M426.5 119.5h0M413.5 108.5h0M384.5 130.5h0M388.5 118.5h0M409.5 152.5h0M407.5 139.5h0M378.5 165.5h0M445.5 123.5h0M438.5 159.5h0M437.5 146.5h0M397.5 143.5h0M392.5 162.5h0M392.5 120.5h0M435.5 145.5h0M383.5 164.5h0M446.5 107.5h0M389.5 138.5h0M436.5 114.5h0M409.5 153.5h0M373.5 176.5h0M383.5 142.5h0M426.5 148.5h0M411.5 119.5h0M401.5 135.5h0M378.5 138.5h0M418.5 125.5h0M441.5 140.5h0M427.5 99.5h0M446.5 147.5h0M433.5 104.5h0M410.5 101.5h0M374.5 163.5h0M371.5 145.5h0M380.5 127.5h0M386.5 154.5h0M439.5 122.5h0M390.5 143.5h0M429.5 164.5h0M412.5 159.5h0M436.5 91.5h0M379.5 142.5h0M427.5 149.5h0M420.5 147.5h0M399.5 157.5h0M448.5 111.5h0M450.5 138.5h0M382.5 143.5h0M416.5 113.5h0M416.5 94.5h0M415.5 102.5h0M389.5 129.5h0M430.5 162.5h0M415.5 150.5h0M391.5 160.5h0M383.5 115.5h0M440.5 136.5h0M411.5 91.5h0M441.5 147.5h0M399.5 149.5h0M429.5 119.5h0M395.5 113.5h0M405.5 115.5h0M398.5 106.5h0M449.5 101.5h0M392.5 138.5h0M413.5 160.5h0M368.5 160.5h0M385.5 113.5h0M407.5 121.5h0M393.5 126.5h0M405.5 123.5h0M422.5 148.5h0M362.5 140.5h0M411.5 157.5h0M428.5 151.5h0M433.5 142.5h0M446.5 104.5h0M438.5 89.5h0M398.5 149.5h0M389.5 144.5h0M422.5 131.5h0M415.5 127.5h0M388.5 122.5h0M396.5 159.5h0M448.5 109.5h0M434.5 165.5h0M434.5 166.5h0M433.5 111.5h0M425.5 116.5h0M384.5 143.5h0M361.5 160.5h0M387.5 145.5h0M431.5 156.5h0M419.5 104.5h0M410.5 134.5h0M395.5 140.5h0M393.5 115.5h0M399.5 150.5h0M386.5 136.5h0M407.5 135.5h0M441.5 156.5h0M431.5 121.5h0M387.5 117.5h0M408.5 147.5h0M426.5 102.5h0M392.5 98.5h0M419.5 99.5h0M447.5 144.5h0M432.5 135.5h0M417.5 115.5h0M442.5 126.5h0M412.5 131.5h0M450.5 144.5h0M402.5 121.5h0M375.5 105.5h0M381.5 107.5h0M410.5 158.5h0M432.5 107.5h0M411.5 108.5h0M426.5 116.5h0M411.5 117.5h0M449.5 108.5h0M399.5 126.5h0M447.5 96.5h0M407.5 155.5h0M381.5 128.5h0M403.5 122.5h0M447.5 154.5h0M421.5 138.5h0M369.5 132.5h0M426.5 135.5h0M431.5 87.5h0M416.5 160.5h0M431.5 151.5h0M440.5 171.5h0M423.5 126.5h0M379.5 102.5h0M440.5 167.5h0M400.5 136.5h0M420.5 150.5h0M454.5 129.5h0M401.5 145.5h0M376.5 129.5h0M408.5 159.5h0M395.5 151.5h0M391.5 127.5h0M415.5 147.5h0M408.5 139.5h0M387.5 175.5h0M414.5 142.5h0M416.5 110.5h0M451.5 117.5h0M407.5 131.5h0M396.5 104.5h0M421.5 154.5h0M393.5 135.5h0M376.5 141.5h0M390.5 96.5h0M396.5 154.5h0M378.5 133.5h0M440.5 107.5h0M429.5 117.5h0M416.5 122.5h0M422.5 153.5h0M379.5 148.5h0M439.5 115.5h0M372.5 165.5h0M384.5 107.5h0M430.5 153.5h0M461.5 140.5h0M379.5 110.5h0M433.5 175.5h0M395.5 105.5h0M374.5 158.5h0M366.5 164.5h0M444.5 116.5h0M435.5 153.5h0M449.5 126.5h0M380.5 161.5h0M400.5 108.5h0M398.5 102.5h0M397.5 104.5h0M383.5 154.5h0M392.5 127.5h0M388.5 132.5h0M413.5 140.5h0M377.5 160.5h0M448.5 119.5h0M446.5 125.5h0M400.5 162.5h0M431.5 103.5h0M428.5 105.5h0M388.5 171.5h0M405.5 156.5h0M423.5 96.5h0M389.5 113.5h0M363.5 158.5h0M412.5 121.5h0M394.5 154.5h0M402.5 105.5h0M401.5 99.5h0M396.5 153.5h0M407.5 149.5h0M373.5 152.5h0M426.5 113.5h0M414.5 158.5h0M418.5 167.5h0M382.5 106.5h0M405.5 165.5h0M414.5 152.5h0M398.5 125.5h0M404.5 151.5h0M410.5 99.5h0M398.5 121.5h0M425.5 152.5h0M437.5 123.5h0M434.5 134.5h0M413.5 156.5h0M396.5 112.5h0M403.5 145.5h0M454.5 142.5h0M383.5 141.5h0M429.5 147.5h0M429.5 146.5h0M433.5 152.5h0M401.5 160.5h0M410.5 129.5h0M385.5 155.5h0M399.5 154.5h0M434.5 125.5h0M437.5 130.5h0M369.5 160.5h0M430.5 149.5h0M382.5 121.5h0M427.5 101.5h0M439.5 151.5h0M425.5 148.5h0M418.5 98.5h0M433.5 139.5h0M379.5 120.5h0M397.5 166.5h0M454.5 137.5h0M394.5 112.5h0M406.5 126.5h0M377.5 153.5h0M418.5 107.5h0M423.5 106.5h0M399.5 90.5h0M386.5 147.5h0M449.5 142.5h0M425.5 122.5h0M378.5 151.5h0M382.5 147.5h0M444.5 115.5h0M399.5 146.5h0M447.5 135.5h0M447.5 115.5h0M426.5 101.5h0M441.5 146.5h0M431.5 143.5h0M407.5 161.5h0M445.5 90.5h0M373.5 151.5h0M381.5 123.5h0M425.5 147.5h0M447.5 148.5h0M434.5 128.5h0M423.5 108.5h0M396.5 158.5h0M437.5 148.5h0M421.5 115.5h0M411.5 127.5h0M399.5 102.5h0M385.5 125.5h0M452.5 108.5h0M388.5 142.5h0M430.5 123.5h0M422.5 122.5h0M452.5 157.5h0M374.5 132.5h0M424.5 144.5h0M417.5 130.5h0M411.5 122.5h0M433.5 159.5h0M431.5 163.5h0M396.5 168.5h0M379.5 150.5h0M406.5 96.5h0M444.5 137.5h0M391.5 149.5h0M375.5 113.5h0M433.5 78.5h0M441.5 125.5h0M400.5 152.5h0M441.5 151.5h0M404.5 105.5h0M379.5 164.5h0M387.5 104.5h0M429.5 162.5h0M427.5 110.5h0M429.5 134.5h0M448.5 136.5h0M416.5 142.5h0M393.5 106.5h0M415.5 99.5h0M423.5 156.5h0M390.5 106.5h0M430.5 140.5h0M421.5 127.5h0M456.5 104.5h0M391.5 114.5h0M394.5 117.5h0M455.5 111.5h0M394.5 152.5h0M431.5 102.5h0M411.5 89.5h0M410.5 100.5h0M393.5 133.5h0M394.5 104.5h0M435.5 109.5h0M413.5 139.5h0M379.5 100.5h0M410.5 160.5h0M399.5 119.5h0M428.5 87.5h0M392.5 155.5h0M436.5 111.5h0M385.5 123.5h0M414.5 138.5h0M393.5 141.5h0M419.5 157.5h0M419.5 93.5h0M389.5 102.5h0M436.5 113.5h0M413.5 158.5h0M382.5 157.5h0M407.5 150.5h0M410.5 136.5h0M420.5 118.5h0M432.5 113.5h0M399.5 160.5h0M377.5 171.5h0M424.5 93.5h0M377.5 167.5h0M452.5 115.5h0M392.5 97.5h0M435.5 113.5h0M442.5 170.5h0M389.5 96.5h0M411.5 162.5h0M396.5 113.5h0M424.5 148.5h0M437.5 119.5h0M438.5 155.5h0M427.5 157.5h0M446.5 156.5h0M376.5 97.5h0M441.5 101.5h0M374.5 114.5h0M432.5 167.5h0M390.5 163.5h0M443.5 113.5h0M388.5 105.5h0M443.5 88.5h0M387.5 142.5h0M432.5 96.5h0M369.5 118.5h0M431.5 154.5h0M377.5 144.5h0M432.5 102.5h0M380.5 128.5h0M412.5 109.5h0M411.5 163.5h0M402.5 131.5h0M402.5 134.5h0M385.5 129.5h0M408.5 137.5h0M407.5 170.5h0M417.5 102.5h0M429.5 154.5h0M415.5 155.5h0M450.5 106.5h0M431.5 101.5h0M401.5 132.5h0M444.5 141.5h0M443.5 153.5h0M428.5 111.5h0M420.5 148.5h0M434.5 118.5h0M448.5 130.5h0M402.5 136.5h0M383.5 95.5h0M434.5 112.5h0M372.5 134.5h0M455.5 151.5h0M428.5 138.5h0M405.5 140.5h0M390.5 118.5h0M419.5 149.5h0M405.5 107.5h0M433.5 103.5h0M424.5 113.5h0M426.5 147.5h0M425.5 156.5h0M437.5 120.5h0M370.5 150.5h0M384.5 103.5h0M401.5 108.5h0M442.5 98.5h0M444.5 142.5h0M424.5 128.5h0M390.5 151.5h0M393.5 119.5h0M397.5 149.5h0M431.5 107.5h0M410.5 113.5h0M413.5 103.5h0M426.5 150.5h0M418.5 117.5h0M380.5 157.5h0M380.5 144.5h0M431.5 91.5h0M385.5 162.5h0M382.5 150.5h0M392.5 111.5h0M409.5 130.5h0M418.5 142.5h0M413.5 115.5h0M383.5 130.5h0M409.5 134.5h0M416.5 123.5h0M394.5 160.5h0M403.5 104.5h0M439.5 128.5h0M434.5 100.5h0M402.5 116.5h0M394.5 130.5h0M393.5 118.5h0M393.5 149.5h0M436.5 156.5h0M421.5 96.5h0M397.5 152.5h0M430.5 124.5h0M423.5 154.5h0M376.5 117.5h0M365.5 101.5h0M382.5 156.5h0M393.5 144.5h0M370.5 117.5h0M425.5 117.5h0M391.5 117.5h0M407.5 125.5h0M415.5 87.5h0M415.5 121.5h0M444.5 114.5h0M396.5 171.5h0M422.5 110.5h0M430.5 105.5h0M401.5 104.5h0M394.5 161.5h0M377.5 110.5h0M418.5 123.5h0M438.5 167.5h0M410.5 120.5h0M441.5 107.5h0M392.5 142.5h0M430.5 134.5h0M432.5 140.5h0M447.5 143.5h0M380.5 112.5h0M407.5 107.5h0M421.5 124.5h0M413.5 126.5h0M395.5 124.5h0M443.5 84.5h0M431.5 148.5h0M371.5 101.5h0M379.5 134.5h0M437.5 137.5h0M379.5 139.5h0M393.5 134.5h0M444.5 112.5h0M447.5 174.5h0M452.5 119.5h0M385.5 168.5h0M426.5 133.5h0M378.5 134.5h0M414.5 132.5h0M431.5 109.5h0M410.5 149.5h0M399.5 117.5h0M386.5 155.5h0M444.5 158.5h0M407.5 117.5h0M374.5 157.5h0M406.5 125.5h0M425.5 121.5h0M416.5 149.5h0M437.5 112.5h0M399.5 122.5h0M391.5 150.5h0M411.5 106.5h0M456.5 148.5h0M420.5 130.5h0M399.5 98.5h0M414.5 133.5h0M433.5 162.5h0M417.5 148.5h0M423.5 159.5h0M392.5 101.5h0M387.5 155.5h0M414.5 151.5h0M454.5 97.5h0M387.5 118.5h0M385.5 175.5h0M386.5 122.5h0M421.5 153.5h0M436.5 128.5h0M388.5 139.5h0M412.5 127.5h0M403.5 111.5h0M433.5 100.5h0M461.5 97.5h0M446.5 158.5h0M387.5 136.5h0M452.5 103.5h0M378.5 140.5h0M419.5 106.5h0M374.5 111.5h0M426.5 138.5h0M410.5 93.5h0M438.5 146.5h0M372.5 120.5h0M399.5 134.5h0M443.5 150.5h0M388.5 117.5h0M396.5 105.5h0M417.5 176.5h0M435.5 124.5h0M417.5 165.5h0M415.5 109.5h0M426.5 118.5h0M436.5 125.5h0M429.5 155.5h0M422.5 126.5h0M432.5 142.5h0M450.5 127.5h0M447.5 126.5h0M400.5 172.5h0M401.5 163.5h0M427.5 114.5h0M437.5 113.5h0M436.5 98.5h0M424.5 171.5h0M402.5 157.5h0M387.5 133.5h0M397.5 100.5h0M422.5 102.5h0M390.5 157.5h0M380.5 145.5h0M379.5 145.5h0M385.5 114.5h0M381.5 127.5h0M412.5 128.5h0M392.5 147.5h0M398.5 163.5h0M377.5 127.5h0M367.5 122.5h0M387.5 164.5h0M387.5 102.5h0M380.5 129.5h0M410.5 118.5h0M411.5 100.5h0M441.5 90.5h0M413.5 153.5h0M377.5 117.5h0M409.5 149.5h0M430.5 88.5h0M371.5 114.5h0M399.5 115.5h0M431.5 123.5h0M385.5 122.5h0M437.5 115.5h0M371.5 144.5h0M443.5 139.5h0M378.5 124.5h0M400.5 145.5h0M422.5 138.5h0M448.5 96.5h0M447.5 131.5h0M375.5 129.5h0M413.5 138.5h0M430.5 156.5h0M377.5 158.5h0M382.5 138.5h0M447.5 97.5h0M406.5 118.5h0M437.5 98.5h0M359.5 105.5h0M394.5 163.5h0M402.5 128.5h0M417.5 91.5h0M433.5 154.5h0M404.5 138.5h0M416.5 147.5h0M434.5 127.5h0M377.5 170.5h0M391.5 134.5h0M433.5 150.5h0M460.5 127.5h0M370.5 155.5h0M444.5 93.5h0M399.5 104.5h0M441.5 149.5h0M426.5 139.5h0M419.5 134.5h0M418.5 152.5h0M387.5 126.5h0M439.5 137.5h0M443.5 78.5h0M400.5 160.5h0M431.5 135.5h0M376.5 103.5h0M453.5 103.5h0M449.5 100.5h0M413.5 141.5h0M413.5 96.5h0M370.5 137.5h0M369.5 140.5h0M442.5 171.5h0M419.5 152.5h0M399.5 161.5h0M385.5 100.5h0M443.5 144.5h0M456.5 88.5h0M397.5 109.5h0M418.5 143.5h0M433.5 118.5h0M401.5 143.5h0M369.5 102.5h0M443.5 123.5h0M398.5 110.5h0M408.5 98.5h0M438.5 149.5h0M422.5 120.5h0M451.5 102.5h0M397.5 110.5h0M385.5 157.5h0M417.5 124.5h0M375.5 133.5h0M424.5 160.5h0M402.5 147.5h0M379.5 104.5h0M370.5 107.5h0M426.5 140.5h0M378.5 113.5h0M429.5 95.5h0M394.5 155.5h0M378.5 143.5h0M406.5 156.5h0M378.5 164.5h0M406.5 139.5h0M447.5 139.5h0M436.5 163.5h0M427.5 132.5h0M440.5 128.5h0M453.5 115.5h0M393.5 140.5h0M417.5 135.5h0M376.5 121.5h0M413.5 120.5h0M401.5 168.5h0M388.5 148.5h0M375.5 128.5h0M404.5 161.5h0M444.5 131.5h0M434.5 154.5h0M429.5 104.5h0M403.5 125.5h0M398.5 144.5h0M474.5 124.5h0M383.5 110.5h0M395.5 120.5h0M444.5 111.5h0M356.5 121.5h0M410.5 162.5h0M393.5 160.5h0M445.5 153.5h0M445.5 138.5h0M420.5 101.5h0M372.5 129.5h0M393.5 114.5h0M423.5 153.5h0M437.5 132.5h0M371.5 154.5h0M386.5 143.5h0M453.5 118.5h0M455.5 138.5h0M422.5 149.5h0M438.5 161.5h0M434.5 133.5h0M378.5 114.5h0M423.5 168.5h0M445.5 106.5h0M414.5 135.5h0M397.5 131.5h0M432.5 131.5h0M418.5 96.5h0M368.5 131.5h0M385.5 115.5h0M421.5 134.5h0M421.5 131.5h0M403.5 171.5h0M440.5 138.5h0M448.5 158.5h0M436.5 135.5h0M412.5 133.5h0M424.5 102.5h0M408.5 165.5h0M433.5 135.5h0M428.5 148.5h0M453.5 120.5h0M369.5 145.5h0M397.5 139.5h0M394.5 92.5h0M394.5 140.5h0M371.5 106.5h0M386.5 101.5h0M438.5 153.5h0M433.5 144.5h0M398.5 89.5h0M375.5 98.5h0M429.5 140.5h0M442.5 150.5h0M387.5 127.5h0M386.5 112.5h0M409.5 132.5h0M456.5 164.5h0M371.5 142.5h0M411.5 113.5h0M427.5 109.5h0M419.5 107.5h0M442.5 141.5h0M413.5 155.5h0M415.5 94.5h0M383.5 108.5h0M372.5 109.5h0M423.5 118.5h0M437.5 116.5h0M382.5 108.5h0M405.5 120.5h0M414.5 106.5h0M382.5 146.5h0M454.5 138.5h0M373.5 123.5h0M381.5 133.5h0M372.5 101.5h0M390.5 108.5h0M417.5 114.5h0M463.5 146.5h0M436.5 160.5h0M398.5 155.5h0M412.5 113.5h0M377.5 138.5h0M434.5 151.5h0M422.5 132.5h0M420.5 106.5h0M369.5 167.5h0M377.5 132.5h0M442.5 102.5h0M430.5 150.5h0M451.5 94.5h0M430.5 152.5h0M407.5 153.5h0M399.5 131.5h0M367.5 101.5h0M407.5 141.5h0M407.5 152.5h0M369.5 157.5h0M392.5 107.5h0M438.5 91.5h0M421.5 99.5h0M401.5 88.5h0M438.5 134.5h0M452.5 162.5h0M433.5 160.5h0M431.5 128.5h0M395.5 129.5h0M425.5 168.5h0M435.5 148.5h0M401.5 155.5h0M433.5 123.5h0M428.5 136.5h0M438.5 135.5h0M401.5 120.5h0M428.5 161.5h0M441.5 102.5h0M426.5 144.5h0M398.5 143.5h0M376.5 104.5h0M424.5 106.5h0M390.5 156.5h0M409.5 147.5h0M415.5 106.5h0M385.5 140.5h0M378.5 146.5h0M422.5 142.5h0M384.5 137.5h0M411.5 126.5h0M388.5 158.5h0M390.5 149.5h0M419.5 122.5h0M422.5 133.5h0M379.5 161.5h0M435.5 107.5h0M447.5 107.5h0M449.5 166.5h0M387.5 139.5h0M448.5 145.5h0M442.5 120.5h0M390.5 165.5h0M421.5 118.5h0M375.5 166.5h0M367.5 170.5h0M423.5 115.5h0M420.5 131.5h0M377.5 120.5h0M390.5 124.5h0M393.5 150.5h0M429.5 152.5h0M436.5 124.5h0M411.5 135.5h0M395.5 131.5h0M403.5 143.5h0M436.5 140.5h0M371.5 137.5h0M401.5 115.5h0M375.5 147.5h0M447.5 157.5h0M427.5 159.5h0M430.5 96.5h0M426.5 111.5h0M378.5 131.5h0M414.5 143.5h0M405.5 90.5h0M423.5 135.5h0M417.5 156.5h0M391.5 116.5h0M384.5 104.5h0M383.5 153.5h0M417.5 112.5h0M453.5 91.5h0M406.5 130.5h0M409.5 97.5h0M398.5 137.5h0M435.5 127.5h0M406.5 128.5h0M389.5 107.5h0M424.5 112.5h0M451.5 98.5h0M425.5 128.5h0M372.5 123.5h0M445.5 143.5h0M405.5 100.5h0M372.5 152.5h0M372.5 164.5h0M423.5 99.5h0M393.5 157.5h0M445.5 125.5h0M382.5 132.5h0M390.5 138.5h0M355.5 151.5h0M407.5 165.5h0M364.5 164.5h0M395.5 107.5h0M416.5 107.5h0M395.5 152.5h0M422.5 143.5h0M435.5 114.5h0M388.5 96.5h0M387.5 163.5h0M382.5 99.5h0M405.5 145.5h0M391.5 123.5h0M376.5 169.5h0M419.5 131.5h0M424.5 146.5h0M409.5 95.5h0M431.5 149.5h0M425.5 115.5h0M433.5 108.5h0M408.5 141.5h0M373.5 143.5h0M409.5 136.5h0M441.5 111.5h0M368.5 110.5h0M391.5 135.5h0M436.5 146.5h0M448.5 117.5h0M407.5 104.5h0M448.5 139.5h0M422.5 96.5h0M403.5 109.5h0M451.5 125.5h0M387.5 138.5h0M428.5 152.5h0M431.5 144.5h0M385.5 126.5h0M383.5 145.5h0M389.5 130.5h0M457.5 96.5h0M381.5 153.5h0M412.5 106.5h0M447.5 94.5h0M440.5 140.5h0M394.5 103.5h0M412.5 125.5h0M437.5 99.5h0M392.5 96.5h0M403.5 150.5h0M403.5 121.5h0M406.5 159.5h0M397.5 90.5h0M371.5 109.5h0M373.5 103.5h0M420.5 153.5h0M416.5 128.5h0M380.5 160.5h0M379.5 141.5h0M367.5 113.5h0M398.5 162.5h0M408.5 156.5h0M409.5 105.5h0M396.5 107.5h0M418.5 101.5h0M385.5 105.5h0M390.5 152.5h0M432.5 127.5h0M372.5 127.5h0M409.5 121.5h0M403.5 149.5h0M402.5 99.5h0M413.5 90.5h0M427.5 137.5h0M397.5 156.5h0M368.5 101.5h0M438.5 112.5h0M401.5 177.5h0M376.5 156.5h0M385.5 159.5h0M423.5 107.5h0M430.5 102.5h0M394.5 111.5h0M421.5 145.5h0M402.5 100.5h0M388.5 114.5h0M436.5 103.5h0M390.5 99.5h0M430.5 94.5h0M412.5 146.5h0M399.5 158.5h0M441.5 142.5h0M385.5 136.5h0M393.5 94.5h0M455.5 94.5h0M404.5 119.5h0M438.5 117.5h0M422.5 154.5h0M399.5 130.5h0M383.5 158.5h0M398.5 112.5h0M388.5 153.5h0M390.5 148.5h0M424.5 124.5h0M408.5 148.5h0M430.5 133.5h0M399.5 166.5h0M377.5 141.5h0M424.5 120.5h0M398.5 159.5h0M398.5 130.5h0M380.5 110.5h0M425.5 151.5h0M432.5 133.5h0M440.5 131.5h0M390.5 137.5h0M413.5 119.5h0M450.5 117.5h0M392.5 124.5h0M381.5 167.5h0M393.5 116.5h0M400.5 111.5h0M433.5 157.5h0M376.5 124.5h0M409.5 129.5h0M396.5 110.5h0M442.5 156.5h0M436.5 161.5h0M419.5 137.5h0M391.5 162.5h0M438.5 96.5h0M407.5 112.5h0M392.5 135.5h0M413.5 123.5h0M392.5 158.5h0M402.5 122.5h0M404.5 122.5h0M417.5 133.5h0M380.5 158.5h0M391.5 96.5h0M450.5 159.5h0M381.5 134.5h0M415.5 145.5h0M402.5 106.5h0M390.5 105.5h0M397.5 135.5h0M397.5 116.5h0M369.5 143.5h0M408.5 125.5h0M408.5 126.5h0M399.5 153.5h0M379.5 108.5h0M387.5 144.5h0M444.5 121.5h0M377.5 149.5h0M424.5 157.5h0M435.5 100.5h0M400.5 124.5h0M422.5 135.5h0M447.5 103.5h0M391.5 171.5h0M406.5 138.5h0M408.5 132.5h0M408.5 127.5h0M440.5 100.5h0M397.5 148.5h0M427.5 147.5h0M434.5 132.5h0M397.5 96.5h0M393.5 127.5h0M439.5 132.5h0M396.5 122.5h0M371.5 147.5h0M441.5 118.5h0M396.5 147.5h0M395.5 155.5h0M389.5 139.5h0M381.5 114.5h0M378.5 109.5h0M455.5 130.5h0M395.5 128.5h0M420.5 158.5h0M380.5 111.5h0M417.5 155.5h0M410.5 159.5h0M361.5 136.5h0M434.5 145.5h0M371.5 138.5h0M417.5 160.5h0M418.5 129.5h0M396.5 124.5h0M440.5 142.5h0M379.5 169.5h0M393.5 129.5h0M397.5 111.5h0M396.5 129.5h0M433.5 126.5h0M379.5 128.5h0M386.5 142.5h0M403.5 108.5h0M433.5 95.5h0M383.5 113.5h0M431.5 113.5h0M453.5 124.5h0M378.5 161.5h0M427.5 105.5h0M364.5 112.5h0M410.5 121.5h0M441.5 143.5h0M443.5 133.5h0M438.5 97.5h0M411.5 133.5h0M428.5 89.5h0M403.5 154.5h0M444.5 154.5h0M429.5 121.5h0M429.5 106.5h0M392.5 167.5h0M367.5 166.5h0M414.5 115.5h0M395.5 108.5h0M407.5 143.5h0M419.5 132.5h0M440.5 121.5h0M397.5 133.5h0M409.5 120.5h0M385.5 135.5h0M386.5 133.5h0M382.5 148.5h0M425.5 146.5h0M442.5 125.5h0M393.5 147.5h0M400.5 135.5h0M435.5 164.5h0M393.5 138.5h0M403.5 127.5h0M404.5 162.5h0M390.5 113.5h0M390.5 98.5h0M416.5 168.5h0M422.5 111.5h0M436.5 158.5h0M405.5 143.5h0M442.5 122.5h0M421.5 119.5h0M419.5 117.5h0M392.5 143.5h0M384.5 134.5h0M398.5 108.5h0M440.5 104.5h0M413.5 170.5h0M408.5 94.5h0M434.5 102.5h0M397.5 125.5h0M383.5 146.5h0M414.5 164.5h0M417.5 154.5h0M386.5 153.5h0M406.5 160.5h0M439.5 142.5h0M427.5 128.5h0M429.5 110.5h0M426.5 145.5h0M404.5 135.5h0M381.5 140.5h0M410.5 161.5h0M439.5 141.5h0M382.5 142.5h0M425.5 113.5h0M400.5 107.5h0M386.5 141.5h0M432.5 171.5h0M433.5 105.5h0M381.5 136.5h0M403.5 142.5h0M420.5 92.5h0M421.5 110.5h0M435.5 120.5h0M370.5 154.5h0M366.5 162.5h0M440.5 152.5h0M382.5 130.5h0M390.5 107.5h0M422.5 165.5h0M386.5 162.5h0M402.5 154.5h0M397.5 137.5h0M386.5 125.5h0M467.5 145.5h0M407.5 151.5h0M397.5 147.5h0M381.5 158.5h0M401.5 162.5h0M442.5 154.5h0M379.5 101.5h0M366.5 144.5h0M432.5 157.5h0M452.5 117.5h0M443.5 129.5h0M441.5 91.5h0M387.5 141.5h0M448.5 164.5h0M430.5 147.5h0M377.5 139.5h0M437.5 168.5h0M399.5 139.5h0M385.5 166.5h0M431.5 117.5h0M383.5 155.5h0M375.5 102.5h0M427.5 136.5h0M421.5 146.5h0M438.5 109.5h0M454.5 105.5h0M439.5 144.5h0M378.5 152.5h0M436.5 142.5h0M417.5 166.5h0M408.5 173.5h0M435.5 143.5h0M392.5 122.5h0M369.5 164.5h0M376.5 167.5h0M422.5 106.5h0M451.5 160.5h0M411.5 160.5h0M450.5 171.5h0M416.5 141.5h0M390.5 130.5h0M405.5 164.5h0M391.5 115.5h0M448.5 88.5h0M365.5 162.5h0M427.5 90.5h0M432.5 117.5h0M413.5 130.5h0M432.5 118.5h0M410.5 130.5h0M403.5 118.5h0M365.5 135.5h0M374.5 126.5h0M364.5 144.5h0M400.5 150.5h0M424.5 165.5h0M438.5 129.5h0M419.5 116.5h0M413.5 106.5h0M416.5 103.5h0M394.5 107.5h0M404.5 147.5h0M442.5 123.5h0M407.5 102.5h0M401.5 126.5h0M381.5 97.5h0M413.5 97.5h0M438.5 122.5h0M402.5 159.5h0M397.5 179.5h0M404.5 131.5h0M458.5 117.5h0M413.5 161.5h0M405.5 135.5h0M385.5 151.5h0M431.5 112.5h0M426.5 146.5h0M431.5 95.5h0M406.5 121.5h0M421.5 140.5h0M428.5 102.5h0M395.5 122.5h0M438.5 164.5h0M408.5 111.5h0M406.5 129.5h0M402.5 155.5h0M408.5 122.5h0M446.5 149.5h0M437.5 124.5h0M412.5 99.5h0M400.5 97.5h0M399.5 142.5h0M446.5 106.5h0M426.5 104.5h0M436.5 106.5h0M411.5 143.5h0M431.5 124.5h0M419.5 139.5h0M421.5 165.5h0M434.5 106.5h0M406.5 102.5h0M439.5 87.5h0M406.5 146.5h0M389.5 165.5h0M433.5 131.5h0M379.5 155.5h0M418.5 148.5h0M405.5 153.5h0M386.5 172.5h0M445.5 162.5h0M372.5 124.5h0M424.5 105.5h0M387.5 143.5h0M399.5 174.5h0M439.5 119.5h0M385.5 104.5h0M390.5 114.5h0M394.5 134.5h0M396.5 94.5h0M411.5 136.5h0M414.5 153.5h0M449.5 90.5h0M421.5 144.5h0M398.5 132.5h0M422.5 100.5h0M383.5 128.5h0M388.5 133.5h0M365.5 128.5h0M370.5 113.5h0M395.5 149.5h0M393.5 173.5h0M400.5 113.5h0M416.5 125.5h0M422.5 152.5h0M434.5 117.5h0M427.5 124.5h0M428.5 167.5h0M452.5 144.5h0M390.5 123.5h0M377.5 124.5h0M392.5 171.5h0M445.5 119.5h0M444.5 152.5h0M372.5 137.5h0M435.5 102.5h0M400.5 99.5h0M418.5 97.5h0M427.5 161.5h0M430.5 144.5h0M407.5 101.5h0M423.5 146.5h0M384.5 121.5h0M376.5 153.5h0M441.5 157.5h0M410.5 122.5h0M394.5 175.5h0M399.5 118.5h0M408.5 110.5h0M428.5 122.5h0M401.5 102.5h0M417.5 97.5h0M411.5 93.5h0M399.5 100.5h0M420.5 107.5h0M411.5 159.5h0M395.5 170.5h0M379.5 129.5h0M408.5 112.5h0M453.5 153.5h0M446.5 132.5h0M416.5 126.5h0M407.5 144.5h0M382.5 124.5h0M434.5 108.5h0M440.5 112.5h0M372.5 155.5h0M447.5 105.5h0M364.5 161.5h0M447.5 146.5h0M445.5 124.5h0M371.5 151.5h0M369.5 103.5h0M393.5 162.5h0M395.5 125.5h0M396.5 102.5h0M395.5 161.5h0M410.5 154.5h0M407.5 120.5h0M386.5 138.5h0M374.5 93.5h0M404.5 108.5h0M392.5 161.5h0M381.5 125.5h0M386.5 146.5h0M380.5 154.5h0M402.5 135.5h0M397.5 108.5h0M432.5 158.5h0M377.5 96.5h0M392.5 106.5h0M375.5 155.5h0M423.5 113.5h0M440.5 159.5h0M402.5 90.5h0M366.5 170.5h0M370.5 165.5h0M400.5 177.5h0M435.5 123.5h0M369.5 137.5h0M387.5 107.5h0M395.5 121.5h0M405.5 158.5h0M373.5 110.5h0M421.5 160.5h0M388.5 144.5h0M408.5 155.5h0M410.5 164.5h0M453.5 96.5h0M427.5 111.5h0M438.5 162.5h0M406.5 166.5h0M369.5 125.5h0M425.5 131.5h0M440.5 101.5h0M445.5 136.5h0M409.5 137.5h0M431.5 167.5h0M422.5 119.5h0M442.5 117.5h0M388.5 111.5h0M414.5 130.5h0M419.5 140.5h0M435.5 139.5h0M371.5 121.5h0M421.5 142.5h0M377.5 136.5h0M413.5 164.5h0M388.5 130.5h0M401.5 103.5h0M381.5 120.5h0M397.5 167.5h0M401.5 161.5h0M407.5 119.5h0M424.5 129.5h0M404.5 98.5h0M447.5 119.5h0M412.5 170.5h0M389.5 128.5h0M397.5 150.5h0M375.5 131.5h0M374.5 168.5h0M445.5 115.5h0M375.5 121.5h0M378.5 166.5h0M455.5 133.5h0M373.5 102.5h0M406.5 164.5h0M391.5 157.5h0M398.5 116.5h0M397.5 159.5h0M447.5 151.5h0M444.5 153.5h0M373.5 113.5h0M418.5 124.5h0M401.5 131.5h0M439.5 140.5h0M428.5 163.5h0M410.5 123.5h0M370.5 144.5h0M422.5 125.5h0M417.5 131.5h0M432.5 112.5h0M404.5 141.5h0M400.5 126.5h0M418.5 118.5h0M398.5 151.5h0M372.5 141.5h0M387.5 149.5h0M415.5 128.5h0M366.5 156.5h0M400.5 156.5h0M388.5 162.5h0M408.5 170.5h0M413.5 146.5h0M429.5 123.5h0M414.5 128.5h0M383.5 132.5h0M395.5 156.5h0M451.5 128.5h0M425.5 111.5h0M391.5 128.5h0M431.5 120.5h0M378.5 105.5h0M419.5 101.5h0M378.5 156.5h0M410.5 139.5h0M437.5 97.5h0M433.5 127.5h0M392.5 114.5h0M403.5 137.5h0M400.5 120.5h0M390.5 103.5h0M392.5 110.5h0M390.5 140.5h0M423.5 121.5h0M393.5 132.5h0M435.5 156.5h0M426.5 156.5h0M420.5 97.5h0M439.5 103.5h0M384.5 132.5h0M407.5 163.5h0M417.5 99.5h0M373.5 98.5h0M383.5 148.5h0M403.5 100.5h0M431.5 166.5h0M431.5 131.5h0M409.5 140.5h0M435.5 138.5h0M368.5 139.5h0M405.5 136.5h0M456.5 118.5h0M388.5 104.5h0M376.5 102.5h0M375.5 134.5h0M443.5 114.5h0M406.5 120.5h0M445.5 152.5h0M436.5 129.5h0M443.5 158.5h0M365.5 158.5h0M427.5 168.5h0M441.5 117.5h0M385.5 108.5h0M407.5 133.5h0M428.5 134.5h0M450.5 97.5h0M400.5 127.5h0M434.5 164.5h0M441.5 116.5h0M412.5 141.5h0M438.5 115.5h0M418.5 120.5h0M405.5 89.5h0M391.5 153.5h0M378.5 112.5h0M446.5 126.5h0M407.5 95.5h0M444.5 117.5h0M416.5 114.5h0M384.5 109.5h0M371.5 116.5h0M431.5 158.5h0M422.5 118.5h0M417.5 136.5h0M425.5 140.5h0M374.5 145.5h0M420.5 120.5h0M422.5 136.5h0M418.5 100.5h0M400.5 153.5h0M450.5 163.5h0M451.5 143.5h0M450.5 116.5h0M434.5 101.5h0M413.5 133.5h0M371.5 110.5h0M401.5 106.5h0M424.5 111.5h0M378.5 129.5h0M389.5 133.5h0M438.5 169.5h0M411.5 112.5h0M373.5 140.5h0M423.5 92.5h0M410.5 142.5h0M368.5 150.5h0M437.5 101.5h0M419.5 126.5h0M394.5 149.5h0M383.5 162.5h0M440.5 149.5h0M411.5 155.5h0M425.5 139.5h0M417.5 163.5h0M380.5 163.5h0M426.5 100.5h0M417.5 117.5h0M399.5 112.5h0M395.5 94.5h0M390.5 121.5h0M437.5 105.5h0M425.5 100.5h0M381.5 145.5h0M385.5 118.5h0M432.5 129.5h0M433.5 122.5h0M439.5 104.5h0M400.5 169.5h0M400.5 104.5h0M437.5 150.5h0M383.5 165.5h0M441.5 87.5h0M411.5 83.5h0M387.5 100.5h0M427.5 156.5h0M407.5 156.5h0M439.5 139.5h0M434.5 147.5h0M412.5 124.5h0M406.5 153.5h0M376.5 136.5h0M417.5 141.5h0M448.5 127.5h0M385.5 130.5h0M428.5 157.5h0M419.5 95.5h0M433.5 143.5h0M374.5 117.5h0M408.5 161.5h0M413.5 157.5h0M440.5 141.5h0M432.5 144.5h0M444.5 147.5h0M377.5 131.5h0M386.5 139.5h0M385.5 150.5h0M421.5 112.5h0M451.5 135.5h0M373.5 175.5h0M409.5 156.5h0M384.5 118.5h0M437.5 100.5h0M358.5 156.5h0M453.5 109.5h0M389.5 156.5h0M416.5 154.5h0M396.5 137.5h0M376.5 168.5h0M431.5 138.5h0M442.5 96.5h0M376.5 151.5h0M435.5 146.5h0M426.5 114.5h0M394.5 135.5h0M408.5 130.5h0M385.5 120.5h0M391.5 126.5h0M390.5 112.5h0M400.5 139.5h0M459.5 124.5h0M385.5 139.5h0M445.5 107.5h0M376.5 140.5h0M434.5 120.5h0M401.5 141.5h0M377.5 119.5h0M416.5 127.5h0M402.5 138.5h0M393.5 161.5h0M455.5 147.5h0M388.5 146.5h0M369.5 116.5h0M389.5 93.5h0M433.5 125.5h0M444.5 134.5h0M392.5 112.5h0M422.5 169.5h0M442.5 137.5h0M430.5 132.5h0M421.5 113.5h0M389.5 99.5h0M393.5 111.5h0M409.5 163.5h0M393.5 107.5h0M427.5 133.5h0M403.5 114.5h0M408.5 154.5h0M417.5 105.5h0M416.5 182.5h0M389.5 141.5h0M381.5 108.5h0M408.5 131.5h0M441.5 94.5h0M384.5 128.5h0M407.5 126.5h0M395.5 144.5h0M436.5 147.5h0M452.5 150.5h0M379.5 163.5h0M431.5 98.5h0M426.5 130.5h0M438.5 136.5h0M431.5 137.5h0M415.5 107.5h0M417.5 101.5h0M426.5 153.5h0M418.5 109.5h0M410.5 104.5h0M446.5 127.5h0M419.5 155.5h0M399.5 133.5h0M415.5 96.5h0M424.5 159.5h0M383.5 149.5h0M386.5 151.5h0M402.5 104.5h0M431.5 164.5h0M413.5 171.5h0M383.5 104.5h0M437.5 102.5h0M418.5 114.5h0M402.5 109.5h0M420.5 149.5h0M419.5 162.5h0M382.5 140.5h0M390.5 104.5h0M381.5 105.5h0M415.5 138.5h0M456.5 134.5h0M424.5 121.5h0M451.5 132.5h0M442.5 153.5h0M374.5 100.5h0M419.5 109.5h0M391.5 141.5h0M412.5 143.5h0M435.5 158.5h0M401.5 172.5h0M434.5 138.5h0M380.5 142.5h0M425.5 161.5h0M395.5 162.5h0M384.5 162.5h0M392.5 103.5h0M428.5 114.5h0M404.5 117.5h0M392.5 123.5h0M428.5 103.5h0M406.5 119.5h0M445.5 112.5h0M368.5 123.5h0M456.5 108.5h0M384.5 136.5h0M440.5 89.5h0M412.5 156.5h0M429.5 107.5h0M437.5 109.5h0M389.5 98.5h0M426.5 142.5h0M373.5 169.5h0M379.5 115.5h0M387.5 130.5h0M381.5 163.5h0M402.5 127.5h0M400.5 119.5h0M429.5 144.5h0M385.5 111.5h0M365.5 134.5h0M422.5 158.5h0M414.5 145.5h0M411.5 145.5h0M364.5 165.5h0M406.5 157.5h0M450.5 98.5h0M394.5 137.5h0M436.5 136.5h0M384.5 116.5h0M439.5 158.5h0M369.5 138.5h0M428.5 135.5h0M420.5 88.5h0M366.5 125.5h0M378.5 126.5h0M407.5 106.5h0M409.5 109.5h0M374.5 154.5h0M406.5 147.5h0M456.5 103.5h0M394.5 171.5h0M419.5 174.5h0M377.5 108.5h0M387.5 137.5h0M400.5 101.5h0M432.5 147.5h0M413.5 132.5h0M379.5 97.5h0M410.5 119.5h0M378.5 142.5h0M443.5 120.5h0M403.5 103.5h0M398.5 124.5h0M415.5 152.5h0M445.5 121.5h0M373.5 124.5h0M444.5 161.5h0M408.5 104.5h0M384.5 147.5h0M433.5 112.5h0M399.5 101.5h0M389.5 177.5h0M452.5 135.5h0M442.5 93.5h0M396.5 111.5h0M432.5 156.5h0M406.5 158.5h0M418.5 95.5h0M403.5 157.5h0M453.5 89.5h0M383.5 160.5h0M387.5 156.5h0M447.5 153.5h0M456.5 132.5h0M417.5 153.5h0M418.5 121.5h0M424.5 163.5h0M409.5 104.5h0M430.5 131.5h0M418.5 147.5h0M382.5 133.5h0M439.5 145.5h0M440.5 103.5h0M411.5 94.5h0M448.5 95.5h0M409.5 157.5h0M427.5 112.5h0M371.5 108.5h0M422.5 123.5h0M378.5 130.5h0M394.5 174.5h0M444.5 133.5h0M402.5 148.5h0M381.5 155.5h0M412.5 102.5h0M425.5 126.5h0M463.5 143.5h0M402.5 95.5h0M418.5 110.5h0M397.5 101.5h0M442.5 121.5h0M398.5 158.5h0M399.5 165.5h0M368.5 165.5h0M444.5 85.5h0M440.5 117.5h0M379.5 151.5h0M396.5 145.5h0M382.5 112.5h0M380.5 162.5h0M422.5 147.5h0M418.5 151.5h0M448.5 108.5h0M382.5 144.5h0M417.5 138.5h0M437.5 151.5h0M373.5 131.5h0M441.5 103.5h0M378.5 141.5h0M421.5 102.5h0M439.5 156.5h0M456.5 167.5h0M405.5 103.5h0M436.5 116.5h0M380.5 119.5h0M394.5 142.5h0M424.5 90.5h0M399.5 91.5h0M375.5 153.5h0M395.5 138.5h0M393.5 103.5h0M415.5 159.5h0M391.5 109.5h0M419.5 130.5h0M380.5 131.5h0M409.5 127.5h0M432.5 128.5h0M399.5 113.5h0M436.5 154.5h0M429.5 157.5h0M377.5 129.5h0M398.5 165.5h0M381.5 131.5h0M382.5 114.5h0M453.5 151.5h0M427.5 102.5h0M392.5 150.5h0M387.5 165.5h0M382.5 102.5h0M434.5 158.5h0M435.5 81.5h0M426.5 93.5h0M372.5 142.5h0M391.5 95.5h0M425.5 107.5h0M392.5 126.5h0M414.5 108.5h0M389.5 154.5h0M427.5 152.5h0M419.5 153.5h0M436.5 122.5h0M419.5 98.5h0M433.5 98.5h0M421.5 135.5h0M407.5 93.5h0M437.5 95.5h0M385.5 147.5h0M374.5 109.5h0M417.5 129.5h0M380.5 134.5h0M442.5 115.5h0M428.5 121.5h0M397.5 142.5h0M428.5 129.5h0M426.5 129.5h0M428.5 149.5h0M431.5 105.5h0M444.5 99.5h0M409.5 113.5h0M432.5 160.5h0M378.5 139.5h0M420.5 126.5h0M438.5 119.5h0M401.5 123.5h0M418.5 111.5h0M417.5 146.5h0M375.5 104.5h0M405.5 114.5h0M384.5 163.5h0M414.5 113.5h0M388.5 147.5h0M380.5 105.5h0M454.5 163.5h0M404.5 128.5h0M457.5 119.5h0M389.5 106.5h0M395.5 165.5h0M398.5 174.5h0M432.5 104.5h0M412.5 162.5h0M396.5 132.5h0M404.5 145.5h0M434.5 116.5h0M376.5 159.5h0M423.5 119.5h0M456.5 101.5h0M456.5 171.5h0M363.5 119.5h0M362.5 122.5h0M441.5 126.5h0M395.5 179.5h0M361.5 157.5h0M349.5 160.5h0M375.5 172.5h0M409.5 173.5h0M438.5 133.5h0M455.5 137.5h0M403.5 139.5h0M406.5 100.5h0M418.5 149.5h0M442.5 108.5h0M381.5 129.5h0M436.5 138.5h0M406.5 90.5h0M378.5 101.5h0M412.5 153.5h0M392.5 132.5h0M387.5 134.5h0M377.5 125.5h0M450.5 158.5h0M383.5 97.5h0M405.5 117.5h0M426.5 96.5h0M381.5 176.5h0M422.5 141.5h0M413.5 93.5h0M424.5 96.5h0M448.5 131.5h0M412.5 163.5h0M383.5 121.5h0M406.5 114.5h0M412.5 147.5h0M447.5 104.5h0M407.5 157.5h0M373.5 111.5h0M391.5 140.5h0M426.5 165.5h0M412.5 148.5h0M401.5 170.5h0M440.5 135.5h0M418.5 146.5h0M433.5 155.5h0M443.5 136.5h0M425.5 162.5h0M376.5 111.5h0M417.5 132.5h0M431.5 129.5h0M410.5 124.5h0M433.5 137.5h0M447.5 113.5h0M426.5 107.5h0M401.5 124.5h0M375.5 139.5h0M413.5 117.5h0M428.5 156.5h0M426.5 99.5h0M423.5 88.5h0M401.5 122.5h0M424.5 166.5h0M441.5 153.5h0M386.5 102.5h0M462.5 140.5h0M445.5 114.5h0M417.5 113.5h0M432.5 149.5h0M395.5 142.5h0M433.5 147.5h0M416.5 118.5h0M435.5 140.5h0M382.5 126.5h0M408.5 138.5h0M444.5 124.5h0M423.5 133.5h0M435.5 155.5h0M414.5 96.5h0M384.5 139.5h0M383.5 157.5h0M419.5 144.5h0M434.5 168.5h0M383.5 102.5h0M399.5 145.5h0M389.5 175.5h0M450.5 109.5h0M444.5 95.5h0M388.5 141.5h0M394.5 118.5h0M425.5 157.5h0M445.5 102.5h0M406.5 98.5h0M451.5 123.5h0M414.5 105.5h0M394.5 156.5h0M404.5 121.5h0M443.5 106.5h0M418.5 157.5h0M368.5 126.5h0M397.5 117.5h0M431.5 104.5h0M445.5 98.5h0M388.5 103.5h0M422.5 105.5h0M411.5 104.5h0M421.5 167.5h0M422.5 124.5h0M429.5 108.5h0M386.5 128.5h0M386.5 160.5h0M423.5 140.5h0M421.5 139.5h0M391.5 151.5h0M383.5 112.5h0M447.5 155.5h0M362.5 127.5h0M410.5 106.5h0M406.5 155.5h0M423.5 157.5h0M367.5 158.5h0M435.5 128.5h0M428.5 147.5h0M431.5 99.5h0M402.5 151.5h0M397.5 155.5h0M433.5 119.5h0M414.5 104.5h0M433.5 141.5h0M385.5 133.5h0M448.5 90.5h0M421.5 103.5h0M450.5 99.5h0M413.5 101.5h0M407.5 114.5h0M458.5 120.5h0M418.5 108.5h0M427.5 107.5h0M403.5 152.5h0M408.5 128.5h0M423.5 123.5h0M407.5 123.5h0M372.5 147.5h0M381.5 156.5h0M412.5 151.5h0M430.5 115.5h0M418.5 91.5h0M430.5 158.5h0M376.5 138.5h0M384.5 138.5h0M401.5 114.5h0M411.5 147.5h0M381.5 99.5h0M408.5 97.5h0M434.5 141.5h0M391.5 100.5h0M422.5 150.5h0M436.5 149.5h0M397.5 93.5h0M414.5 111.5h0M437.5 125.5h0M436.5 167.5h0M402.5 126.5h0M402.5 120.5h0M443.5 87.5h0M381.5 143.5h0M425.5 145.5h0M410.5 110.5h0M432.5 159.5h0M424.5 156.5h0M423.5 120.5h0M417.5 125.5h0M415.5 160.5h0M436.5 112.5h0M390.5 155.5h0M425.5 108.5h0M370.5 167.5h0M435.5 163.5h0M397.5 123.5h0M399.5 110.5h0M434.5 137.5h0M379.5 124.5h0M364.5 163.5h0M447.5 147.5h0M458.5 136.5h0M446.5 145.5h0M428.5 166.5h0M400.5 140.5h0M453.5 132.5h0M381.5 124.5h0M451.5 138.5h0M422.5 101.5h0M379.5 144.5h0M428.5 108.5h0M453.5 114.5h0M431.5 114.5h0M455.5 97.5h0M427.5 115.5h0M401.5 181.5h0M429.5 151.5h0M412.5 112.5h0M424.5 150.5h0M426.5 115.5h0M418.5 159.5h0M408.5 135.5h0M443.5 96.5h0M397.5 163.5h0M411.5 110.5h0M378.5 94.5h0M412.5 108.5h0M395.5 154.5h0M402.5 161.5h0M373.5 135.5h0M446.5 155.5h0M388.5 154.5h0M381.5 165.5h0M381.5 115.5h0M458.5 104.5h0M412.5 114.5h0M395.5 143.5h0M396.5 146.5h0M442.5 155.5h0M434.5 135.5h0M441.5 106.5h0M361.5 100.5h0M429.5 120.5h0M395.5 100.5h0M381.5 126.5h0M405.5 141.5h0M403.5 105.5h0M421.5 147.5h0M408.5 171.5h0M416.5 102.5h0M406.5 145.5h0M397.5 140.5h0M392.5 157.5h0M393.5 165.5h0M413.5 102.5h0M438.5 100.5h0M416.5 104.5h0M443.5 98.5h0M390.5 127.5h0M426.5 152.5h0M363.5 163.5h0M376.5 94.5h0M399.5 168.5h0M392.5 160.5h0M376.5 144.5h0M420.5 112.5h0M450.5 131.5h0M464.5 128.5h0M435.5 131.5h0M445.5 175.5h0M396.5 170.5h0M423.5 117.5h0M421.5 163.5h0M437.5 157.5h0M377.5 102.5h0M395.5 147.5h0M371.5 156.5h0M452.5 160.5h0M432.5 105.5h0M434.5 103.5h0M436.5 153.5h0M403.5 110.5h0M406.5 137.5h0M402.5 150.5h0M383.5 134.5h0M413.5 116.5h0M435.5 116.5h0M410.5 105.5h0M450.5 105.5h0M404.5 124.5h0M391.5 172.5h0M446.5 140.5h0M409.5 167.5h0M415.5 146.5h0M442.5 128.5h0M409.5 124.5h0M450.5 135.5h0M421.5 166.5h0M408.5 123.5h0M403.5 156.5h0M401.5 96.5h0M416.5 99.5h0M402.5 108.5h0M387.5 140.5h0M367.5 125.5h0M391.5 99.5h0M431.5 145.5h0M399.5 132.5h0M443.5 154.5h0M374.5 161.5h0M403.5 126.5h0M425.5 105.5h0M397.5 114.5h0M425.5 135.5h0M427.5 117.5h0M409.5 106.5h0M432.5 166.5h0M429.5 143.5h0M397.5 107.5h0M432.5 86.5h0M384.5 108.5h0M384.5 153.5h0M370.5 170.5h0M393.5 130.5h0M411.5 170.5h0M430.5 126.5h0M384.5 161.5h0M418.5 163.5h0M400.5 137.5h0M390.5 147.5h0M413.5 168.5h0M418.5 116.5h0M383.5 114.5h0M450.5 128.5h0M430.5 160.5h0M372.5 143.5h0M372.5 149.5h0M388.5 101.5h0M408.5 92.5h0M418.5 166.5h0M458.5 158.5h0M398.5 133.5h0M400.5 121.5h0M423.5 95.5h0M410.5 153.5h0M404.5 165.5h0M411.5 151.5h0M378.5 150.5h0M410.5 157.5h0M389.5 161.5h0M412.5 110.5h0M456.5 92.5h0M423.5 114.5h0M404.5 137.5h0M445.5 150.5h0M447.5 123.5h0M394.5 143.5h0M398.5 101.5h0M449.5 112.5h0M373.5 121.5h0M432.5 146.5h0M428.5 92.5h0M414.5 165.5h0M453.5 155.5h0M386.5 173.5h0M396.5 106.5h0M448.5 161.5h0M434.5 105.5h0M421.5 133.5h0M403.5 129.5h0M442.5 163.5h0M418.5 138.5h0M393.5 112.5h0M439.5 97.5h0M442.5 148.5h0M396.5 144.5h0M415.5 118.5h0M410.5 155.5h0M392.5 93.5h0M394.5 147.5h0M405.5 138.5h0M423.5 164.5h0M390.5 167.5h0M442.5 151.5h0M401.5 137.5h0M441.5 165.5h0M365.5 131.5h0M423.5 104.5h0M438.5 141.5h0M369.5 131.5h0M441.5 115.5h0M379.5 107.5h0M430.5 93.5h0M432.5 124.5h0M381.5 142.5h0M424.5 123.5h0M408.5 109.5h0M423.5 101.5h0M371.5 104.5h0M369.5 108.5h0M437.5 89.5h0M369.5 175.5h0M437.5 141.5h0M426.5 157.5h0M418.5 169.5h0M397.5 105.5h0M443.5 99.5h0M364.5 126.5h0M427.5 106.5h0M451.5 118.5h0M383.5 123.5h0M398.5 146.5h0M389.5 131.5h0M380.5 132.5h0M403.5 97.5h0M387.5 162.5h0M405.5 151.5h0M418.5 128.5h0M386.5 123.5h0M406.5 88.5h0M419.5 151.5h0M405.5 112.5h0M437.5 159.5h0M440.5 148.5h0M385.5 164.5h0M414.5 123.5h0M427.5 135.5h0M421.5 106.5h0M388.5 123.5h0M408.5 119.5h0M370.5 153.5h0M433.5 102.5h0M384.5 124.5h0M424.5 104.5h0M438.5 144.5h0M430.5 145.5h0M415.5 173.5h0M395.5 136.5h0M382.5 105.5h0M426.5 120.5h0M378.5 107.5h0M382.5 122.5h0M380.5 151.5h0M400.5 173.5h0M397.5 97.5h0M390.5 117.5h0M401.5 133.5h0M414.5 97.5h0M360.5 104.5h0M394.5 146.5h0M410.5 108.5h0M413.5 127.5h0M383.5 150.5h0M449.5 102.5h0M437.5 160.5h0M392.5 137.5h0M367.5 87.5h0M381.5 147.5h0M377.5 107.5h0M443.5 171.5h0M433.5 96.5h0M459.5 106.5h0M410.5 140.5h0M432.5 170.5h0M439.5 135.5h0M421.5 122.5h0M386.5 120.5h0M403.5 124.5h0M375.5 167.5h0M389.5 119.5h0M390.5 132.5h0M368.5 147.5h0M425.5 136.5h0M447.5 98.5h0M434.5 156.5h0M442.5 134.5h0M398.5 107.5h0M454.5 169.5h0M451.5 161.5h0M425.5 137.5h0M397.5 121.5h0M414.5 148.5h0M390.5 133.5h0M422.5 121.5h0M409.5 103.5h0M364.5 135.5h0M415.5 148.5h0M420.5 111.5h0M363.5 143.5h0M439.5 123.5h0M400.5 155.5h0M404.5 177.5h0M394.5 132.5h0M432.5 126.5h0M382.5 149.5h0M403.5 134.5h0M395.5 159.5h0M376.5 161.5h0M442.5 109.5h0M398.5 134.5h0M398.5 126.5h0M391.5 144.5h0M467.5 103.5h0M379.5 137.5h0M403.5 133.5h0M410.5 126.5h0M409.5 135.5h0M449.5 159.5h0M413.5 125.5h0M377.5 112.5h0M411.5 188.5h0M415.5 141.5h0M411.5 128.5h0M430.5 139.5h0M392.5 159.5h0M384.5 154.5h0M414.5 107.5h0M425.5 143.5h0M453.5 142.5h0M416.5 119.5h0M421.5 116.5h0M434.5 143.5h0M422.5 112.5h0M384.5 152.5h0M452.5 141.5h0M444.5 166.5h0M457.5 94.5h0M439.5 134.5h0M438.5 151.5h0M422.5 144.5h0M450.5 133.5h0M388.5 131.5h0M406.5 162.5h0M406.5 134.5h0M400.5 143.5h0M420.5 134.5h0M450.5 123.5h0M402.5 129.5h0M382.5 136.5h0M410.5 133.5h0M364.5 151.5h0M379.5 138.5h0M425.5 125.5h0M372.5 118.5h0M433.5 134.5h0M429.5 148.5h0M420.5 105.5h0M383.5 159.5h0M438.5 128.5h0M414.5 134.5h0M424.5 142.5h0M396.5 134.5h0M395.5 117.5h0M360.5 159.5h0M389.5 140.5h0M389.5 143.5h0M397.5 122.5h0M415.5 132.5h0M450.5 119.5h0M419.5 179.5h0M430.5 117.5h0M397.5 141.5h0M420.5 132.5h0M409.5 119.5h0M426.5 132.5h0M391.5 132.5h0M399.5 129.5h0M424.5 138.5h0M417.5 143.5h0M403.5 128.5h0M404.5 123.5h0M429.5 141.5h0M379.5 113.5h0M400.5 134.5h0M417.5 140.5h0M398.5 136.5h0M423.5 163.5h0M447.5 124.5h0M439.5 125.5h0M410.5 114.5h0M424.5 126.5h0M437.5 135.5h0M390.5 166.5h0M419.5 108.5h0M448.5 141.5h0M383.5 105.5h0M418.5 145.5h0M424.5 140.5h0M431.5 136.5h0M398.5 123.5h0M410.5 150.5h0M415.5 144.5h0M404.5 153.5h0M402.5 119.5h0M383.5 120.5h0M390.5 135.5h0M397.5 151.5h0M460.5 152.5h0M441.5 131.5h0M384.5 125.5h0M402.5 141.5h0M437.5 127.5h0M394.5 141.5h0M404.5 132.5h0M376.5 166.5h0M411.5 129.5h0M376.5 133.5h0M423.5 169.5h0M419.5 143.5h0M390.5 150.5h0M411.5 148.5h0M407.5 122.5h0M390.5 128.5h0M403.5 94.5h0M366.5 139.5h0M437.5 107.5h0M439.5 107.5h0M433.5 91.5h0M366.5 120.5h0M401.5 146.5h0M451.5 127.5h0M375.5 145.5h0M423.5 111.5h0M421.5 137.5h0M429.5 139.5h0M418.5 153.5h0M416.5 135.5h0M401.5 150.5h0M406.5 106.5h0M373.5 188.5h0M409.5 143.5h0M386.5 126.5h0M414.5 177.5h0M398.5 119.5h0M411.5 134.5h0M360.5 130.5h0M391.5 156.5h0M425.5 106.5h0M409.5 133.5h0M408.5 146.5h0M370.5 146.5h0M430.5 143.5h0M405.5 129.5h0M433.5 133.5h0M383.5 131.5h0M409.5 158.5h0M360.5 142.5h0M423.5 139.5h0M397.5 132.5h0M395.5 141.5h0M403.5 130.5h0M388.5 129.5h0M390.5 131.5h0M414.5 157.5h0M458.5 157.5h0M451.5 111.5h0M411.5 103.5h0M428.5 160.5h0M473.5 144.5h0M428.5 128.5h0M389.5 148.5h0M383.5 124.5h0M396.5 117.5h0M410.5 117.5h0M414.5 114.5h0M431.5 139.5h0M398.5 147.5h0M405.5 169.5h0M387.5 154.5h0M432.5 125.5h0M422.5 114.5h0M442.5 145.5h0M451.5 112.5h0M382.5 139.5h0M413.5 105.5h0M421.5 149.5h0M425.5 129.5h0M390.5 122.5h0M375.5 111.5h0M424.5 83.5h0M408.5 102.5h0M419.5 127.5h0M466.5 98.5h0M389.5 146.5h0M413.5 143.5h0M377.5 142.5h0M396.5 133.5h0M373.5 105.5h0M418.5 139.5h0M398.5 152.5h0M374.5 135.5h0M377.5 162.5h0M392.5 105.5h0M384.5 150.5h0M406.5 97.5h0M382.5 110.5h0M404.5 127.5h0M406.5 101.5h0M440.5 108.5h0M445.5 148.5h0M413.5 88.5h0M395.5 119.5h0M386.5 157.5h0M405.5 152.5h0M449.5 115.5h0M442.5 124.5h0M402.5 107.5h0M419.5 120.5h0M374.5 115.5h0M400.5 129.5h0M446.5 133.5h0M381.5 151.5h0M409.5 148.5h0M418.5 132.5h0M412.5 120.5h0M390.5 120.5h0M389.5 103.5h0M411.5 116.5h0M405.5 134.5h0M414.5 127.5h0M394.5 121.5h0M413.5 111.5h0M415.5 143.5h0M412.5 103.5h0M423.5 131.5h0M416.5 131.5h0M375.5 154.5h0M387.5 152.5h0M388.5 140.5h0M380.5 117.5h0M382.5 155.5h0M398.5 117.5h0M452.5 145.5h0M441.5 114.5h0M450.5 103.5h0M390.5 146.5h0M426.5 109.5h0M412.5 142.5h0M418.5 122.5h0M409.5 174.5h0M418.5 141.5h0M439.5 117.5h0M416.5 151.5h0M432.5 134.5h0M401.5 136.5h0M436.5 127.5h0M381.5 113.5h0M385.5 119.5h0M407.5 147.5h0M426.5 127.5h0M403.5 131.5h0M376.5 150.5h0M412.5 157.5h0M393.5 122.5h0M416.5 134.5h0M430.5 120.5h0M426.5 143.5h0M418.5 130.5h0M441.5 97.5h0M460.5 137.5h0M421.5 150.5h0M393.5 128.5h0M375.5 119.5h0M364.5 150.5h0M396.5 177.5h0M451.5 148.5h0M427.5 134.5h0M397.5 172.5h0M412.5 145.5h0M445.5 139.5h0M380.5 152.5h0M391.5 133.5h0M400.5 138.5h0M424.5 131.5h0M434.5 146.5h0M414.5 136.5h0M448.5 144.5h0M415.5 130.5h0M421.5 136.5h0M383.5 135.5h0M393.5 146.5h0M371.5 127.5h0M387.5 147.5h0M391.5 159.5h0M411.5 146.5h0M424.5 115.5h0M431.5 161.5h0M432.5 101.5h0M388.5 137.5h0M422.5 88.5h0M419.5 100.5h0M470.5 157.5h0M420.5 139.5h0M423.5 167.5h0M406.5 142.5h0M416.5 150.5h0M388.5 151.5h0M398.5 96.5h0M411.5 121.5h0M415.5 103.5h0M391.5 130.5h0M375.5 152.5h0M383.5 156.5h0M427.5 127.5h0M449.5 173.5h0M383.5 137.5h0M419.5 86.5h0M394.5 105.5h0M409.5 123.5h0M453.5 127.5h0M428.5 117.5h0M392.5 118.5h0M402.5 117.5h0M438.5 124.5h0M416.5 133.5h0M422.5 164.5h0M415.5 124.5h0M420.5 138.5h0M407.5 142.5h0M418.5 140.5h0M419.5 115.5h0M426.5 188.5h0M395.5 133.5h0M443.5 126.5h0M409.5 154.5h0M393.5 109.5h0M370.5 128.5h0M423.5 116.5h0M457.5 148.5h0M396.5 135.5h0M440.5 118.5h0M455.5 123.5h0M384.5 111.5h0M403.5 147.5h0M410.5 151.5h0M391.5 105.5h0M458.5 109.5h0M435.5 141.5h0M373.5 115.5h0M391.5 136.5h0M415.5 156.5h0M427.5 142.5h0M419.5 138.5h0M452.5 155.5h0M455.5 124.5h0M407.5 100.5h0M430.5 129.5h0M465.5 144.5h0M437.5 154.5h0M386.5 132.5h0M462.5 131.5h0M426.5 137.5h0M395.5 157.5h0M446.5 128.5h0M411.5 152.5h0M410.5 132.5h0M406.5 123.5h0M386.5 144.5h0M402.5 146.5h0M442.5 119.5h0M375.5 100.5h0M405.5 162.5h0M453.5 145.5h0M420.5 129.5h0M431.5 133.5h0M410.5 147.5h0M383.5 125.5h0M464.5 166.5h0M403.5 161.5h0M421.5 157.5h0M414.5 118.5h0M429.5 126.5h0M448.5 148.5h0M429.5 145.5h0M393.5 121.5h0M456.5 130.5h0M409.5 139.5h0M418.5 127.5h0M424.5 147.5h0M427.5 139.5h0M395.5 116.5h0M397.5 127.5h0M379.5 96.5h0M424.5 152.5h0M440.5 120.5h0M407.5 132.5h0M391.5 146.5h0M431.5 122.5h0M423.5 137.5h0M397.5 118.5h0M438.5 121.5h0M380.5 140.5h0M414.5 161.5h0M470.5 134.5h0M414.5 131.5h0M374.5 123.5h0M404.5 144.5h0M411.5 141.5h0M409.5 107.5h0M378.5 147.5h0M419.5 111.5h0M364.5 152.5h0M370.5 147.5h0M398.5 161.5h0M432.5 130.5h0M399.5 107.5h0M429.5 129.5h0M437.5 118.5h0M371.5 135.5h0M449.5 157.5h0M430.5 146.5h0M401.5 119.5h0M398.5 160.5h0M421.5 123.5h0M394.5 131.5h0M405.5 161.5h0M414.5 169.5h0M405.5 131.5h0M415.5 139.5h0M437.5 129.5h0M405.5 122.5h0M360.5 132.5h0M375.5 78.5h0M428.5 95.5h0M410.5 98.5h0M369.5 166.5h0M418.5 126.5h0M412.5 167.5h0M397.5 168.5h0M397.5 120.5h0M419.5 125.5h0M451.5 126.5h0M462.5 135.5h0M416.5 158.5h0M423.5 124.5h0M415.5 137.5h0M367.5 151.5h0M407.5 136.5h0M396.5 123.5h0M396.5 128.5h0M395.5 134.5h0M408.5 107.5h0M423.5 160.5h0M372.5 125.5h0M378.5 136.5h0M406.5 144.5h0M401.5 156.5h0M422.5 127.5h0M411.5 124.5h0M451.5 140.5h0M429.5 111.5h0M397.5 129.5h0M473.5 119.5h0M449.5 130.5h0M443.5 94.5h0M439.5 126.5h0M424.5 149.5h0M411.5 114.5h0M419.5 123.5h0M407.5 168.5h0M446.5 163.5h0M417.5 119.5h0M395.5 139.5h0M394.5 119.5h0M362.5 138.5h0M360.5 144.5h0M391.5 121.5h0M449.5 145.5h0M396.5 139.5h0M433.5 164.5h0M436.5 132.5h0M412.5 136.5h0M454.5 143.5h0M429.5 114.5h0M397.5 153.5h0M417.5 149.5h0M415.5 153.5h0M400.5 147.5h0M406.5 148.5h0M411.5 144.5h0M408.5 145.5h0M430.5 130.5h0M425.5 134.5h0M434.5 160.5h0M378.5 148.5h0M413.5 136.5h0M407.5 134.5h0M451.5 130.5h0M372.5 171.5h0M412.5 138.5h0M404.5 143.5h0M446.5 135.5h0M415.5 140.5h0M391.5 102.5h0M431.5 155.5h0M448.5 132.5h0M430.5 142.5h0M411.5 137.5h0M408.5 118.5h0M463.5 148.5h0M413.5 131.5h0M391.5 139.5h0M390.5 144.5h0M395.5 160.5h0M416.5 137.5h0M398.5 135.5h0M397.5 130.5h0M367.5 139.5h0M440.5 122.5h0M405.5 133.5h0M420.5 135.5h0M400.5 122.5h0M402.5 173.5h0M429.5 142.5h0M402.5 139.5h0M354.5 139.5h0M408.5 129.5h0M388.5 128.5h0M428.5 130.5h0M384.5 169.5h0M401.5 139.5h0M395.5 146.5h0M403.5 115.5h0M409.5 122.5h0M384.5 149.5h0M469.5 120.5h0M445.5 129.5h0M372.5 136.5h0M433.5 145.5h0M389.5 136.5h0M399.5 128.5h0M364.5 146.5h0M417.5 118.5h0M424.5 145.5h0M412.5 135.5h0M410.5 152.5h0M410.5 128.5h0M373.5 147.5h0M380.5 109.5h0M387.5 129.5h0M360.5 133.5h0M452.5 113.5h0M380.5 126.5h0M414.5 149.5h0M405.5 148.5h0M467.5 125.5h0M431.5 150.5h0M444.5 128.5h0M402.5 145.5h0M433.5 138.5h0M470.5 136.5h0M427.5 146.5h0M394.5 115.5h0M378.5 167.5h0M426.5 125.5h0M453.5 140.5h0M402.5 98.5h0M420.5 168.5h0M424.5 139.5h0M427.5 118.5h0M385.5 161.5h0M445.5 146.5h0M402.5 143.5h0M458.5 142.5h0M395.5 187.5h0M409.5 118.5h0M469.5 135.5h0M403.5 155.5h0M404.5 130.5h0M413.5 129.5h0M396.5 125.5h0M400.5 148.5h0M388.5 116.5h0M420.5 156.5h0M401.5 151.5h0M426.5 162.5h0M429.5 130.5h0M411.5 161.5h0M427.5 138.5h0M425.5 142.5h0M394.5 120.5h0M468.5 106.5h0M376.5 109.5h0M420.5 128.5h0M363.5 127.5h0M413.5 147.5h0M393.5 159.5h0M391.5 138.5h0M425.5 154.5h0M429.5 122.5h0M441.5 161.5h0M430.5 173.5h0M426.5 136.5h0M384.5 113.5h0M373.5 129.5h0M416.5 124.5h0M408.5 113.5h0M401.5 111.5h0M411.5 125.5h0M377.5 146.5h0M436.5 117.5h0M378.5 123.5h0M393.5 78.5h0M417.5 116.5h0M417.5 150.5h0M429.5 149.5h0M354.5 137.5h0M406.5 141.5h0M397.5 126.5h0M377.5 177.5h0M397.5 134.5h0M435.5 122.5h0M427.5 116.5h0M423.5 152.5h0M420.5 146.5h0M404.5 150.5h0M445.5 134.5h0M423.5 142.5h0M412.5 123.5h0M430.5 138.5h0M436.5 157.5h0M426.5 154.5h0M428.5 127.5h0M426.5 105.5h0M387.5 116.5h0M401.5 144.5h0M430.5 103.5h0M400.5 110.5h0M397.5 138.5h0M379.5 153.5h0M439.5 147.5h0M373.5 127.5h0M410.5 137.5h0M376.5 175.5h0M420.5 144.5h0M450.5 156.5h0M398.5 118.5h0M401.5 118.5h0M417.5 158.5h0M438.5 118.5h0M421.5 132.5h0M401.5 158.5h0M389.5 167.5h0M452.5 127.5h0M416.5 138.5h0M412.5 137.5h0M406.5 132.5h0M387.5 157.5h0M417.5 159.5h0M423.5 138.5h0M420.5 180.5h0M424.5 135.5h0M407.5 130.5h0M418.5 105.5h0M412.5 144.5h0M360.5 145.5h0M391.5 129.5h0M414.5 140.5h0M421.5 117.5h0M365.5 152.5h0M400.5 161.5h0M402.5 125.5h0M431.5 146.5h0M369.5 123.5h0M401.5 129.5h0M408.5 144.5h0M384.5 142.5h0M434.5 111.5h0M420.5 137.5h0M423.5 125.5h0M435.5 106.5h0M423.5 136.5h0M403.5 163.5h0M382.5 178.5h0M412.5 98.5h0M395.5 126.5h0M412.5 140.5h0M429.5 168.5h0M434.5 129.5h0M437.5 83.5h0M372.5 150.5h0M443.5 155.5h0M401.5 148.5h0M374.5 130.5h0M420.5 125.5h0M417.5 128.5h0M427.5 163.5h0M388.5 168.5h0M429.5 135.5h0M403.5 159.5h0M392.5 144.5h0M424.5 151.5h0M449.5 135.5h0M385.5 137.5h0M430.5 114.5h0M402.5 168.5h0M379.5 159.5h0M404.5 136.5h0M404.5 176.5h0M394.5 167.5h0M436.5 133.5h0M394.5 96.5h0M400.5 125.5h0M460.5 131.5h0M406.5 116.5h0M428.5 123.5h0M441.5 127.5h0M411.5 68.5h0M409.5 142.5h0M435.5 126.5h0M382.5 119.5h0M394.5 128.5h0M376.5 123.5h0M438.5 150.5h0M376.5 146.5h0M408.5 172.5h0M437.5 134.5h0M396.5 131.5h0M408.5 140.5h0M437.5 122.5h0M457.5 111.5h0M411.5 118.5h0M437.5 140.5h0M426.5 123.5h0M446.5 139.5h0M465.5 111.5h0M415.5 116.5h0M381.5 150.5h0M387.5 122.5h0M425.5 166.5h0M404.5 126.5h0M423.5 143.5h0M433.5 149.5h0M355.5 155.5h0M369.5 141.5h0M421.5 148.5h0M411.5 174.5h0M391.5 137.5h0M412.5 149.5h0M375.5 123.5h0M446.5 143.5h0M357.5 164.5h0M476.5 153.5h0M404.5 140.5h0M417.5 139.5h0M385.5 154.5h0M385.5 110.5h0M443.5 162.5h0M453.5 135.5h0M404.5 107.5h0M426.5 86.5h0M425.5 130.5h0M457.5 83.5h0M453.5 138.5h0M399.5 103.5h0M353.5 174.5h0M441.5 138.5h0M432.5 123.5h0M419.5 142.5h0M410.5 125.5h0M381.5 132.5h0M407.5 145.5h0M420.5 93.5h0M406.5 87.5h0M427.5 165.5h0M414.5 124.5h0M409.5 138.5h0M402.5 144.5h0M388.5 138.5h0M387.5 125.5h0M354.5 115.5h0M426.5 122.5h0M419.5 124.5h0M403.5 120.5h0M419.5 121.5h0M413.5 186.5h0M391.5 83.5h0M417.5 122.5h0M405.5 127.5h0M398.5 114.5h0M414.5 154.5h0M435.5 160.5h0M376.5 131.5h0M417.5 134.5h0M411.5 153.5h0M386.5 121.5h0M423.5 127.5h0M401.5 121.5h0M456.5 138.5h0M430.5 159.5h0M421.5 108.5h0M389.5 171.5h0M427.5 155.5h0M408.5 124.5h0M379.5 156.5h0M410.5 138.5h0M414.5 126.5h0M415.5 131.5h0M422.5 137.5h0M407.5 162.5h0M403.5 146.5h0M416.5 145.5h0M369.5 130.5h0M402.5 113.5h0M442.5 139.5h0M382.5 160.5h0M392.5 140.5h0M413.5 118.5h0M400.5 116.5h0M404.5 125.5h0M465.5 129.5h0M407.5 154.5h0M432.5 139.5h0M450.5 139.5h0M362.5 132.5h0M388.5 164.5h0M371.5 187.5h0M419.5 141.5h0M375.5 143.5h0M380.5 138.5h0M376.5 160.5h0M367.5 162.5h0M424.5 137.5h0M368.5 144.5h0M377.5 176.5h0M408.5 153.5h0M382.5 127.5h0M424.5 133.5h0M399.5 164.5h0M406.5 140.5h0M386.5 137.5h0M369.5 128.5h0M388.5 145.5h0M389.5 132.5h0M430.5 170.5h0M391.5 91.5h0M398.5 173.5h0M376.5 149.5h0M409.5 155.5h0M454.5 133.5h0M433.5 136.5h0M443.5 135.5h0M382.5 163.5h0M429.5 124.5h0M417.5 121.5h0M438.5 152.5h0M434.5 171.5h0M405.5 142.5h0M418.5 173.5h0M426.5 121.5h0M399.5 148.5h0M445.5 110.5h0M443.5 124.5h0M437.5 153.5h0M446.5 99.5h0M415.5 167.5h0M447.5 122.5h0M386.5 115.5h0M367.5 152.5h0M392.5 117.5h0M370.5 115.5h0M361.5 116.5h0M356.5 139.5h0M362.5 154.5h0M374.5 136.5h0M360.5 120.5h0M357.5 119.5h0M366.5 123.5h0M356.5 130.5h0M378.5 128.5h0M347.5 130.5h0M363.5 130.5h0M360.5 124.5h0M358.5 133.5h0M361.5 128.5h0M384.5 102.5h0M354.5 146.5h0M361.5 108.5h0M366.5 108.5h0M368.5 134.5h0M361.5 130.5h0M358.5 179.5h0M381.5 146.5h0M392.5 129.5h0M361.5 142.5h0M369.5 134.5h0M369.5 119.5h0M358.5 135.5h0M372.5 159.5h0M377.5 154.5h0M368.5 125.5h0M360.5 131.5h0M359.5 78.5h0M355.5 127.5h0M356.5 123.5h0M374.5 129.5h0M365.5 160.5h0M360.5 121.5h0M355.5 104.5h0M372.5 102.5h0M355.5 144.5h0M367.5 148.5h0M364.5 130.5h0M368.5 138.5h0M358.5 125.5h0M357.5 157.5h0M367.5 159.5h0M364.5 127.5h0M357.5 139.5h0M383.5 171.5h0M368.5 133.5h0M364.5 131.5h0M364.5 132.5h0M375.5 127.5h0M358.5 130.5h0M363.5 152.5h0M353.5 121.5h0M363.5 117.5h0M376.5 107.5h0M379.5 95.5h0M372.5 154.5h0M371.5 161.5h0M376.5 122.5h0M384.5 90.5h0M360.5 171.5h0M360.5 128.5h0M370.5 118.5h0M350.5 153.5h0M361.5 144.5h0M365.5 136.5h0M372.5 138.5h0M353.5 173.5h0M366.5 126.5h0M378.5 157.5h0M376.5 143.5h0M368.5 148.5h0M370.5 158.5h0M349.5 147.5h0M351.5 105.5h0M363.5 136.5h0M358.5 106.5h0M356.5 151.5h0M358.5 85.5h0M366.5 94.5h0M344.5 182.5h0M355.5 136.5h0M353.5 132.5h0M371.5 118.5h0M367.5 102.5h0M374.5 178.5h0M352.5 150.5h0M362.5 111.5h0M347.5 159.5h0M389.5 127.5h0M383.5 122.5h0M367.5 136.5h0M357.5 126.5h0M374.5 176.5h0M381.5 162.5h0M367.5 153.5h0M367.5 124.5h0M375.5 188.5h0M358.5 129.5h0M353.5 112.5h0M365.5 133.5h0M363.5 134.5h0M374.5 112.5h0M386.5 119.5h0M362.5 180.5h0M362.5 117.5h0M349.5 94.5h0M359.5 135.5h0M353.5 148.5h0M364.5 109.5h0M367.5 116.5h0M369.5 162.5h0M373.5 133.5h0M352.5 134.5h0M368.5 152.5h0M368.5 132.5h0M358.5 118.5h0M377.5 116.5h0M368.5 127.5h0M358.5 108.5h0M366.5 124.5h0M377.5 133.5h0M384.5 158.5h0M357.5 162.5h0M371.5 150.5h0M364.5 128.5h0M345.5 103.5h0M368.5 167.5h0M388.5 167.5h0M387.5 135.5h0M359.5 152.5h0M370.5 111.5h0M361.5 122.5h0M371.5 155.5h0M364.5 141.5h0M379.5 136.5h0M361.5 137.5h0M369.5 120.5h0M379.5 146.5h0M364.5 166.5h0M352.5 160.5h0M373.5 163.5h0M358.5 153.5h0M365.5 156.5h0M374.5 128.5h0M350.5 135.5h0M367.5 146.5h0M385.5 131.5h0M371.5 103.5h0M352.5 103.5h0M362.5 162.5h0M370.5 109.5h0M388.5 98.5h0M365.5 146.5h0M370.5 96.5h0M367.5 123.5h0M368.5 119.5h0M363.5 128.5h0M354.5 135.5h0M362.5 87.5h0M361.5 148.5h0M355.5 111.5h0M360.5 110.5h0M375.5 136.5h0M367.5 126.5h0M375.5 126.5h0M371.5 120.5h0M360.5 129.5h0M363.5 141.5h0M359.5 134.5h0M371.5 167.5h0M368.5 149.5h0M386.5 106.5h0M349.5 97.5h0M370.5 122.5h0M386.5 117.5h0M366.5 171.5h0M359.5 85.5h0M355.5 145.5h0M352.5 135.5h0M362.5 158.5h0M368.5 154.5h0M372.5 111.5h0M366.5 147.5h0M359.5 132.5h0M384.5 155.5h0M369.5 152.5h0M361.5 135.5h0M358.5 134.5h0M372.5 130.5h0M362.5 150.5h0M360.5 136.5h0M362.5 161.5h0M370.5 145.5h0M370.5 126.5h0M367.5 182.5h0M363.5 139.5h0M356.5 129.5h0M362.5 109.5h0M356.5 99.5h0M349.5 99.5h0M371.5 148.5h0M367.5 110.5h0M358.5 120.5h0M372.5 158.5h0M344.5 116.5h0M375.5 120.5h0M365.5 125.5h0M366.5 179.5h0M379.5 127.5h0M352.5 86.5h0M354.5 150.5h0M344.5 172.5h0M356.5 117.5h0M357.5 128.5h0M369.5 184.5h0M379.5 119.5h0M358.5 150.5h0M365.5 139.5h0M370.5 159.5h0M356.5 134.5h0M355.5 130.5h0M371.5 134.5h0M352.5 128.5h0M380.5 106.5h0M361.5 138.5h0M362.5 114.5h0M366.5 135.5h0M357.5 90.5h0M327.5 154.5h0M361.5 143.5h0M364.5 106.5h0M346.5 72.5h0M365.5 127.5h0M372.5 132.5h0M388.5 120.5h0M357.5 120.5h0M362.5 149.5h0M363.5 131.5h0M365.5 97.5h0M379.5 135.5h0M368.5 129.5h0M363.5 155.5h0M372.5 146.5h0M365.5 140.5h0" stroke="#1a1a1a" stroke-width="1.3" stroke-linecap="round" fill="none"/>
<rect x="318.5" y="23.0" width="170.3" height="166.9" fill="none" stroke="#111" stroke-width="1.5"/>
<path d="M318.5 189.9v4.2M318.5 189.5h-4.2M331.5 189.9v2.2M318.5 177.5h-2.2M338.5 189.9v2.2M318.5 169.5h-2.2M344.5 189.9v2.2M318.5 164.5h-2.2M348.5 189.9v2.2M318.5 160.5h-2.2M351.5 189.9v2.2M318.5 157.5h-2.2M354.5 189.9v2.2M318.5 154.5h-2.2M356.5 189.9v2.2M318.5 152.5h-2.2M359.5 189.9v2.2M318.5 150.5h-2.2M361.5 189.9v4.2M318.5 148.5h-4.2M373.5 189.9v2.2M318.5 135.5h-2.2M381.5 189.9v2.2M318.5 128.5h-2.2M386.5 189.9v2.2M318.5 123.5h-2.2M390.5 189.9v2.2M318.5 119.5h-2.2M394.5 189.9v2.2M318.5 115.5h-2.2M397.5 189.9v2.2M318.5 112.5h-2.2M399.5 189.9v2.2M318.5 110.5h-2.2M401.5 189.9v2.2M318.5 108.5h-2.2M403.5 189.9v4.2M318.5 106.5h-4.2M416.5 189.9v2.2M318.5 93.5h-2.2M423.5 189.9v2.2M318.5 86.5h-2.2M429.5 189.9v2.2M318.5 81.5h-2.2M433.5 189.9v2.2M318.5 77.5h-2.2M436.5 189.9v2.2M318.5 73.5h-2.2M439.5 189.9v2.2M318.5 71.5h-2.2M442.5 189.9v2.2M318.5 68.5h-2.2M444.5 189.9v2.2M318.5 66.5h-2.2M446.5 189.9v4.2M318.5 64.5h-4.2M459.5 189.9v2.2M318.5 52.5h-2.2M466.5 189.9v2.2M318.5 44.5h-2.2M471.5 189.9v2.2M318.5 39.5h-2.2M475.5 189.9v2.2M318.5 35.5h-2.2M479.5 189.9v2.2M318.5 32.5h-2.2M482.5 189.9v2.2M318.5 29.5h-2.2M484.5 189.9v2.2M318.5 27.5h-2.2M486.5 189.9v2.2M318.5 24.5h-2.2M488.8 189.9v4.2M318.5 23.0h-4.2" stroke="#111" stroke-width="1.25" fill="none"/>
<line x1="368.7" y1="23.0" x2="368.7" y2="189.9" stroke="#111" stroke-width="1.5"/>
<line x1="318.5" y1="137.7" x2="488.8" y2="137.7" stroke="#111" stroke-width="1.5"/>
<rect x="372" y="67.4" width="35.89999999999998" height="66.5" fill="none" stroke="#111" stroke-width="1.5"/>
<rect x="423.1" y="67.4" width="56.89999999999998" height="66.5" fill="none" stroke="#111" stroke-width="1.5"/>
<text x="370.2" y="63.5" font-size="13.2" text-anchor="start" textLength="51.5" lengthAdjust="spacingAndGlyphs" >R2: 9.3%</text>
<text x="428.5" y="63.5" font-size="13.2" text-anchor="start" textLength="51.3" lengthAdjust="spacingAndGlyphs" >R3: 9.4%</text>
<g class="tk">
<text x="312.7" y="206.9" font-size="11.4" font-weight="bold" textLength="8.8" lengthAdjust="spacingAndGlyphs">10</text>
<text x="322.4" y="200.5" font-size="9.4" font-weight="bold" textLength="4.8" lengthAdjust="spacingAndGlyphs">0</text>
<g transform="translate(310.9 198.1) rotate(-90)"><text x="0" y="0" font-size="10.5" font-weight="bold" textLength="8.8" lengthAdjust="spacingAndGlyphs">10</text><text x="10.2" y="-5.4" font-size="8.6" font-weight="bold" textLength="4.8" lengthAdjust="spacingAndGlyphs">0</text></g>
<text x="355.3" y="206.9" font-size="11.4" font-weight="bold" textLength="8.8" lengthAdjust="spacingAndGlyphs">10</text>
<text x="365.0" y="200.5" font-size="9.4" font-weight="bold" textLength="4.8" lengthAdjust="spacingAndGlyphs">1</text>
<g transform="translate(310.9 156.4) rotate(-90)"><text x="0" y="0" font-size="10.5" font-weight="bold" textLength="8.8" lengthAdjust="spacingAndGlyphs">10</text><text x="10.2" y="-5.4" font-size="8.6" font-weight="bold" textLength="4.8" lengthAdjust="spacingAndGlyphs">1</text></g>
<text x="397.4" y="206.9" font-size="11.4" font-weight="bold" textLength="8.8" lengthAdjust="spacingAndGlyphs">10</text>
<text x="407.1" y="200.5" font-size="9.4" font-weight="bold" textLength="4.8" lengthAdjust="spacingAndGlyphs">2</text>
<g transform="translate(310.9 114.7) rotate(-90)"><text x="0" y="0" font-size="10.5" font-weight="bold" textLength="8.8" lengthAdjust="spacingAndGlyphs">10</text><text x="10.2" y="-5.4" font-size="8.6" font-weight="bold" textLength="4.8" lengthAdjust="spacingAndGlyphs">2</text></g>
<text x="439.0" y="206.9" font-size="11.4" font-weight="bold" textLength="8.8" lengthAdjust="spacingAndGlyphs">10</text>
<text x="448.7" y="200.5" font-size="9.4" font-weight="bold" textLength="4.8" lengthAdjust="spacingAndGlyphs">3</text>
<g transform="translate(310.9 72.9) rotate(-90)"><text x="0" y="0" font-size="10.5" font-weight="bold" textLength="8.8" lengthAdjust="spacingAndGlyphs">10</text><text x="10.2" y="-5.4" font-size="8.6" font-weight="bold" textLength="4.8" lengthAdjust="spacingAndGlyphs">3</text></g>
<text x="480.3" y="206.9" font-size="11.4" font-weight="bold" textLength="8.8" lengthAdjust="spacingAndGlyphs">10</text>
<text x="490.0" y="200.5" font-size="9.4" font-weight="bold" textLength="4.8" lengthAdjust="spacingAndGlyphs">4</text>
<g transform="translate(310.9 31.2) rotate(-90)"><text x="0" y="0" font-size="10.5" font-weight="bold" textLength="8.8" lengthAdjust="spacingAndGlyphs">10</text><text x="10.2" y="-5.4" font-size="8.6" font-weight="bold" textLength="4.8" lengthAdjust="spacingAndGlyphs">4</text></g>
</g>
<text x="36.2" y="125.3" font-size="15" text-anchor="start" textLength="38.3" lengthAdjust="spacingAndGlyphs" transform="rotate(-90 36.2 125.3)" >CD34</text>
<path d="M30.9 135.8V191M30.9 34V75.5" stroke="#111" stroke-width="1.5" fill="none"/>
<path d="M30.9 22.5L26.1 35.2H35.7Z" fill="#111"/>
<text x="266.6" y="219.6" font-size="14.6" text-anchor="start" textLength="30" lengthAdjust="spacingAndGlyphs" >GFP</text>
<path d="M75 213.6H250M315.5 213.8H478" stroke="#111" stroke-width="1.5" fill="none"/>
<path d="M490.6 213.8L477.2 209.2V218.4Z" fill="#111"/>
<rect x="320.3" y="242.4" width="190.4" height="86.2" fill="#fff" stroke="#111" stroke-width="1.5"/>
<rect x="329.6" y="257.6" width="11.2" height="10.4" fill="#fff" stroke="#111" stroke-width="1.4"/>
<text x="349.8" y="266.5" font-size="15.3" text-anchor="start" textLength="154.2" lengthAdjust="spacingAndGlyphs" >MND-RIG GFP high+</text>
<rect x="329.6" y="272.6" width="11.2" height="10.4" fill="#000" stroke="#111" stroke-width="1.4"/>
<text x="349.8" y="282.6" font-size="15.3" text-anchor="start" textLength="148" lengthAdjust="spacingAndGlyphs" >MND-RIG GFP low+</text>
<rect x="329.6" y="289.4" width="11.2" height="10.4" fill="#b8b8b8" stroke="#111" stroke-width="1.4"/>
<text x="349.8" y="299.1" font-size="15.3" text-anchor="start" textLength="123" lengthAdjust="spacingAndGlyphs" >MND-GFP GFP+</text>
<rect x="329.6" y="305.6" width="11.2" height="10.4" fill="url(#hatch2)" stroke="#111" stroke-width="1.4"/>
<text x="349.8" y="316.4" font-size="15.3" text-anchor="start" textLength="47.8" lengthAdjust="spacingAndGlyphs" >MOCK</text>
<path d="M74.5 382.1V332.5M69.6 332.5h9.8" stroke="#111" stroke-width="1.5" fill="none"/>
<rect x="65" y="382.1" width="19.0" height="160.7" fill="#fff" stroke="#111" stroke-width="1.5"/>
<path d="M93.5 391.5V348.6M88.6 348.6h9.8" stroke="#111" stroke-width="1.5" fill="none"/>
<rect x="84" y="391.5" width="19.0" height="151.3" fill="#000" stroke="#111" stroke-width="1.5"/>
<path d="M112.5 383.4V338.5M107.6 338.5h9.8" stroke="#111" stroke-width="1.5" fill="none"/>
<rect x="103" y="383.4" width="19.0" height="159.4" fill="#b8b8b8" stroke="#111" stroke-width="1.5"/>
<path d="M131.2 418.2V399.5M126.3 399.5h9.8" stroke="#111" stroke-width="1.5" fill="none"/>
<rect x="122" y="418.2" width="18.5" height="124.6" fill="url(#hatch)" stroke="#111" stroke-width="1.5"/>
<path d="M178.5 475.8V463.1M173.6 463.1h9.8" stroke="#111" stroke-width="1.5" fill="none"/>
<rect x="169" y="475.8" width="19.0" height="67.0" fill="#fff" stroke="#111" stroke-width="1.5"/>
<path d="M197.2 510.0V507.3M192.3 507.3h9.8" stroke="#111" stroke-width="1.5" fill="none"/>
<rect x="188" y="510.0" width="18.5" height="32.8" fill="#000" stroke="#111" stroke-width="1.5"/>
<path d="M216.2 512.0V511.3M211.3 511.3h9.8" stroke="#111" stroke-width="1.5" fill="none"/>
<rect x="206.5" y="512.0" width="19.5" height="30.8" fill="#b8b8b8" stroke="#111" stroke-width="1.5"/>
<path d="M235.5 526.7V526.1M230.6 526.1h9.8" stroke="#111" stroke-width="1.5" fill="none"/>
<rect x="226" y="526.7" width="19.0" height="16.1" fill="url(#hatch)" stroke="#111" stroke-width="1.5"/>
<path d="M49.1 328.5V542.8H256.9" stroke="#111" stroke-width="1.5" fill="none"/>
<line x1="45.6" y1="542.8" x2="49.1" y2="542.8" stroke="#111" stroke-width="1.2"/>
<text x="45.7" y="546.8" font-size="13" text-anchor="end" textLength="7.6" lengthAdjust="spacingAndGlyphs" >0</text>
<line x1="45.6" y1="489.2" x2="49.1" y2="489.2" stroke="#111" stroke-width="1.2"/>
<text x="45.7" y="493.2" font-size="13" text-anchor="end" textLength="15.4" lengthAdjust="spacingAndGlyphs" >40</text>
<line x1="45.6" y1="435.6" x2="49.1" y2="435.6" stroke="#111" stroke-width="1.2"/>
<text x="45.7" y="439.6" font-size="13" text-anchor="end" textLength="15.4" lengthAdjust="spacingAndGlyphs" >80</text>
<line x1="45.6" y1="382.1" x2="49.1" y2="382.1" stroke="#111" stroke-width="1.2"/>
<text x="45.7" y="386.1" font-size="13" text-anchor="end" textLength="20.2" lengthAdjust="spacingAndGlyphs" >120</text>
<line x1="45.6" y1="328.5" x2="49.1" y2="328.5" stroke="#111" stroke-width="1.2"/>
<text x="45.7" y="332.5" font-size="13" text-anchor="end" textLength="20.2" lengthAdjust="spacingAndGlyphs" >160</text>
<text x="12.8" y="477" font-size="14.8" text-anchor="start" textLength="117" lengthAdjust="spacingAndGlyphs" transform="rotate(-90 12.8 477)" >CFU-E/1000 cells</text>
<text x="54" y="560.2" font-size="15.8" text-anchor="start" textLength="53.5" lengthAdjust="spacingAndGlyphs" >Healthy</text>
<text x="117.2" y="560.2" font-size="15.8" text-anchor="start" textLength="37" lengthAdjust="spacingAndGlyphs" >(n=3)</text>
<text x="192.2" y="560.2" font-size="15.8" text-anchor="start" textLength="27.5" lengthAdjust="spacingAndGlyphs" >Pt 1</text>
<path d="M333.3 407.1V360.2M328.4 360.2h9.8" stroke="#111" stroke-width="1.5" fill="none"/>
<rect x="324" y="407.1" width="18.6" height="134.4" fill="#fff" stroke="#111" stroke-width="1.5"/>
<path d="M352.5 418.7V381.9M347.6 381.9h9.8" stroke="#111" stroke-width="1.5" fill="none"/>
<rect x="342.6" y="418.7" width="19.7" height="122.8" fill="#000" stroke="#111" stroke-width="1.5"/>
<path d="M371.9 412.4V373.6M367.0 373.6h9.8" stroke="#111" stroke-width="1.5" fill="none"/>
<rect x="362.3" y="412.4" width="19.2" height="129.1" fill="#b8b8b8" stroke="#111" stroke-width="1.5"/>
<path d="M390.6 445.1V426.4M385.8 426.4h9.8" stroke="#111" stroke-width="1.5" fill="none"/>
<rect x="381.5" y="445.1" width="18.3" height="96.4" fill="url(#hatch)" stroke="#111" stroke-width="1.5"/>
<path d="M439.5 490.6V478.6M434.6 478.6h9.8" stroke="#111" stroke-width="1.5" fill="none"/>
<rect x="429.6" y="490.6" width="19.7" height="50.9" fill="#fff" stroke="#111" stroke-width="1.5"/>
<path d="M458.8 517.4V516.3M453.9 516.3h9.8" stroke="#111" stroke-width="1.5" fill="none"/>
<rect x="449.3" y="517.4" width="18.9" height="24.1" fill="#000" stroke="#111" stroke-width="1.5"/>
<path d="M478.1 518.7V518.1M473.2 518.1h9.8" stroke="#111" stroke-width="1.5" fill="none"/>
<rect x="468.2" y="518.7" width="19.8" height="22.8" fill="#b8b8b8" stroke="#111" stroke-width="1.5"/>
<path d="M497.2 531.3V528.6M492.4 528.6h9.8" stroke="#111" stroke-width="1.5" fill="none"/>
<rect x="488" y="531.3" width="18.5" height="10.2" fill="url(#hatch)" stroke="#111" stroke-width="1.5"/>
<path d="M308.5 327.3V541.5H517.7" stroke="#111" stroke-width="1.5" fill="none"/>
<line x1="305.0" y1="541.5" x2="308.5" y2="541.5" stroke="#111" stroke-width="1.2"/>
<text x="305.1" y="545.5" font-size="13" text-anchor="end" textLength="7.6" lengthAdjust="spacingAndGlyphs" >0</text>
<line x1="305.0" y1="487.9" x2="308.5" y2="487.9" stroke="#111" stroke-width="1.2"/>
<text x="305.1" y="491.9" font-size="13" text-anchor="end" textLength="15.4" lengthAdjust="spacingAndGlyphs" >40</text>
<line x1="305.0" y1="434.4" x2="308.5" y2="434.4" stroke="#111" stroke-width="1.2"/>
<text x="305.1" y="438.4" font-size="13" text-anchor="end" textLength="15.4" lengthAdjust="spacingAndGlyphs" >80</text>
<line x1="305.0" y1="380.9" x2="308.5" y2="380.9" stroke="#111" stroke-width="1.2"/>
<text x="305.1" y="384.9" font-size="13" text-anchor="end" textLength="20.2" lengthAdjust="spacingAndGlyphs" >120</text>
<line x1="305.0" y1="327.3" x2="308.5" y2="327.3" stroke="#111" stroke-width="1.2"/>
<text x="305.1" y="331.3" font-size="13" text-anchor="end" textLength="20.2" lengthAdjust="spacingAndGlyphs" >160</text>
<text x="276.4" y="478.7" font-size="14.8" text-anchor="start" textLength="116.7" lengthAdjust="spacingAndGlyphs" transform="rotate(-90 276.4 478.7)" >BFU-E/1000 cells</text>
<text x="315" y="558.9" font-size="15.8" text-anchor="start" textLength="53.5" lengthAdjust="spacingAndGlyphs" >Healthy</text>
<text x="379" y="558.9" font-size="15.8" text-anchor="start" textLength="36.5" lengthAdjust="spacingAndGlyphs" >(n=3)</text>
<text x="452.8" y="558.9" font-size="15.8" text-anchor="start" textLength="23" lengthAdjust="spacingAndGlyphs" >Pt1</text>
</svg>
</body></html>
